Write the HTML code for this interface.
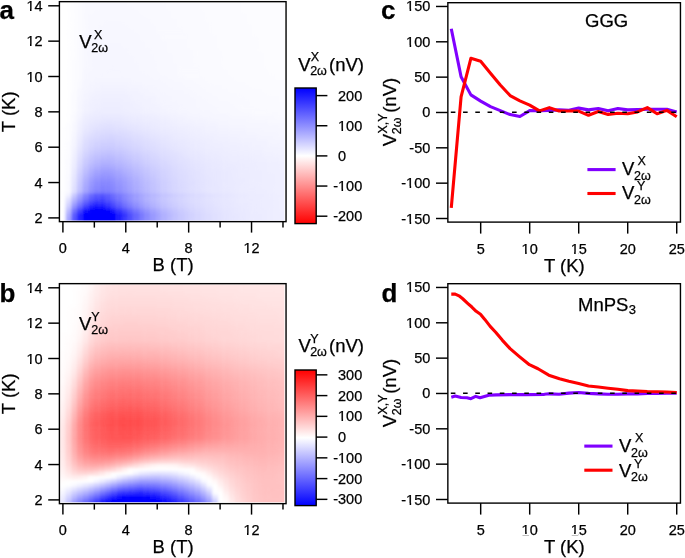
<!DOCTYPE html>
<html><head><meta charset="utf-8"><style>html,body{margin:0;padding:0;background:#fff;overflow:hidden}svg{display:block;will-change:transform}text{stroke:#000;stroke-width:0.25px}</style></head><body>
<svg width="685" height="558" viewBox="0 0 685 558" font-family='"Liberation Sans", sans-serif' fill="#000">
<defs>
<clipPath id="clipa"><rect x="60.0" y="2.3" width="224.39999999999998" height="218.29999999999998"/></clipPath>
<filter id="blura" x="-5%" y="-5%" width="110%" height="110%"><feGaussianBlur stdDeviation="1.6"/></filter>
<clipPath id="clipb"><rect x="60.0" y="284.4" width="224.39999999999998" height="217.90000000000003"/></clipPath>
<filter id="blurb" x="-5%" y="-5%" width="110%" height="110%"><feGaussianBlur stdDeviation="1.6"/></filter>
<linearGradient id="cba" x1="0" y1="0" x2="0" y2="1"><stop offset="0" stop-color="#0000ff"/><stop offset="0.5" stop-color="#ffffff"/><stop offset="1" stop-color="#ff0000"/></linearGradient>
<linearGradient id="cbb" x1="0" y1="0" x2="0" y2="1"><stop offset="0" stop-color="#ff0000"/><stop offset="0.5" stop-color="#ffffff"/><stop offset="1" stop-color="#0000ff"/></linearGradient>
</defs>
<g clip-path="url(#clipa)"><g filter="url(#blura)">
<rect x="71.3" y="-1.7" width="5.9" height="4.2" fill="#fdfdff"/>
<rect x="76.9" y="-1.7" width="5.9" height="4.2" fill="#fbfbff"/>
<rect x="82.5" y="-1.7" width="22.8" height="4.2" fill="#f9f9ff"/>
<rect x="105.1" y="-1.7" width="17.2" height="4.2" fill="#f8f8ff"/>
<rect x="122.0" y="-1.7" width="39.7" height="4.2" fill="#f9f9ff"/>
<rect x="161.4" y="-1.7" width="39.7" height="4.2" fill="#fafaff"/>
<rect x="200.8" y="-1.7" width="39.7" height="4.2" fill="#fbfbff"/>
<rect x="240.2" y="-1.7" width="51.0" height="4.2" fill="#fcfcff"/>
<rect x="65.6" y="2.2" width="5.9" height="4.2" fill="#fefeff"/>
<rect x="71.3" y="2.2" width="5.9" height="4.2" fill="#fdfdff"/>
<rect x="76.9" y="2.2" width="5.9" height="4.2" fill="#fbfbff"/>
<rect x="82.5" y="2.2" width="17.2" height="4.2" fill="#f9f9ff"/>
<rect x="99.4" y="2.2" width="28.5" height="4.2" fill="#f8f8ff"/>
<rect x="127.6" y="2.2" width="39.7" height="4.2" fill="#f9f9ff"/>
<rect x="167.0" y="2.2" width="34.1" height="4.2" fill="#fafaff"/>
<rect x="200.8" y="2.2" width="39.7" height="4.2" fill="#fbfbff"/>
<rect x="240.2" y="2.2" width="51.0" height="4.2" fill="#fcfcff"/>
<rect x="65.6" y="6.1" width="5.9" height="4.2" fill="#fefeff"/>
<rect x="71.3" y="6.1" width="5.9" height="4.2" fill="#fdfdff"/>
<rect x="76.9" y="6.1" width="5.9" height="4.2" fill="#fbfbff"/>
<rect x="82.5" y="6.1" width="17.2" height="4.2" fill="#f9f9ff"/>
<rect x="99.4" y="6.1" width="34.1" height="4.2" fill="#f8f8ff"/>
<rect x="133.2" y="6.1" width="34.1" height="4.2" fill="#f9f9ff"/>
<rect x="167.0" y="6.1" width="34.1" height="4.2" fill="#fafaff"/>
<rect x="200.8" y="6.1" width="39.7" height="4.2" fill="#fbfbff"/>
<rect x="240.2" y="6.1" width="51.0" height="4.2" fill="#fcfcff"/>
<rect x="65.6" y="10.0" width="5.9" height="4.2" fill="#fefeff"/>
<rect x="71.3" y="10.0" width="5.9" height="4.2" fill="#fdfdff"/>
<rect x="76.9" y="10.0" width="5.9" height="4.2" fill="#fbfbff"/>
<rect x="82.5" y="10.0" width="11.6" height="4.2" fill="#f9f9ff"/>
<rect x="93.8" y="10.0" width="45.4" height="4.2" fill="#f8f8ff"/>
<rect x="138.9" y="10.0" width="34.1" height="4.2" fill="#f9f9ff"/>
<rect x="172.7" y="10.0" width="34.1" height="4.2" fill="#fafaff"/>
<rect x="206.4" y="10.0" width="34.1" height="4.2" fill="#fbfbff"/>
<rect x="240.2" y="10.0" width="51.0" height="4.2" fill="#fcfcff"/>
<rect x="65.6" y="13.9" width="5.9" height="4.2" fill="#fefeff"/>
<rect x="71.3" y="13.9" width="5.9" height="4.2" fill="#fdfdff"/>
<rect x="76.9" y="13.9" width="5.9" height="4.2" fill="#fbfbff"/>
<rect x="82.5" y="13.9" width="5.9" height="4.2" fill="#f9f9ff"/>
<rect x="88.2" y="13.9" width="56.6" height="4.2" fill="#f8f8ff"/>
<rect x="144.5" y="13.9" width="28.5" height="4.2" fill="#f9f9ff"/>
<rect x="172.7" y="13.9" width="34.1" height="4.2" fill="#fafaff"/>
<rect x="206.4" y="13.9" width="39.7" height="4.2" fill="#fbfbff"/>
<rect x="245.9" y="13.9" width="45.4" height="4.2" fill="#fcfcff"/>
<rect x="65.6" y="17.8" width="5.9" height="4.2" fill="#fefeff"/>
<rect x="71.3" y="17.8" width="5.9" height="4.2" fill="#fdfdff"/>
<rect x="76.9" y="17.8" width="5.9" height="4.2" fill="#fbfbff"/>
<rect x="82.5" y="17.8" width="5.9" height="4.2" fill="#f9f9ff"/>
<rect x="88.2" y="17.8" width="62.3" height="4.2" fill="#f8f8ff"/>
<rect x="150.1" y="17.8" width="28.5" height="4.2" fill="#f9f9ff"/>
<rect x="178.3" y="17.8" width="28.5" height="4.2" fill="#fafaff"/>
<rect x="206.4" y="17.8" width="39.7" height="4.2" fill="#fbfbff"/>
<rect x="245.9" y="17.8" width="45.4" height="4.2" fill="#fcfcff"/>
<rect x="65.6" y="21.7" width="5.9" height="4.2" fill="#fefeff"/>
<rect x="71.3" y="21.7" width="5.9" height="4.2" fill="#fdfdff"/>
<rect x="76.9" y="21.7" width="5.9" height="4.2" fill="#fbfbff"/>
<rect x="82.5" y="21.7" width="5.9" height="4.2" fill="#f9f9ff"/>
<rect x="88.2" y="21.7" width="17.2" height="4.2" fill="#f8f8ff"/>
<rect x="105.1" y="21.7" width="17.2" height="4.2" fill="#f7f7ff"/>
<rect x="122.0" y="21.7" width="28.5" height="4.2" fill="#f8f8ff"/>
<rect x="150.1" y="21.7" width="28.5" height="4.2" fill="#f9f9ff"/>
<rect x="178.3" y="21.7" width="34.1" height="4.2" fill="#fafaff"/>
<rect x="212.1" y="21.7" width="34.1" height="4.2" fill="#fbfbff"/>
<rect x="245.9" y="21.7" width="45.4" height="4.2" fill="#fcfcff"/>
<rect x="65.6" y="25.6" width="5.9" height="4.2" fill="#fefeff"/>
<rect x="71.3" y="25.6" width="5.9" height="4.2" fill="#fdfdff"/>
<rect x="76.9" y="25.6" width="5.9" height="4.2" fill="#fbfbff"/>
<rect x="82.5" y="25.6" width="5.9" height="4.2" fill="#f9f9ff"/>
<rect x="88.2" y="25.6" width="11.6" height="4.2" fill="#f8f8ff"/>
<rect x="99.4" y="25.6" width="28.5" height="4.2" fill="#f7f7ff"/>
<rect x="127.6" y="25.6" width="28.5" height="4.2" fill="#f8f8ff"/>
<rect x="155.8" y="25.6" width="28.5" height="4.2" fill="#f9f9ff"/>
<rect x="183.9" y="25.6" width="28.5" height="4.2" fill="#fafaff"/>
<rect x="212.1" y="25.6" width="39.7" height="4.2" fill="#fbfbff"/>
<rect x="251.5" y="25.6" width="39.7" height="4.2" fill="#fcfcff"/>
<rect x="65.6" y="29.5" width="5.9" height="4.2" fill="#fefeff"/>
<rect x="71.3" y="29.5" width="5.9" height="4.2" fill="#fdfdff"/>
<rect x="76.9" y="29.5" width="5.9" height="4.2" fill="#fbfbff"/>
<rect x="82.5" y="29.5" width="5.9" height="4.2" fill="#f9f9ff"/>
<rect x="88.2" y="29.5" width="11.6" height="4.2" fill="#f8f8ff"/>
<rect x="99.4" y="29.5" width="34.1" height="4.2" fill="#f7f7ff"/>
<rect x="133.2" y="29.5" width="22.8" height="4.2" fill="#f8f8ff"/>
<rect x="155.8" y="29.5" width="28.5" height="4.2" fill="#f9f9ff"/>
<rect x="183.9" y="29.5" width="28.5" height="4.2" fill="#fafaff"/>
<rect x="212.1" y="29.5" width="39.7" height="4.2" fill="#fbfbff"/>
<rect x="251.5" y="29.5" width="39.7" height="4.2" fill="#fcfcff"/>
<rect x="65.6" y="33.4" width="5.9" height="4.2" fill="#fefeff"/>
<rect x="71.3" y="33.4" width="5.9" height="4.2" fill="#fdfdff"/>
<rect x="76.9" y="33.4" width="5.9" height="4.2" fill="#fbfbff"/>
<rect x="82.5" y="33.4" width="11.6" height="4.2" fill="#f8f8ff"/>
<rect x="93.8" y="33.4" width="45.4" height="4.2" fill="#f7f7ff"/>
<rect x="138.9" y="33.4" width="22.8" height="4.2" fill="#f8f8ff"/>
<rect x="161.4" y="33.4" width="28.5" height="4.2" fill="#f9f9ff"/>
<rect x="189.5" y="33.4" width="28.5" height="4.2" fill="#fafaff"/>
<rect x="217.7" y="33.4" width="34.1" height="4.2" fill="#fbfbff"/>
<rect x="251.5" y="33.4" width="39.7" height="4.2" fill="#fcfcff"/>
<rect x="65.6" y="37.3" width="5.9" height="4.2" fill="#fefeff"/>
<rect x="71.3" y="37.3" width="5.9" height="4.2" fill="#fdfdff"/>
<rect x="76.9" y="37.3" width="5.9" height="4.2" fill="#fafaff"/>
<rect x="82.5" y="37.3" width="11.6" height="4.2" fill="#f8f8ff"/>
<rect x="93.8" y="37.3" width="45.4" height="4.2" fill="#f7f7ff"/>
<rect x="138.9" y="37.3" width="22.8" height="4.2" fill="#f8f8ff"/>
<rect x="161.4" y="37.3" width="28.5" height="4.2" fill="#f9f9ff"/>
<rect x="189.5" y="37.3" width="28.5" height="4.2" fill="#fafaff"/>
<rect x="217.7" y="37.3" width="39.7" height="4.2" fill="#fbfbff"/>
<rect x="257.1" y="37.3" width="34.1" height="4.2" fill="#fcfcff"/>
<rect x="65.6" y="41.2" width="5.9" height="4.2" fill="#fefeff"/>
<rect x="71.3" y="41.2" width="5.9" height="4.2" fill="#fdfdff"/>
<rect x="76.9" y="41.2" width="5.9" height="4.2" fill="#fafaff"/>
<rect x="82.5" y="41.2" width="5.9" height="4.2" fill="#f8f8ff"/>
<rect x="88.2" y="41.2" width="56.6" height="4.2" fill="#f7f7ff"/>
<rect x="144.5" y="41.2" width="22.8" height="4.2" fill="#f8f8ff"/>
<rect x="167.0" y="41.2" width="22.8" height="4.2" fill="#f9f9ff"/>
<rect x="189.5" y="41.2" width="28.5" height="4.2" fill="#fafaff"/>
<rect x="217.7" y="41.2" width="39.7" height="4.2" fill="#fbfbff"/>
<rect x="257.1" y="41.2" width="34.1" height="4.2" fill="#fcfcff"/>
<rect x="65.6" y="45.1" width="5.9" height="4.2" fill="#fefeff"/>
<rect x="71.3" y="45.1" width="5.9" height="4.2" fill="#fdfdff"/>
<rect x="76.9" y="45.1" width="5.9" height="4.2" fill="#fafaff"/>
<rect x="82.5" y="45.1" width="5.9" height="4.2" fill="#f8f8ff"/>
<rect x="88.2" y="45.1" width="17.2" height="4.2" fill="#f7f7ff"/>
<rect x="105.1" y="45.1" width="17.2" height="4.2" fill="#f6f6ff"/>
<rect x="122.0" y="45.1" width="22.8" height="4.2" fill="#f7f7ff"/>
<rect x="144.5" y="45.1" width="22.8" height="4.2" fill="#f8f8ff"/>
<rect x="167.0" y="45.1" width="22.8" height="4.2" fill="#f9f9ff"/>
<rect x="189.5" y="45.1" width="28.5" height="4.2" fill="#fafaff"/>
<rect x="217.7" y="45.1" width="39.7" height="4.2" fill="#fbfbff"/>
<rect x="257.1" y="45.1" width="34.1" height="4.2" fill="#fcfcff"/>
<rect x="65.6" y="49.0" width="5.9" height="4.2" fill="#fefeff"/>
<rect x="71.3" y="49.0" width="5.9" height="4.2" fill="#fdfdff"/>
<rect x="76.9" y="49.0" width="5.9" height="4.2" fill="#fafaff"/>
<rect x="82.5" y="49.0" width="5.9" height="4.2" fill="#f8f8ff"/>
<rect x="88.2" y="49.0" width="11.6" height="4.2" fill="#f7f7ff"/>
<rect x="99.4" y="49.0" width="28.5" height="4.2" fill="#f6f6ff"/>
<rect x="127.6" y="49.0" width="22.8" height="4.2" fill="#f7f7ff"/>
<rect x="150.1" y="49.0" width="17.2" height="4.2" fill="#f8f8ff"/>
<rect x="167.0" y="49.0" width="28.5" height="4.2" fill="#f9f9ff"/>
<rect x="195.2" y="49.0" width="28.5" height="4.2" fill="#fafaff"/>
<rect x="223.3" y="49.0" width="34.1" height="4.2" fill="#fbfbff"/>
<rect x="257.1" y="49.0" width="34.1" height="4.2" fill="#fcfcff"/>
<rect x="65.6" y="52.9" width="5.9" height="4.2" fill="#fefeff"/>
<rect x="71.3" y="52.9" width="5.9" height="4.2" fill="#fdfdff"/>
<rect x="76.9" y="52.9" width="5.9" height="4.2" fill="#fafaff"/>
<rect x="82.5" y="52.9" width="5.9" height="4.2" fill="#f8f8ff"/>
<rect x="88.2" y="52.9" width="11.6" height="4.2" fill="#f7f7ff"/>
<rect x="99.4" y="52.9" width="28.5" height="4.2" fill="#f6f6ff"/>
<rect x="127.6" y="52.9" width="22.8" height="4.2" fill="#f7f7ff"/>
<rect x="150.1" y="52.9" width="22.8" height="4.2" fill="#f8f8ff"/>
<rect x="172.7" y="52.9" width="22.8" height="4.2" fill="#f9f9ff"/>
<rect x="195.2" y="52.9" width="28.5" height="4.2" fill="#fafaff"/>
<rect x="223.3" y="52.9" width="39.7" height="4.2" fill="#fbfbff"/>
<rect x="262.8" y="52.9" width="28.5" height="4.2" fill="#fcfcff"/>
<rect x="65.6" y="56.8" width="5.9" height="4.2" fill="#fefeff"/>
<rect x="71.3" y="56.8" width="5.9" height="4.2" fill="#fdfdff"/>
<rect x="76.9" y="56.8" width="5.9" height="4.2" fill="#fafaff"/>
<rect x="82.5" y="56.8" width="5.9" height="4.2" fill="#f8f8ff"/>
<rect x="88.2" y="56.8" width="5.9" height="4.2" fill="#f7f7ff"/>
<rect x="93.8" y="56.8" width="39.7" height="4.2" fill="#f6f6ff"/>
<rect x="133.2" y="56.8" width="17.2" height="4.2" fill="#f7f7ff"/>
<rect x="150.1" y="56.8" width="22.8" height="4.2" fill="#f8f8ff"/>
<rect x="172.7" y="56.8" width="22.8" height="4.2" fill="#f9f9ff"/>
<rect x="195.2" y="56.8" width="28.5" height="4.2" fill="#fafaff"/>
<rect x="223.3" y="56.8" width="39.7" height="4.2" fill="#fbfbff"/>
<rect x="262.8" y="56.8" width="28.5" height="4.2" fill="#fcfcff"/>
<rect x="65.6" y="60.7" width="5.9" height="4.2" fill="#fefeff"/>
<rect x="71.3" y="60.7" width="5.9" height="4.2" fill="#fcfcff"/>
<rect x="76.9" y="60.7" width="5.9" height="4.2" fill="#fafaff"/>
<rect x="82.5" y="60.7" width="5.9" height="4.2" fill="#f8f8ff"/>
<rect x="88.2" y="60.7" width="5.9" height="4.2" fill="#f7f7ff"/>
<rect x="93.8" y="60.7" width="39.7" height="4.2" fill="#f6f6ff"/>
<rect x="133.2" y="60.7" width="22.8" height="4.2" fill="#f7f7ff"/>
<rect x="155.8" y="60.7" width="17.2" height="4.2" fill="#f8f8ff"/>
<rect x="172.7" y="60.7" width="22.8" height="4.2" fill="#f9f9ff"/>
<rect x="195.2" y="60.7" width="28.5" height="4.2" fill="#fafaff"/>
<rect x="223.3" y="60.7" width="39.7" height="4.2" fill="#fbfbff"/>
<rect x="262.8" y="60.7" width="28.5" height="4.2" fill="#fcfcff"/>
<rect x="65.6" y="64.6" width="5.9" height="4.2" fill="#fefeff"/>
<rect x="71.3" y="64.6" width="5.9" height="4.2" fill="#fcfcff"/>
<rect x="76.9" y="64.6" width="5.9" height="4.2" fill="#fafaff"/>
<rect x="82.5" y="64.6" width="5.9" height="4.2" fill="#f8f8ff"/>
<rect x="88.2" y="64.6" width="5.9" height="4.2" fill="#f7f7ff"/>
<rect x="93.8" y="64.6" width="17.2" height="4.2" fill="#f6f6ff"/>
<rect x="110.7" y="64.6" width="5.9" height="4.2" fill="#f5f5ff"/>
<rect x="116.3" y="64.6" width="22.8" height="4.2" fill="#f6f6ff"/>
<rect x="138.9" y="64.6" width="17.2" height="4.2" fill="#f7f7ff"/>
<rect x="155.8" y="64.6" width="22.8" height="4.2" fill="#f8f8ff"/>
<rect x="178.3" y="64.6" width="22.8" height="4.2" fill="#f9f9ff"/>
<rect x="200.8" y="64.6" width="22.8" height="4.2" fill="#fafaff"/>
<rect x="223.3" y="64.6" width="39.7" height="4.2" fill="#fbfbff"/>
<rect x="262.8" y="64.6" width="28.5" height="4.2" fill="#fcfcff"/>
<rect x="65.6" y="68.5" width="5.9" height="4.2" fill="#fefeff"/>
<rect x="71.3" y="68.5" width="5.9" height="4.2" fill="#fcfcff"/>
<rect x="76.9" y="68.5" width="5.9" height="4.2" fill="#fafaff"/>
<rect x="82.5" y="68.5" width="11.6" height="4.2" fill="#f7f7ff"/>
<rect x="93.8" y="68.5" width="11.6" height="4.2" fill="#f6f6ff"/>
<rect x="105.1" y="68.5" width="17.2" height="4.2" fill="#f5f5ff"/>
<rect x="122.0" y="68.5" width="17.2" height="4.2" fill="#f6f6ff"/>
<rect x="138.9" y="68.5" width="17.2" height="4.2" fill="#f7f7ff"/>
<rect x="155.8" y="68.5" width="22.8" height="4.2" fill="#f8f8ff"/>
<rect x="178.3" y="68.5" width="22.8" height="4.2" fill="#f9f9ff"/>
<rect x="200.8" y="68.5" width="28.5" height="4.2" fill="#fafaff"/>
<rect x="229.0" y="68.5" width="39.7" height="4.2" fill="#fbfbff"/>
<rect x="268.4" y="68.5" width="22.8" height="4.2" fill="#fcfcff"/>
<rect x="65.6" y="72.4" width="5.9" height="4.2" fill="#fefeff"/>
<rect x="71.3" y="72.4" width="5.9" height="4.2" fill="#fcfcff"/>
<rect x="76.9" y="72.4" width="5.9" height="4.2" fill="#fafaff"/>
<rect x="82.5" y="72.4" width="5.9" height="4.2" fill="#f7f7ff"/>
<rect x="88.2" y="72.4" width="11.6" height="4.2" fill="#f6f6ff"/>
<rect x="99.4" y="72.4" width="22.8" height="4.2" fill="#f5f5ff"/>
<rect x="122.0" y="72.4" width="22.8" height="4.2" fill="#f6f6ff"/>
<rect x="144.5" y="72.4" width="17.2" height="4.2" fill="#f7f7ff"/>
<rect x="161.4" y="72.4" width="17.2" height="4.2" fill="#f8f8ff"/>
<rect x="178.3" y="72.4" width="22.8" height="4.2" fill="#f9f9ff"/>
<rect x="200.8" y="72.4" width="28.5" height="4.2" fill="#fafaff"/>
<rect x="229.0" y="72.4" width="39.7" height="4.2" fill="#fbfbff"/>
<rect x="268.4" y="72.4" width="22.8" height="4.2" fill="#fcfcff"/>
<rect x="65.6" y="76.3" width="5.9" height="4.2" fill="#fefeff"/>
<rect x="71.3" y="76.3" width="5.9" height="4.2" fill="#fcfcff"/>
<rect x="76.9" y="76.3" width="5.9" height="4.2" fill="#fafaff"/>
<rect x="82.5" y="76.3" width="5.9" height="4.2" fill="#f7f7ff"/>
<rect x="88.2" y="76.3" width="5.9" height="4.2" fill="#f6f6ff"/>
<rect x="93.8" y="76.3" width="39.7" height="4.2" fill="#f5f5ff"/>
<rect x="133.2" y="76.3" width="17.2" height="4.2" fill="#f6f6ff"/>
<rect x="150.1" y="76.3" width="17.2" height="4.2" fill="#f7f7ff"/>
<rect x="167.0" y="76.3" width="17.2" height="4.2" fill="#f8f8ff"/>
<rect x="183.9" y="76.3" width="22.8" height="4.2" fill="#f9f9ff"/>
<rect x="206.4" y="76.3" width="28.5" height="4.2" fill="#fafaff"/>
<rect x="234.6" y="76.3" width="39.7" height="4.2" fill="#fbfbff"/>
<rect x="274.0" y="76.3" width="17.2" height="4.2" fill="#fcfcff"/>
<rect x="65.6" y="80.2" width="5.9" height="4.2" fill="#fefeff"/>
<rect x="71.3" y="80.2" width="5.9" height="4.2" fill="#fcfcff"/>
<rect x="76.9" y="80.2" width="5.9" height="4.2" fill="#f9f9ff"/>
<rect x="82.5" y="80.2" width="5.9" height="4.2" fill="#f6f6ff"/>
<rect x="88.2" y="80.2" width="5.9" height="4.2" fill="#f5f5ff"/>
<rect x="93.8" y="80.2" width="39.7" height="4.2" fill="#f4f4ff"/>
<rect x="133.2" y="80.2" width="11.6" height="4.2" fill="#f5f5ff"/>
<rect x="144.5" y="80.2" width="17.2" height="4.2" fill="#f6f6ff"/>
<rect x="161.4" y="80.2" width="11.6" height="4.2" fill="#f7f7ff"/>
<rect x="172.7" y="80.2" width="22.8" height="4.2" fill="#f8f8ff"/>
<rect x="195.2" y="80.2" width="17.2" height="4.2" fill="#f9f9ff"/>
<rect x="212.1" y="80.2" width="34.1" height="4.2" fill="#fafaff"/>
<rect x="245.9" y="80.2" width="39.7" height="4.2" fill="#fbfbff"/>
<rect x="285.3" y="80.2" width="5.9" height="4.2" fill="#fcfcff"/>
<rect x="65.6" y="84.1" width="5.9" height="4.2" fill="#fefeff"/>
<rect x="71.3" y="84.1" width="5.9" height="4.2" fill="#fcfcff"/>
<rect x="76.9" y="84.1" width="5.9" height="4.2" fill="#f9f9ff"/>
<rect x="82.5" y="84.1" width="5.9" height="4.2" fill="#f6f6ff"/>
<rect x="88.2" y="84.1" width="11.6" height="4.2" fill="#f4f4ff"/>
<rect x="99.4" y="84.1" width="28.5" height="4.2" fill="#f3f3ff"/>
<rect x="127.6" y="84.1" width="17.2" height="4.2" fill="#f4f4ff"/>
<rect x="144.5" y="84.1" width="11.6" height="4.2" fill="#f5f5ff"/>
<rect x="155.8" y="84.1" width="11.6" height="4.2" fill="#f6f6ff"/>
<rect x="167.0" y="84.1" width="17.2" height="4.2" fill="#f7f7ff"/>
<rect x="183.9" y="84.1" width="17.2" height="4.2" fill="#f8f8ff"/>
<rect x="200.8" y="84.1" width="22.8" height="4.2" fill="#f9f9ff"/>
<rect x="223.3" y="84.1" width="28.5" height="4.2" fill="#fafaff"/>
<rect x="251.5" y="84.1" width="39.7" height="4.2" fill="#fbfbff"/>
<rect x="65.6" y="88.0" width="5.9" height="4.2" fill="#fefeff"/>
<rect x="71.3" y="88.0" width="5.9" height="4.2" fill="#fcfcff"/>
<rect x="76.9" y="88.0" width="5.9" height="4.2" fill="#f8f8ff"/>
<rect x="82.5" y="88.0" width="5.9" height="4.2" fill="#f5f5ff"/>
<rect x="88.2" y="88.0" width="5.9" height="4.2" fill="#f4f4ff"/>
<rect x="93.8" y="88.0" width="5.9" height="4.2" fill="#f3f3ff"/>
<rect x="99.4" y="88.0" width="28.5" height="4.2" fill="#f2f2ff"/>
<rect x="127.6" y="88.0" width="11.6" height="4.2" fill="#f3f3ff"/>
<rect x="138.9" y="88.0" width="11.6" height="4.2" fill="#f4f4ff"/>
<rect x="150.1" y="88.0" width="11.6" height="4.2" fill="#f5f5ff"/>
<rect x="161.4" y="88.0" width="11.6" height="4.2" fill="#f6f6ff"/>
<rect x="172.7" y="88.0" width="17.2" height="4.2" fill="#f7f7ff"/>
<rect x="189.5" y="88.0" width="17.2" height="4.2" fill="#f8f8ff"/>
<rect x="206.4" y="88.0" width="22.8" height="4.2" fill="#f9f9ff"/>
<rect x="229.0" y="88.0" width="34.1" height="4.2" fill="#fafaff"/>
<rect x="262.8" y="88.0" width="28.5" height="4.2" fill="#fbfbff"/>
<rect x="65.6" y="91.9" width="5.9" height="4.2" fill="#fefeff"/>
<rect x="71.3" y="91.9" width="5.9" height="4.2" fill="#fbfbff"/>
<rect x="76.9" y="91.9" width="5.9" height="4.2" fill="#f8f8ff"/>
<rect x="82.5" y="91.9" width="5.9" height="4.2" fill="#f4f4ff"/>
<rect x="88.2" y="91.9" width="5.9" height="4.2" fill="#f3f3ff"/>
<rect x="93.8" y="91.9" width="5.9" height="4.2" fill="#f2f2ff"/>
<rect x="99.4" y="91.9" width="28.5" height="4.2" fill="#f1f1ff"/>
<rect x="127.6" y="91.9" width="11.6" height="4.2" fill="#f2f2ff"/>
<rect x="138.9" y="91.9" width="5.9" height="4.2" fill="#f3f3ff"/>
<rect x="144.5" y="91.9" width="11.6" height="4.2" fill="#f4f4ff"/>
<rect x="155.8" y="91.9" width="11.6" height="4.2" fill="#f5f5ff"/>
<rect x="167.0" y="91.9" width="17.2" height="4.2" fill="#f6f6ff"/>
<rect x="183.9" y="91.9" width="11.6" height="4.2" fill="#f7f7ff"/>
<rect x="195.2" y="91.9" width="17.2" height="4.2" fill="#f8f8ff"/>
<rect x="212.1" y="91.9" width="28.5" height="4.2" fill="#f9f9ff"/>
<rect x="240.2" y="91.9" width="28.5" height="4.2" fill="#fafaff"/>
<rect x="268.4" y="91.9" width="22.8" height="4.2" fill="#fbfbff"/>
<rect x="65.6" y="95.8" width="5.9" height="4.2" fill="#fefeff"/>
<rect x="71.3" y="95.8" width="5.9" height="4.2" fill="#fbfbff"/>
<rect x="76.9" y="95.8" width="5.9" height="4.2" fill="#f7f7ff"/>
<rect x="82.5" y="95.8" width="5.9" height="4.2" fill="#f4f4ff"/>
<rect x="88.2" y="95.8" width="5.9" height="4.2" fill="#f2f2ff"/>
<rect x="93.8" y="95.8" width="5.9" height="4.2" fill="#f1f1ff"/>
<rect x="99.4" y="95.8" width="28.5" height="4.2" fill="#f0f0ff"/>
<rect x="127.6" y="95.8" width="5.9" height="4.2" fill="#f1f1ff"/>
<rect x="133.2" y="95.8" width="11.6" height="4.2" fill="#f2f2ff"/>
<rect x="144.5" y="95.8" width="11.6" height="4.2" fill="#f3f3ff"/>
<rect x="155.8" y="95.8" width="5.9" height="4.2" fill="#f4f4ff"/>
<rect x="161.4" y="95.8" width="11.6" height="4.2" fill="#f5f5ff"/>
<rect x="172.7" y="95.8" width="17.2" height="4.2" fill="#f6f6ff"/>
<rect x="189.5" y="95.8" width="11.6" height="4.2" fill="#f7f7ff"/>
<rect x="200.8" y="95.8" width="17.2" height="4.2" fill="#f8f8ff"/>
<rect x="217.7" y="95.8" width="28.5" height="4.2" fill="#f9f9ff"/>
<rect x="245.9" y="95.8" width="34.1" height="4.2" fill="#fafaff"/>
<rect x="279.7" y="95.8" width="11.6" height="4.2" fill="#fbfbff"/>
<rect x="65.6" y="99.7" width="5.9" height="4.2" fill="#fefeff"/>
<rect x="71.3" y="99.7" width="5.9" height="4.2" fill="#fbfbff"/>
<rect x="76.9" y="99.7" width="5.9" height="4.2" fill="#f7f7ff"/>
<rect x="82.5" y="99.7" width="5.9" height="4.2" fill="#f3f3ff"/>
<rect x="88.2" y="99.7" width="5.9" height="4.2" fill="#f1f1ff"/>
<rect x="93.8" y="99.7" width="5.9" height="4.2" fill="#f0f0ff"/>
<rect x="99.4" y="99.7" width="22.8" height="4.2" fill="#efefff"/>
<rect x="122.0" y="99.7" width="11.6" height="4.2" fill="#f0f0ff"/>
<rect x="133.2" y="99.7" width="5.9" height="4.2" fill="#f1f1ff"/>
<rect x="138.9" y="99.7" width="11.6" height="4.2" fill="#f2f2ff"/>
<rect x="150.1" y="99.7" width="5.9" height="4.2" fill="#f3f3ff"/>
<rect x="155.8" y="99.7" width="11.6" height="4.2" fill="#f4f4ff"/>
<rect x="167.0" y="99.7" width="11.6" height="4.2" fill="#f5f5ff"/>
<rect x="178.3" y="99.7" width="17.2" height="4.2" fill="#f6f6ff"/>
<rect x="195.2" y="99.7" width="11.6" height="4.2" fill="#f7f7ff"/>
<rect x="206.4" y="99.7" width="22.8" height="4.2" fill="#f8f8ff"/>
<rect x="229.0" y="99.7" width="22.8" height="4.2" fill="#f9f9ff"/>
<rect x="251.5" y="99.7" width="39.7" height="4.2" fill="#fafaff"/>
<rect x="65.6" y="103.6" width="5.9" height="4.2" fill="#fefeff"/>
<rect x="71.3" y="103.6" width="5.9" height="4.2" fill="#fbfbff"/>
<rect x="76.9" y="103.6" width="5.9" height="4.2" fill="#f6f6ff"/>
<rect x="82.5" y="103.6" width="5.9" height="4.2" fill="#f2f2ff"/>
<rect x="88.2" y="103.6" width="5.9" height="4.2" fill="#f0f0ff"/>
<rect x="93.8" y="103.6" width="5.9" height="4.2" fill="#efefff"/>
<rect x="99.4" y="103.6" width="22.8" height="4.2" fill="#eeeeff"/>
<rect x="122.0" y="103.6" width="11.6" height="4.2" fill="#efefff"/>
<rect x="133.2" y="103.6" width="5.9" height="4.2" fill="#f0f0ff"/>
<rect x="138.9" y="103.6" width="5.9" height="4.2" fill="#f1f1ff"/>
<rect x="144.5" y="103.6" width="11.6" height="4.2" fill="#f2f2ff"/>
<rect x="155.8" y="103.6" width="5.9" height="4.2" fill="#f3f3ff"/>
<rect x="161.4" y="103.6" width="11.6" height="4.2" fill="#f4f4ff"/>
<rect x="172.7" y="103.6" width="11.6" height="4.2" fill="#f5f5ff"/>
<rect x="183.9" y="103.6" width="11.6" height="4.2" fill="#f6f6ff"/>
<rect x="195.2" y="103.6" width="17.2" height="4.2" fill="#f7f7ff"/>
<rect x="212.1" y="103.6" width="22.8" height="4.2" fill="#f8f8ff"/>
<rect x="234.6" y="103.6" width="22.8" height="4.2" fill="#f9f9ff"/>
<rect x="257.1" y="103.6" width="34.1" height="4.2" fill="#fafaff"/>
<rect x="65.6" y="107.5" width="5.9" height="4.2" fill="#fefeff"/>
<rect x="71.3" y="107.5" width="5.9" height="4.2" fill="#fbfbff"/>
<rect x="76.9" y="107.5" width="5.9" height="4.2" fill="#f6f6ff"/>
<rect x="82.5" y="107.5" width="5.9" height="4.2" fill="#f2f2ff"/>
<rect x="88.2" y="107.5" width="5.9" height="4.2" fill="#f0f0ff"/>
<rect x="93.8" y="107.5" width="5.9" height="4.2" fill="#eeeeff"/>
<rect x="99.4" y="107.5" width="22.8" height="4.2" fill="#ededff"/>
<rect x="122.0" y="107.5" width="5.9" height="4.2" fill="#eeeeff"/>
<rect x="127.6" y="107.5" width="11.6" height="4.2" fill="#efefff"/>
<rect x="138.9" y="107.5" width="5.9" height="4.2" fill="#f0f0ff"/>
<rect x="144.5" y="107.5" width="5.9" height="4.2" fill="#f1f1ff"/>
<rect x="150.1" y="107.5" width="11.6" height="4.2" fill="#f2f2ff"/>
<rect x="161.4" y="107.5" width="5.9" height="4.2" fill="#f3f3ff"/>
<rect x="167.0" y="107.5" width="11.6" height="4.2" fill="#f4f4ff"/>
<rect x="178.3" y="107.5" width="11.6" height="4.2" fill="#f5f5ff"/>
<rect x="189.5" y="107.5" width="11.6" height="4.2" fill="#f6f6ff"/>
<rect x="200.8" y="107.5" width="17.2" height="4.2" fill="#f7f7ff"/>
<rect x="217.7" y="107.5" width="22.8" height="4.2" fill="#f8f8ff"/>
<rect x="240.2" y="107.5" width="28.5" height="4.2" fill="#f9f9ff"/>
<rect x="268.4" y="107.5" width="22.8" height="4.2" fill="#fafaff"/>
<rect x="65.6" y="111.5" width="5.9" height="4.2" fill="#fefeff"/>
<rect x="71.3" y="111.5" width="5.9" height="4.2" fill="#fafaff"/>
<rect x="76.9" y="111.5" width="5.9" height="4.2" fill="#f5f5ff"/>
<rect x="82.5" y="111.5" width="5.9" height="4.2" fill="#f0f0ff"/>
<rect x="88.2" y="111.5" width="5.9" height="4.2" fill="#eeeeff"/>
<rect x="93.8" y="111.5" width="5.9" height="4.2" fill="#ececff"/>
<rect x="99.4" y="111.5" width="22.8" height="4.2" fill="#ebebff"/>
<rect x="122.0" y="111.5" width="5.9" height="4.2" fill="#ececff"/>
<rect x="127.6" y="111.5" width="5.9" height="4.2" fill="#ededff"/>
<rect x="133.2" y="111.5" width="5.9" height="4.2" fill="#eeeeff"/>
<rect x="138.9" y="111.5" width="5.9" height="4.2" fill="#efefff"/>
<rect x="144.5" y="111.5" width="11.6" height="4.2" fill="#f0f0ff"/>
<rect x="155.8" y="111.5" width="5.9" height="4.2" fill="#f1f1ff"/>
<rect x="161.4" y="111.5" width="5.9" height="4.2" fill="#f2f2ff"/>
<rect x="167.0" y="111.5" width="11.6" height="4.2" fill="#f3f3ff"/>
<rect x="178.3" y="111.5" width="11.6" height="4.2" fill="#f4f4ff"/>
<rect x="189.5" y="111.5" width="11.6" height="4.2" fill="#f5f5ff"/>
<rect x="200.8" y="111.5" width="11.6" height="4.2" fill="#f6f6ff"/>
<rect x="212.1" y="111.5" width="17.2" height="4.2" fill="#f7f7ff"/>
<rect x="229.0" y="111.5" width="22.8" height="4.2" fill="#f8f8ff"/>
<rect x="251.5" y="111.5" width="28.5" height="4.2" fill="#f9f9ff"/>
<rect x="279.7" y="111.5" width="11.6" height="4.2" fill="#fafaff"/>
<rect x="65.6" y="115.4" width="5.9" height="4.2" fill="#fefeff"/>
<rect x="71.3" y="115.4" width="5.9" height="4.2" fill="#f9f9ff"/>
<rect x="76.9" y="115.4" width="5.9" height="4.2" fill="#f4f4ff"/>
<rect x="82.5" y="115.4" width="5.9" height="4.2" fill="#eeeeff"/>
<rect x="88.2" y="115.4" width="5.9" height="4.2" fill="#ebebff"/>
<rect x="93.8" y="115.4" width="5.9" height="4.2" fill="#eaeaff"/>
<rect x="99.4" y="115.4" width="22.8" height="4.2" fill="#e8e8ff"/>
<rect x="122.0" y="115.4" width="5.9" height="4.2" fill="#e9e9ff"/>
<rect x="127.6" y="115.4" width="5.9" height="4.2" fill="#eaeaff"/>
<rect x="133.2" y="115.4" width="5.9" height="4.2" fill="#ebebff"/>
<rect x="138.9" y="115.4" width="5.9" height="4.2" fill="#ececff"/>
<rect x="144.5" y="115.4" width="5.9" height="4.2" fill="#ededff"/>
<rect x="150.1" y="115.4" width="5.9" height="4.2" fill="#eeeeff"/>
<rect x="155.8" y="115.4" width="5.9" height="4.2" fill="#efefff"/>
<rect x="161.4" y="115.4" width="5.9" height="4.2" fill="#f0f0ff"/>
<rect x="167.0" y="115.4" width="5.9" height="4.2" fill="#f1f1ff"/>
<rect x="172.7" y="115.4" width="11.6" height="4.2" fill="#f2f2ff"/>
<rect x="183.9" y="115.4" width="5.9" height="4.2" fill="#f3f3ff"/>
<rect x="189.5" y="115.4" width="11.6" height="4.2" fill="#f4f4ff"/>
<rect x="200.8" y="115.4" width="11.6" height="4.2" fill="#f5f5ff"/>
<rect x="212.1" y="115.4" width="17.2" height="4.2" fill="#f6f6ff"/>
<rect x="229.0" y="115.4" width="22.8" height="4.2" fill="#f7f7ff"/>
<rect x="251.5" y="115.4" width="22.8" height="4.2" fill="#f8f8ff"/>
<rect x="274.0" y="115.4" width="17.2" height="4.2" fill="#f9f9ff"/>
<rect x="65.6" y="119.3" width="5.9" height="4.2" fill="#fefeff"/>
<rect x="71.3" y="119.3" width="5.9" height="4.2" fill="#f9f9ff"/>
<rect x="76.9" y="119.3" width="5.9" height="4.2" fill="#f2f2ff"/>
<rect x="82.5" y="119.3" width="5.9" height="4.2" fill="#ececff"/>
<rect x="88.2" y="119.3" width="5.9" height="4.2" fill="#e9e9ff"/>
<rect x="93.8" y="119.3" width="5.9" height="4.2" fill="#e7e7ff"/>
<rect x="99.4" y="119.3" width="5.9" height="4.2" fill="#e5e5ff"/>
<rect x="105.1" y="119.3" width="5.9" height="4.2" fill="#e4e4ff"/>
<rect x="110.7" y="119.3" width="11.6" height="4.2" fill="#e5e5ff"/>
<rect x="122.0" y="119.3" width="5.9" height="4.2" fill="#e7e7ff"/>
<rect x="127.6" y="119.3" width="5.9" height="4.2" fill="#e8e8ff"/>
<rect x="133.2" y="119.3" width="5.9" height="4.2" fill="#e9e9ff"/>
<rect x="138.9" y="119.3" width="5.9" height="4.2" fill="#eaeaff"/>
<rect x="144.5" y="119.3" width="5.9" height="4.2" fill="#ebebff"/>
<rect x="150.1" y="119.3" width="5.9" height="4.2" fill="#ececff"/>
<rect x="155.8" y="119.3" width="5.9" height="4.2" fill="#ededff"/>
<rect x="161.4" y="119.3" width="5.9" height="4.2" fill="#eeeeff"/>
<rect x="167.0" y="119.3" width="5.9" height="4.2" fill="#efefff"/>
<rect x="172.7" y="119.3" width="5.9" height="4.2" fill="#f0f0ff"/>
<rect x="178.3" y="119.3" width="5.9" height="4.2" fill="#f1f1ff"/>
<rect x="183.9" y="119.3" width="11.6" height="4.2" fill="#f2f2ff"/>
<rect x="195.2" y="119.3" width="11.6" height="4.2" fill="#f3f3ff"/>
<rect x="206.4" y="119.3" width="11.6" height="4.2" fill="#f4f4ff"/>
<rect x="217.7" y="119.3" width="11.6" height="4.2" fill="#f5f5ff"/>
<rect x="229.0" y="119.3" width="17.2" height="4.2" fill="#f6f6ff"/>
<rect x="245.9" y="119.3" width="22.8" height="4.2" fill="#f7f7ff"/>
<rect x="268.4" y="119.3" width="22.8" height="4.2" fill="#f8f8ff"/>
<rect x="65.6" y="123.2" width="5.9" height="4.2" fill="#fdfdff"/>
<rect x="71.3" y="123.2" width="5.9" height="4.2" fill="#f8f8ff"/>
<rect x="76.9" y="123.2" width="5.9" height="4.2" fill="#f1f1ff"/>
<rect x="82.5" y="123.2" width="5.9" height="4.2" fill="#eaeaff"/>
<rect x="88.2" y="123.2" width="5.9" height="4.2" fill="#e6e6ff"/>
<rect x="93.8" y="123.2" width="5.9" height="4.2" fill="#e4e4ff"/>
<rect x="99.4" y="123.2" width="5.9" height="4.2" fill="#e2e2ff"/>
<rect x="105.1" y="123.2" width="5.9" height="4.2" fill="#e1e1ff"/>
<rect x="110.7" y="123.2" width="5.9" height="4.2" fill="#e2e2ff"/>
<rect x="116.3" y="123.2" width="5.9" height="4.2" fill="#e3e3ff"/>
<rect x="122.0" y="123.2" width="5.9" height="4.2" fill="#e4e4ff"/>
<rect x="127.6" y="123.2" width="5.9" height="4.2" fill="#e5e5ff"/>
<rect x="133.2" y="123.2" width="5.9" height="4.2" fill="#e6e6ff"/>
<rect x="138.9" y="123.2" width="5.9" height="4.2" fill="#e8e8ff"/>
<rect x="144.5" y="123.2" width="5.9" height="4.2" fill="#e9e9ff"/>
<rect x="150.1" y="123.2" width="5.9" height="4.2" fill="#eaeaff"/>
<rect x="155.8" y="123.2" width="5.9" height="4.2" fill="#ececff"/>
<rect x="161.4" y="123.2" width="5.9" height="4.2" fill="#ededff"/>
<rect x="167.0" y="123.2" width="5.9" height="4.2" fill="#eeeeff"/>
<rect x="172.7" y="123.2" width="5.9" height="4.2" fill="#efefff"/>
<rect x="178.3" y="123.2" width="11.6" height="4.2" fill="#f0f0ff"/>
<rect x="189.5" y="123.2" width="5.9" height="4.2" fill="#f1f1ff"/>
<rect x="195.2" y="123.2" width="11.6" height="4.2" fill="#f2f2ff"/>
<rect x="206.4" y="123.2" width="11.6" height="4.2" fill="#f3f3ff"/>
<rect x="217.7" y="123.2" width="11.6" height="4.2" fill="#f4f4ff"/>
<rect x="229.0" y="123.2" width="17.2" height="4.2" fill="#f5f5ff"/>
<rect x="245.9" y="123.2" width="22.8" height="4.2" fill="#f6f6ff"/>
<rect x="268.4" y="123.2" width="22.8" height="4.2" fill="#f7f7ff"/>
<rect x="60.0" y="127.1" width="5.9" height="4.2" fill="#fefeff"/>
<rect x="65.6" y="127.1" width="5.9" height="4.2" fill="#fdfdff"/>
<rect x="71.3" y="127.1" width="5.9" height="4.2" fill="#f8f8ff"/>
<rect x="76.9" y="127.1" width="5.9" height="4.2" fill="#f0f0ff"/>
<rect x="82.5" y="127.1" width="5.9" height="4.2" fill="#e8e8ff"/>
<rect x="88.2" y="127.1" width="5.9" height="4.2" fill="#e4e4ff"/>
<rect x="93.8" y="127.1" width="5.9" height="4.2" fill="#e1e1ff"/>
<rect x="99.4" y="127.1" width="5.9" height="4.2" fill="#dfdfff"/>
<rect x="105.1" y="127.1" width="5.9" height="4.2" fill="#dedeff"/>
<rect x="110.7" y="127.1" width="5.9" height="4.2" fill="#dfdfff"/>
<rect x="116.3" y="127.1" width="5.9" height="4.2" fill="#e0e0ff"/>
<rect x="122.0" y="127.1" width="5.9" height="4.2" fill="#e1e1ff"/>
<rect x="127.6" y="127.1" width="5.9" height="4.2" fill="#e3e3ff"/>
<rect x="133.2" y="127.1" width="5.9" height="4.2" fill="#e4e4ff"/>
<rect x="138.9" y="127.1" width="5.9" height="4.2" fill="#e6e6ff"/>
<rect x="144.5" y="127.1" width="5.9" height="4.2" fill="#e7e7ff"/>
<rect x="150.1" y="127.1" width="5.9" height="4.2" fill="#e9e9ff"/>
<rect x="155.8" y="127.1" width="5.9" height="4.2" fill="#eaeaff"/>
<rect x="161.4" y="127.1" width="5.9" height="4.2" fill="#ebebff"/>
<rect x="167.0" y="127.1" width="5.9" height="4.2" fill="#ececff"/>
<rect x="172.7" y="127.1" width="5.9" height="4.2" fill="#ededff"/>
<rect x="178.3" y="127.1" width="5.9" height="4.2" fill="#eeeeff"/>
<rect x="183.9" y="127.1" width="5.9" height="4.2" fill="#efefff"/>
<rect x="189.5" y="127.1" width="11.6" height="4.2" fill="#f0f0ff"/>
<rect x="200.8" y="127.1" width="5.9" height="4.2" fill="#f1f1ff"/>
<rect x="206.4" y="127.1" width="11.6" height="4.2" fill="#f2f2ff"/>
<rect x="217.7" y="127.1" width="11.6" height="4.2" fill="#f3f3ff"/>
<rect x="229.0" y="127.1" width="17.2" height="4.2" fill="#f4f4ff"/>
<rect x="245.9" y="127.1" width="17.2" height="4.2" fill="#f5f5ff"/>
<rect x="262.8" y="127.1" width="17.2" height="4.2" fill="#f6f6ff"/>
<rect x="279.7" y="127.1" width="11.6" height="4.2" fill="#f7f7ff"/>
<rect x="60.0" y="131.0" width="5.9" height="4.2" fill="#fefeff"/>
<rect x="65.6" y="131.0" width="5.9" height="4.2" fill="#fdfdff"/>
<rect x="71.3" y="131.0" width="5.9" height="4.2" fill="#f7f7ff"/>
<rect x="76.9" y="131.0" width="5.9" height="4.2" fill="#eeeeff"/>
<rect x="82.5" y="131.0" width="5.9" height="4.2" fill="#e5e5ff"/>
<rect x="88.2" y="131.0" width="5.9" height="4.2" fill="#e1e1ff"/>
<rect x="93.8" y="131.0" width="5.9" height="4.2" fill="#ddddff"/>
<rect x="99.4" y="131.0" width="5.9" height="4.2" fill="#dbdbff"/>
<rect x="105.1" y="131.0" width="5.9" height="4.2" fill="#dadaff"/>
<rect x="110.7" y="131.0" width="5.9" height="4.2" fill="#dbdbff"/>
<rect x="116.3" y="131.0" width="5.9" height="4.2" fill="#dcdcff"/>
<rect x="122.0" y="131.0" width="5.9" height="4.2" fill="#ddddff"/>
<rect x="127.6" y="131.0" width="5.9" height="4.2" fill="#dfdfff"/>
<rect x="133.2" y="131.0" width="5.9" height="4.2" fill="#e1e1ff"/>
<rect x="138.9" y="131.0" width="5.9" height="4.2" fill="#e3e3ff"/>
<rect x="144.5" y="131.0" width="5.9" height="4.2" fill="#e4e4ff"/>
<rect x="150.1" y="131.0" width="5.9" height="4.2" fill="#e6e6ff"/>
<rect x="155.8" y="131.0" width="5.9" height="4.2" fill="#e8e8ff"/>
<rect x="161.4" y="131.0" width="5.9" height="4.2" fill="#e9e9ff"/>
<rect x="167.0" y="131.0" width="5.9" height="4.2" fill="#eaeaff"/>
<rect x="172.7" y="131.0" width="5.9" height="4.2" fill="#ebebff"/>
<rect x="178.3" y="131.0" width="5.9" height="4.2" fill="#ececff"/>
<rect x="183.9" y="131.0" width="5.9" height="4.2" fill="#ededff"/>
<rect x="189.5" y="131.0" width="5.9" height="4.2" fill="#eeeeff"/>
<rect x="195.2" y="131.0" width="5.9" height="4.2" fill="#efefff"/>
<rect x="200.8" y="131.0" width="5.9" height="4.2" fill="#f0f0ff"/>
<rect x="206.4" y="131.0" width="11.6" height="4.2" fill="#f1f1ff"/>
<rect x="217.7" y="131.0" width="11.6" height="4.2" fill="#f2f2ff"/>
<rect x="229.0" y="131.0" width="17.2" height="4.2" fill="#f3f3ff"/>
<rect x="245.9" y="131.0" width="11.6" height="4.2" fill="#f4f4ff"/>
<rect x="257.1" y="131.0" width="22.8" height="4.2" fill="#f5f5ff"/>
<rect x="279.7" y="131.0" width="11.6" height="4.2" fill="#f6f6ff"/>
<rect x="60.0" y="134.9" width="5.9" height="4.2" fill="#fefeff"/>
<rect x="65.6" y="134.9" width="5.9" height="4.2" fill="#fdfdff"/>
<rect x="71.3" y="134.9" width="5.9" height="4.2" fill="#f6f6ff"/>
<rect x="76.9" y="134.9" width="5.9" height="4.2" fill="#ececff"/>
<rect x="82.5" y="134.9" width="5.9" height="4.2" fill="#e2e2ff"/>
<rect x="88.2" y="134.9" width="5.9" height="4.2" fill="#ddddff"/>
<rect x="93.8" y="134.9" width="5.9" height="4.2" fill="#dadaff"/>
<rect x="99.4" y="134.9" width="5.9" height="4.2" fill="#d7d7ff"/>
<rect x="105.1" y="134.9" width="11.6" height="4.2" fill="#d6d6ff"/>
<rect x="116.3" y="134.9" width="5.9" height="4.2" fill="#d8d8ff"/>
<rect x="122.0" y="134.9" width="5.9" height="4.2" fill="#dadaff"/>
<rect x="127.6" y="134.9" width="5.9" height="4.2" fill="#dcdcff"/>
<rect x="133.2" y="134.9" width="5.9" height="4.2" fill="#dedeff"/>
<rect x="138.9" y="134.9" width="5.9" height="4.2" fill="#e0e0ff"/>
<rect x="144.5" y="134.9" width="5.9" height="4.2" fill="#e2e2ff"/>
<rect x="150.1" y="134.9" width="5.9" height="4.2" fill="#e4e4ff"/>
<rect x="155.8" y="134.9" width="5.9" height="4.2" fill="#e5e5ff"/>
<rect x="161.4" y="134.9" width="5.9" height="4.2" fill="#e7e7ff"/>
<rect x="167.0" y="134.9" width="5.9" height="4.2" fill="#e8e8ff"/>
<rect x="172.7" y="134.9" width="5.9" height="4.2" fill="#eaeaff"/>
<rect x="178.3" y="134.9" width="5.9" height="4.2" fill="#ebebff"/>
<rect x="183.9" y="134.9" width="5.9" height="4.2" fill="#ececff"/>
<rect x="189.5" y="134.9" width="5.9" height="4.2" fill="#ededff"/>
<rect x="195.2" y="134.9" width="5.9" height="4.2" fill="#eeeeff"/>
<rect x="200.8" y="134.9" width="11.6" height="4.2" fill="#efefff"/>
<rect x="212.1" y="134.9" width="5.9" height="4.2" fill="#f0f0ff"/>
<rect x="217.7" y="134.9" width="11.6" height="4.2" fill="#f1f1ff"/>
<rect x="229.0" y="134.9" width="11.6" height="4.2" fill="#f2f2ff"/>
<rect x="240.2" y="134.9" width="17.2" height="4.2" fill="#f3f3ff"/>
<rect x="257.1" y="134.9" width="17.2" height="4.2" fill="#f4f4ff"/>
<rect x="274.0" y="134.9" width="17.2" height="4.2" fill="#f5f5ff"/>
<rect x="60.0" y="138.8" width="5.9" height="4.2" fill="#fefeff"/>
<rect x="65.6" y="138.8" width="5.9" height="4.2" fill="#fdfdff"/>
<rect x="71.3" y="138.8" width="5.9" height="4.2" fill="#f5f5ff"/>
<rect x="76.9" y="138.8" width="5.9" height="4.2" fill="#eaeaff"/>
<rect x="82.5" y="138.8" width="5.9" height="4.2" fill="#dfdfff"/>
<rect x="88.2" y="138.8" width="5.9" height="4.2" fill="#d9d9ff"/>
<rect x="93.8" y="138.8" width="5.9" height="4.2" fill="#d5d5ff"/>
<rect x="99.4" y="138.8" width="5.9" height="4.2" fill="#d3d3ff"/>
<rect x="105.1" y="138.8" width="5.9" height="4.2" fill="#d1d1ff"/>
<rect x="110.7" y="138.8" width="5.9" height="4.2" fill="#d2d2ff"/>
<rect x="116.3" y="138.8" width="5.9" height="4.2" fill="#d4d4ff"/>
<rect x="122.0" y="138.8" width="5.9" height="4.2" fill="#d6d6ff"/>
<rect x="127.6" y="138.8" width="5.9" height="4.2" fill="#d8d8ff"/>
<rect x="133.2" y="138.8" width="5.9" height="4.2" fill="#dbdbff"/>
<rect x="138.9" y="138.8" width="5.9" height="4.2" fill="#ddddff"/>
<rect x="144.5" y="138.8" width="5.9" height="4.2" fill="#dfdfff"/>
<rect x="150.1" y="138.8" width="5.9" height="4.2" fill="#e1e1ff"/>
<rect x="155.8" y="138.8" width="5.9" height="4.2" fill="#e3e3ff"/>
<rect x="161.4" y="138.8" width="5.9" height="4.2" fill="#e5e5ff"/>
<rect x="167.0" y="138.8" width="5.9" height="4.2" fill="#e7e7ff"/>
<rect x="172.7" y="138.8" width="5.9" height="4.2" fill="#e8e8ff"/>
<rect x="178.3" y="138.8" width="5.9" height="4.2" fill="#e9e9ff"/>
<rect x="183.9" y="138.8" width="5.9" height="4.2" fill="#eaeaff"/>
<rect x="189.5" y="138.8" width="5.9" height="4.2" fill="#ebebff"/>
<rect x="195.2" y="138.8" width="5.9" height="4.2" fill="#ececff"/>
<rect x="200.8" y="138.8" width="5.9" height="4.2" fill="#ededff"/>
<rect x="206.4" y="138.8" width="5.9" height="4.2" fill="#eeeeff"/>
<rect x="212.1" y="138.8" width="5.9" height="4.2" fill="#efefff"/>
<rect x="217.7" y="138.8" width="11.6" height="4.2" fill="#f0f0ff"/>
<rect x="229.0" y="138.8" width="11.6" height="4.2" fill="#f1f1ff"/>
<rect x="240.2" y="138.8" width="17.2" height="4.2" fill="#f2f2ff"/>
<rect x="257.1" y="138.8" width="11.6" height="4.2" fill="#f3f3ff"/>
<rect x="268.4" y="138.8" width="22.8" height="4.2" fill="#f4f4ff"/>
<rect x="60.0" y="142.7" width="5.9" height="4.2" fill="#fefeff"/>
<rect x="65.6" y="142.7" width="5.9" height="4.2" fill="#fcfcff"/>
<rect x="71.3" y="142.7" width="5.9" height="4.2" fill="#f4f4ff"/>
<rect x="76.9" y="142.7" width="5.9" height="4.2" fill="#e8e8ff"/>
<rect x="82.5" y="142.7" width="5.9" height="4.2" fill="#dcdcff"/>
<rect x="88.2" y="142.7" width="5.9" height="4.2" fill="#d6d6ff"/>
<rect x="93.8" y="142.7" width="5.9" height="4.2" fill="#d1d1ff"/>
<rect x="99.4" y="142.7" width="5.9" height="4.2" fill="#ceceff"/>
<rect x="105.1" y="142.7" width="5.9" height="4.2" fill="#cdcdff"/>
<rect x="110.7" y="142.7" width="5.9" height="4.2" fill="#ceceff"/>
<rect x="116.3" y="142.7" width="5.9" height="4.2" fill="#d0d0ff"/>
<rect x="122.0" y="142.7" width="5.9" height="4.2" fill="#d3d3ff"/>
<rect x="127.6" y="142.7" width="5.9" height="4.2" fill="#d5d5ff"/>
<rect x="133.2" y="142.7" width="5.9" height="4.2" fill="#d8d8ff"/>
<rect x="138.9" y="142.7" width="5.9" height="4.2" fill="#dadaff"/>
<rect x="144.5" y="142.7" width="5.9" height="4.2" fill="#ddddff"/>
<rect x="150.1" y="142.7" width="5.9" height="4.2" fill="#dfdfff"/>
<rect x="155.8" y="142.7" width="5.9" height="4.2" fill="#e1e1ff"/>
<rect x="161.4" y="142.7" width="5.9" height="4.2" fill="#e3e3ff"/>
<rect x="167.0" y="142.7" width="5.9" height="4.2" fill="#e5e5ff"/>
<rect x="172.7" y="142.7" width="5.9" height="4.2" fill="#e6e6ff"/>
<rect x="178.3" y="142.7" width="5.9" height="4.2" fill="#e8e8ff"/>
<rect x="183.9" y="142.7" width="5.9" height="4.2" fill="#e9e9ff"/>
<rect x="189.5" y="142.7" width="5.9" height="4.2" fill="#eaeaff"/>
<rect x="195.2" y="142.7" width="5.9" height="4.2" fill="#ebebff"/>
<rect x="200.8" y="142.7" width="5.9" height="4.2" fill="#ececff"/>
<rect x="206.4" y="142.7" width="5.9" height="4.2" fill="#ededff"/>
<rect x="212.1" y="142.7" width="11.6" height="4.2" fill="#eeeeff"/>
<rect x="223.3" y="142.7" width="5.9" height="4.2" fill="#efefff"/>
<rect x="229.0" y="142.7" width="11.6" height="4.2" fill="#f0f0ff"/>
<rect x="240.2" y="142.7" width="11.6" height="4.2" fill="#f1f1ff"/>
<rect x="251.5" y="142.7" width="17.2" height="4.2" fill="#f2f2ff"/>
<rect x="268.4" y="142.7" width="11.6" height="4.2" fill="#f3f3ff"/>
<rect x="279.7" y="142.7" width="11.6" height="4.2" fill="#f4f4ff"/>
<rect x="60.0" y="146.6" width="5.9" height="4.2" fill="#fefeff"/>
<rect x="65.6" y="146.6" width="5.9" height="4.2" fill="#fcfcff"/>
<rect x="71.3" y="146.6" width="5.9" height="4.2" fill="#f3f3ff"/>
<rect x="76.9" y="146.6" width="5.9" height="4.2" fill="#e5e5ff"/>
<rect x="82.5" y="146.6" width="5.9" height="4.2" fill="#d9d9ff"/>
<rect x="88.2" y="146.6" width="5.9" height="4.2" fill="#d1d1ff"/>
<rect x="93.8" y="146.6" width="5.9" height="4.2" fill="#ccccff"/>
<rect x="99.4" y="146.6" width="5.9" height="4.2" fill="#c9c9ff"/>
<rect x="105.1" y="146.6" width="5.9" height="4.2" fill="#c8c8ff"/>
<rect x="110.7" y="146.6" width="5.9" height="4.2" fill="#c9c9ff"/>
<rect x="116.3" y="146.6" width="5.9" height="4.2" fill="#cbcbff"/>
<rect x="122.0" y="146.6" width="5.9" height="4.2" fill="#ceceff"/>
<rect x="127.6" y="146.6" width="5.9" height="4.2" fill="#d1d1ff"/>
<rect x="133.2" y="146.6" width="5.9" height="4.2" fill="#d4d4ff"/>
<rect x="138.9" y="146.6" width="5.9" height="4.2" fill="#d7d7ff"/>
<rect x="144.5" y="146.6" width="5.9" height="4.2" fill="#dadaff"/>
<rect x="150.1" y="146.6" width="5.9" height="4.2" fill="#dcdcff"/>
<rect x="155.8" y="146.6" width="5.9" height="4.2" fill="#dfdfff"/>
<rect x="161.4" y="146.6" width="5.9" height="4.2" fill="#e1e1ff"/>
<rect x="167.0" y="146.6" width="5.9" height="4.2" fill="#e3e3ff"/>
<rect x="172.7" y="146.6" width="5.9" height="4.2" fill="#e5e5ff"/>
<rect x="178.3" y="146.6" width="5.9" height="4.2" fill="#e6e6ff"/>
<rect x="183.9" y="146.6" width="5.9" height="4.2" fill="#e7e7ff"/>
<rect x="189.5" y="146.6" width="5.9" height="4.2" fill="#e9e9ff"/>
<rect x="195.2" y="146.6" width="5.9" height="4.2" fill="#eaeaff"/>
<rect x="200.8" y="146.6" width="5.9" height="4.2" fill="#ebebff"/>
<rect x="206.4" y="146.6" width="5.9" height="4.2" fill="#ececff"/>
<rect x="212.1" y="146.6" width="11.6" height="4.2" fill="#ededff"/>
<rect x="223.3" y="146.6" width="5.9" height="4.2" fill="#eeeeff"/>
<rect x="229.0" y="146.6" width="11.6" height="4.2" fill="#efefff"/>
<rect x="240.2" y="146.6" width="11.6" height="4.2" fill="#f0f0ff"/>
<rect x="251.5" y="146.6" width="11.6" height="4.2" fill="#f1f1ff"/>
<rect x="262.8" y="146.6" width="17.2" height="4.2" fill="#f2f2ff"/>
<rect x="279.7" y="146.6" width="11.6" height="4.2" fill="#f3f3ff"/>
<rect x="60.0" y="150.5" width="5.9" height="4.2" fill="#fefeff"/>
<rect x="65.6" y="150.5" width="5.9" height="4.2" fill="#fcfcff"/>
<rect x="71.3" y="150.5" width="5.9" height="4.2" fill="#f1f1ff"/>
<rect x="76.9" y="150.5" width="5.9" height="4.2" fill="#e2e2ff"/>
<rect x="82.5" y="150.5" width="5.9" height="4.2" fill="#d4d4ff"/>
<rect x="88.2" y="150.5" width="5.9" height="4.2" fill="#ccccff"/>
<rect x="93.8" y="150.5" width="5.9" height="4.2" fill="#c6c6ff"/>
<rect x="99.4" y="150.5" width="5.9" height="4.2" fill="#c2c2ff"/>
<rect x="105.1" y="150.5" width="5.9" height="4.2" fill="#c1c1ff"/>
<rect x="110.7" y="150.5" width="5.9" height="4.2" fill="#c3c3ff"/>
<rect x="116.3" y="150.5" width="5.9" height="4.2" fill="#c5c5ff"/>
<rect x="122.0" y="150.5" width="5.9" height="4.2" fill="#c8c8ff"/>
<rect x="127.6" y="150.5" width="5.9" height="4.2" fill="#ccccff"/>
<rect x="133.2" y="150.5" width="5.9" height="4.2" fill="#cfcfff"/>
<rect x="138.9" y="150.5" width="5.9" height="4.2" fill="#d3d3ff"/>
<rect x="144.5" y="150.5" width="5.9" height="4.2" fill="#d6d6ff"/>
<rect x="150.1" y="150.5" width="5.9" height="4.2" fill="#d9d9ff"/>
<rect x="155.8" y="150.5" width="5.9" height="4.2" fill="#dcdcff"/>
<rect x="161.4" y="150.5" width="5.9" height="4.2" fill="#dedeff"/>
<rect x="167.0" y="150.5" width="5.9" height="4.2" fill="#e0e0ff"/>
<rect x="172.7" y="150.5" width="5.9" height="4.2" fill="#e2e2ff"/>
<rect x="178.3" y="150.5" width="5.9" height="4.2" fill="#e4e4ff"/>
<rect x="183.9" y="150.5" width="5.9" height="4.2" fill="#e6e6ff"/>
<rect x="189.5" y="150.5" width="5.9" height="4.2" fill="#e7e7ff"/>
<rect x="195.2" y="150.5" width="5.9" height="4.2" fill="#e8e8ff"/>
<rect x="200.8" y="150.5" width="5.9" height="4.2" fill="#eaeaff"/>
<rect x="206.4" y="150.5" width="11.6" height="4.2" fill="#ebebff"/>
<rect x="217.7" y="150.5" width="5.9" height="4.2" fill="#ececff"/>
<rect x="223.3" y="150.5" width="5.9" height="4.2" fill="#ededff"/>
<rect x="229.0" y="150.5" width="11.6" height="4.2" fill="#eeeeff"/>
<rect x="240.2" y="150.5" width="11.6" height="4.2" fill="#efefff"/>
<rect x="251.5" y="150.5" width="11.6" height="4.2" fill="#f0f0ff"/>
<rect x="262.8" y="150.5" width="11.6" height="4.2" fill="#f1f1ff"/>
<rect x="274.0" y="150.5" width="17.2" height="4.2" fill="#f2f2ff"/>
<rect x="60.0" y="154.4" width="5.9" height="4.2" fill="#fefeff"/>
<rect x="65.6" y="154.4" width="5.9" height="4.2" fill="#fcfcff"/>
<rect x="71.3" y="154.4" width="5.9" height="4.2" fill="#f0f0ff"/>
<rect x="76.9" y="154.4" width="5.9" height="4.2" fill="#dfdfff"/>
<rect x="82.5" y="154.4" width="5.9" height="4.2" fill="#d0d0ff"/>
<rect x="88.2" y="154.4" width="5.9" height="4.2" fill="#c6c6ff"/>
<rect x="93.8" y="154.4" width="5.9" height="4.2" fill="#c0c0ff"/>
<rect x="99.4" y="154.4" width="5.9" height="4.2" fill="#bbbbff"/>
<rect x="105.1" y="154.4" width="5.9" height="4.2" fill="#babaff"/>
<rect x="110.7" y="154.4" width="5.9" height="4.2" fill="#bcbcff"/>
<rect x="116.3" y="154.4" width="5.9" height="4.2" fill="#bfbfff"/>
<rect x="122.0" y="154.4" width="5.9" height="4.2" fill="#c3c3ff"/>
<rect x="127.6" y="154.4" width="5.9" height="4.2" fill="#c7c7ff"/>
<rect x="133.2" y="154.4" width="5.9" height="4.2" fill="#cbcbff"/>
<rect x="138.9" y="154.4" width="5.9" height="4.2" fill="#cfcfff"/>
<rect x="144.5" y="154.4" width="5.9" height="4.2" fill="#d2d2ff"/>
<rect x="150.1" y="154.4" width="5.9" height="4.2" fill="#d6d6ff"/>
<rect x="155.8" y="154.4" width="5.9" height="4.2" fill="#d9d9ff"/>
<rect x="161.4" y="154.4" width="5.9" height="4.2" fill="#dcdcff"/>
<rect x="167.0" y="154.4" width="5.9" height="4.2" fill="#dedeff"/>
<rect x="172.7" y="154.4" width="5.9" height="4.2" fill="#e0e0ff"/>
<rect x="178.3" y="154.4" width="5.9" height="4.2" fill="#e2e2ff"/>
<rect x="183.9" y="154.4" width="5.9" height="4.2" fill="#e4e4ff"/>
<rect x="189.5" y="154.4" width="5.9" height="4.2" fill="#e6e6ff"/>
<rect x="195.2" y="154.4" width="5.9" height="4.2" fill="#e7e7ff"/>
<rect x="200.8" y="154.4" width="5.9" height="4.2" fill="#e8e8ff"/>
<rect x="206.4" y="154.4" width="5.9" height="4.2" fill="#e9e9ff"/>
<rect x="212.1" y="154.4" width="5.9" height="4.2" fill="#eaeaff"/>
<rect x="217.7" y="154.4" width="5.9" height="4.2" fill="#ebebff"/>
<rect x="223.3" y="154.4" width="5.9" height="4.2" fill="#ececff"/>
<rect x="229.0" y="154.4" width="11.6" height="4.2" fill="#ededff"/>
<rect x="240.2" y="154.4" width="11.6" height="4.2" fill="#eeeeff"/>
<rect x="251.5" y="154.4" width="11.6" height="4.2" fill="#efefff"/>
<rect x="262.8" y="154.4" width="11.6" height="4.2" fill="#f0f0ff"/>
<rect x="274.0" y="154.4" width="17.2" height="4.2" fill="#f1f1ff"/>
<rect x="60.0" y="158.3" width="5.9" height="4.2" fill="#fefeff"/>
<rect x="65.6" y="158.3" width="5.9" height="4.2" fill="#fbfbff"/>
<rect x="71.3" y="158.3" width="5.9" height="4.2" fill="#eeeeff"/>
<rect x="76.9" y="158.3" width="5.9" height="4.2" fill="#dcdcff"/>
<rect x="82.5" y="158.3" width="5.9" height="4.2" fill="#cbcbff"/>
<rect x="88.2" y="158.3" width="5.9" height="4.2" fill="#c1c1ff"/>
<rect x="93.8" y="158.3" width="5.9" height="4.2" fill="#b9b9ff"/>
<rect x="99.4" y="158.3" width="5.9" height="4.2" fill="#b4b4ff"/>
<rect x="105.1" y="158.3" width="5.9" height="4.2" fill="#b3b3ff"/>
<rect x="110.7" y="158.3" width="5.9" height="4.2" fill="#b6b6ff"/>
<rect x="116.3" y="158.3" width="5.9" height="4.2" fill="#b9b9ff"/>
<rect x="122.0" y="158.3" width="5.9" height="4.2" fill="#bebeff"/>
<rect x="127.6" y="158.3" width="5.9" height="4.2" fill="#c2c2ff"/>
<rect x="133.2" y="158.3" width="5.9" height="4.2" fill="#c7c7ff"/>
<rect x="138.9" y="158.3" width="5.9" height="4.2" fill="#cbcbff"/>
<rect x="144.5" y="158.3" width="5.9" height="4.2" fill="#cfcfff"/>
<rect x="150.1" y="158.3" width="5.9" height="4.2" fill="#d3d3ff"/>
<rect x="155.8" y="158.3" width="5.9" height="4.2" fill="#d6d6ff"/>
<rect x="161.4" y="158.3" width="5.9" height="4.2" fill="#d9d9ff"/>
<rect x="167.0" y="158.3" width="5.9" height="4.2" fill="#dcdcff"/>
<rect x="172.7" y="158.3" width="5.9" height="4.2" fill="#dedeff"/>
<rect x="178.3" y="158.3" width="5.9" height="4.2" fill="#e1e1ff"/>
<rect x="183.9" y="158.3" width="5.9" height="4.2" fill="#e2e2ff"/>
<rect x="189.5" y="158.3" width="5.9" height="4.2" fill="#e4e4ff"/>
<rect x="195.2" y="158.3" width="5.9" height="4.2" fill="#e6e6ff"/>
<rect x="200.8" y="158.3" width="5.9" height="4.2" fill="#e7e7ff"/>
<rect x="206.4" y="158.3" width="5.9" height="4.2" fill="#e8e8ff"/>
<rect x="212.1" y="158.3" width="5.9" height="4.2" fill="#e9e9ff"/>
<rect x="217.7" y="158.3" width="5.9" height="4.2" fill="#eaeaff"/>
<rect x="223.3" y="158.3" width="5.9" height="4.2" fill="#ebebff"/>
<rect x="229.0" y="158.3" width="11.6" height="4.2" fill="#ececff"/>
<rect x="240.2" y="158.3" width="11.6" height="4.2" fill="#ededff"/>
<rect x="251.5" y="158.3" width="5.9" height="4.2" fill="#eeeeff"/>
<rect x="257.1" y="158.3" width="11.6" height="4.2" fill="#efefff"/>
<rect x="268.4" y="158.3" width="11.6" height="4.2" fill="#f0f0ff"/>
<rect x="279.7" y="158.3" width="11.6" height="4.2" fill="#f1f1ff"/>
<rect x="60.0" y="162.2" width="5.9" height="4.2" fill="#fefeff"/>
<rect x="65.6" y="162.2" width="5.9" height="4.2" fill="#fbfbff"/>
<rect x="71.3" y="162.2" width="5.9" height="4.2" fill="#ededff"/>
<rect x="76.9" y="162.2" width="5.9" height="4.2" fill="#d9d9ff"/>
<rect x="82.5" y="162.2" width="5.9" height="4.2" fill="#c7c7ff"/>
<rect x="88.2" y="162.2" width="5.9" height="4.2" fill="#bbbbff"/>
<rect x="93.8" y="162.2" width="5.9" height="4.2" fill="#b3b3ff"/>
<rect x="99.4" y="162.2" width="11.6" height="4.2" fill="#adadff"/>
<rect x="110.7" y="162.2" width="5.9" height="4.2" fill="#b0b0ff"/>
<rect x="116.3" y="162.2" width="5.9" height="4.2" fill="#b4b4ff"/>
<rect x="122.0" y="162.2" width="5.9" height="4.2" fill="#b8b8ff"/>
<rect x="127.6" y="162.2" width="5.9" height="4.2" fill="#bdbdff"/>
<rect x="133.2" y="162.2" width="5.9" height="4.2" fill="#c2c2ff"/>
<rect x="138.9" y="162.2" width="5.9" height="4.2" fill="#c7c7ff"/>
<rect x="144.5" y="162.2" width="5.9" height="4.2" fill="#ccccff"/>
<rect x="150.1" y="162.2" width="5.9" height="4.2" fill="#d0d0ff"/>
<rect x="155.8" y="162.2" width="5.9" height="4.2" fill="#d4d4ff"/>
<rect x="161.4" y="162.2" width="5.9" height="4.2" fill="#d7d7ff"/>
<rect x="167.0" y="162.2" width="5.9" height="4.2" fill="#dadaff"/>
<rect x="172.7" y="162.2" width="5.9" height="4.2" fill="#ddddff"/>
<rect x="178.3" y="162.2" width="5.9" height="4.2" fill="#dfdfff"/>
<rect x="183.9" y="162.2" width="5.9" height="4.2" fill="#e1e1ff"/>
<rect x="189.5" y="162.2" width="5.9" height="4.2" fill="#e3e3ff"/>
<rect x="195.2" y="162.2" width="5.9" height="4.2" fill="#e4e4ff"/>
<rect x="200.8" y="162.2" width="5.9" height="4.2" fill="#e6e6ff"/>
<rect x="206.4" y="162.2" width="5.9" height="4.2" fill="#e7e7ff"/>
<rect x="212.1" y="162.2" width="5.9" height="4.2" fill="#e8e8ff"/>
<rect x="217.7" y="162.2" width="5.9" height="4.2" fill="#e9e9ff"/>
<rect x="223.3" y="162.2" width="5.9" height="4.2" fill="#eaeaff"/>
<rect x="229.0" y="162.2" width="11.6" height="4.2" fill="#ebebff"/>
<rect x="240.2" y="162.2" width="5.9" height="4.2" fill="#ececff"/>
<rect x="245.9" y="162.2" width="11.6" height="4.2" fill="#ededff"/>
<rect x="257.1" y="162.2" width="11.6" height="4.2" fill="#eeeeff"/>
<rect x="268.4" y="162.2" width="11.6" height="4.2" fill="#efefff"/>
<rect x="279.7" y="162.2" width="11.6" height="4.2" fill="#f0f0ff"/>
<rect x="60.0" y="166.1" width="5.9" height="4.2" fill="#fefeff"/>
<rect x="65.6" y="166.1" width="5.9" height="4.2" fill="#fbfbff"/>
<rect x="71.3" y="166.1" width="5.9" height="4.2" fill="#ebebff"/>
<rect x="76.9" y="166.1" width="5.9" height="4.2" fill="#d6d6ff"/>
<rect x="82.5" y="166.1" width="5.9" height="4.2" fill="#c2c2ff"/>
<rect x="88.2" y="166.1" width="5.9" height="4.2" fill="#b5b5ff"/>
<rect x="93.8" y="166.1" width="5.9" height="4.2" fill="#ababff"/>
<rect x="99.4" y="166.1" width="11.6" height="4.2" fill="#a5a5ff"/>
<rect x="110.7" y="166.1" width="5.9" height="4.2" fill="#a8a8ff"/>
<rect x="116.3" y="166.1" width="5.9" height="4.2" fill="#adadff"/>
<rect x="122.0" y="166.1" width="5.9" height="4.2" fill="#b3b3ff"/>
<rect x="127.6" y="166.1" width="5.9" height="4.2" fill="#b8b8ff"/>
<rect x="133.2" y="166.1" width="5.9" height="4.2" fill="#bebeff"/>
<rect x="138.9" y="166.1" width="5.9" height="4.2" fill="#c3c3ff"/>
<rect x="144.5" y="166.1" width="5.9" height="4.2" fill="#c8c8ff"/>
<rect x="150.1" y="166.1" width="5.9" height="4.2" fill="#cdcdff"/>
<rect x="155.8" y="166.1" width="5.9" height="4.2" fill="#d1d1ff"/>
<rect x="161.4" y="166.1" width="5.9" height="4.2" fill="#d5d5ff"/>
<rect x="167.0" y="166.1" width="5.9" height="4.2" fill="#d8d8ff"/>
<rect x="172.7" y="166.1" width="5.9" height="4.2" fill="#dbdbff"/>
<rect x="178.3" y="166.1" width="5.9" height="4.2" fill="#dedeff"/>
<rect x="183.9" y="166.1" width="5.9" height="4.2" fill="#e0e0ff"/>
<rect x="189.5" y="166.1" width="5.9" height="4.2" fill="#e2e2ff"/>
<rect x="195.2" y="166.1" width="5.9" height="4.2" fill="#e4e4ff"/>
<rect x="200.8" y="166.1" width="5.9" height="4.2" fill="#e5e5ff"/>
<rect x="206.4" y="166.1" width="5.9" height="4.2" fill="#e7e7ff"/>
<rect x="212.1" y="166.1" width="5.9" height="4.2" fill="#e8e8ff"/>
<rect x="217.7" y="166.1" width="5.9" height="4.2" fill="#e9e9ff"/>
<rect x="223.3" y="166.1" width="11.6" height="4.2" fill="#eaeaff"/>
<rect x="234.6" y="166.1" width="5.9" height="4.2" fill="#ebebff"/>
<rect x="240.2" y="166.1" width="11.6" height="4.2" fill="#ececff"/>
<rect x="251.5" y="166.1" width="5.9" height="4.2" fill="#ededff"/>
<rect x="257.1" y="166.1" width="11.6" height="4.2" fill="#eeeeff"/>
<rect x="268.4" y="166.1" width="11.6" height="4.2" fill="#efefff"/>
<rect x="279.7" y="166.1" width="11.6" height="4.2" fill="#f0f0ff"/>
<rect x="60.0" y="170.0" width="5.9" height="4.2" fill="#fefeff"/>
<rect x="65.6" y="170.0" width="5.9" height="4.2" fill="#fbfbff"/>
<rect x="71.3" y="170.0" width="5.9" height="4.2" fill="#e9e9ff"/>
<rect x="76.9" y="170.0" width="5.9" height="4.2" fill="#d2d2ff"/>
<rect x="82.5" y="170.0" width="5.9" height="4.2" fill="#bdbdff"/>
<rect x="88.2" y="170.0" width="5.9" height="4.2" fill="#aeaeff"/>
<rect x="93.8" y="170.0" width="5.9" height="4.2" fill="#a3a3ff"/>
<rect x="99.4" y="170.0" width="11.6" height="4.2" fill="#9d9dff"/>
<rect x="110.7" y="170.0" width="5.9" height="4.2" fill="#a1a1ff"/>
<rect x="116.3" y="170.0" width="5.9" height="4.2" fill="#a6a6ff"/>
<rect x="122.0" y="170.0" width="5.9" height="4.2" fill="#adadff"/>
<rect x="127.6" y="170.0" width="5.9" height="4.2" fill="#b3b3ff"/>
<rect x="133.2" y="170.0" width="5.9" height="4.2" fill="#babaff"/>
<rect x="138.9" y="170.0" width="5.9" height="4.2" fill="#c0c0ff"/>
<rect x="144.5" y="170.0" width="5.9" height="4.2" fill="#c5c5ff"/>
<rect x="150.1" y="170.0" width="5.9" height="4.2" fill="#cbcbff"/>
<rect x="155.8" y="170.0" width="5.9" height="4.2" fill="#cfcfff"/>
<rect x="161.4" y="170.0" width="5.9" height="4.2" fill="#d3d3ff"/>
<rect x="167.0" y="170.0" width="5.9" height="4.2" fill="#d7d7ff"/>
<rect x="172.7" y="170.0" width="5.9" height="4.2" fill="#dadaff"/>
<rect x="178.3" y="170.0" width="5.9" height="4.2" fill="#ddddff"/>
<rect x="183.9" y="170.0" width="5.9" height="4.2" fill="#dfdfff"/>
<rect x="189.5" y="170.0" width="5.9" height="4.2" fill="#e1e1ff"/>
<rect x="195.2" y="170.0" width="5.9" height="4.2" fill="#e3e3ff"/>
<rect x="200.8" y="170.0" width="5.9" height="4.2" fill="#e5e5ff"/>
<rect x="206.4" y="170.0" width="5.9" height="4.2" fill="#e6e6ff"/>
<rect x="212.1" y="170.0" width="5.9" height="4.2" fill="#e7e7ff"/>
<rect x="217.7" y="170.0" width="5.9" height="4.2" fill="#e8e8ff"/>
<rect x="223.3" y="170.0" width="5.9" height="4.2" fill="#e9e9ff"/>
<rect x="229.0" y="170.0" width="5.9" height="4.2" fill="#eaeaff"/>
<rect x="234.6" y="170.0" width="5.9" height="4.2" fill="#ebebff"/>
<rect x="240.2" y="170.0" width="11.6" height="4.2" fill="#ececff"/>
<rect x="251.5" y="170.0" width="11.6" height="4.2" fill="#ededff"/>
<rect x="262.8" y="170.0" width="5.9" height="4.2" fill="#eeeeff"/>
<rect x="268.4" y="170.0" width="11.6" height="4.2" fill="#efefff"/>
<rect x="279.7" y="170.0" width="11.6" height="4.2" fill="#f0f0ff"/>
<rect x="60.0" y="173.9" width="5.9" height="4.2" fill="#fefeff"/>
<rect x="65.6" y="173.9" width="5.9" height="4.2" fill="#fafaff"/>
<rect x="71.3" y="173.9" width="5.9" height="4.2" fill="#e7e7ff"/>
<rect x="76.9" y="173.9" width="5.9" height="4.2" fill="#ceceff"/>
<rect x="82.5" y="173.9" width="5.9" height="4.2" fill="#b7b7ff"/>
<rect x="88.2" y="173.9" width="5.9" height="4.2" fill="#a7a7ff"/>
<rect x="93.8" y="173.9" width="5.9" height="4.2" fill="#9b9bff"/>
<rect x="99.4" y="173.9" width="5.9" height="4.2" fill="#9494ff"/>
<rect x="105.1" y="173.9" width="5.9" height="4.2" fill="#9595ff"/>
<rect x="110.7" y="173.9" width="5.9" height="4.2" fill="#9a9aff"/>
<rect x="116.3" y="173.9" width="5.9" height="4.2" fill="#a0a0ff"/>
<rect x="122.0" y="173.9" width="5.9" height="4.2" fill="#a7a7ff"/>
<rect x="127.6" y="173.9" width="5.9" height="4.2" fill="#aeaeff"/>
<rect x="133.2" y="173.9" width="5.9" height="4.2" fill="#b5b5ff"/>
<rect x="138.9" y="173.9" width="5.9" height="4.2" fill="#bcbcff"/>
<rect x="144.5" y="173.9" width="5.9" height="4.2" fill="#c2c2ff"/>
<rect x="150.1" y="173.9" width="5.9" height="4.2" fill="#c8c8ff"/>
<rect x="155.8" y="173.9" width="5.9" height="4.2" fill="#cdcdff"/>
<rect x="161.4" y="173.9" width="5.9" height="4.2" fill="#d2d2ff"/>
<rect x="167.0" y="173.9" width="5.9" height="4.2" fill="#d6d6ff"/>
<rect x="172.7" y="173.9" width="5.9" height="4.2" fill="#d9d9ff"/>
<rect x="178.3" y="173.9" width="5.9" height="4.2" fill="#dcdcff"/>
<rect x="183.9" y="173.9" width="5.9" height="4.2" fill="#dedeff"/>
<rect x="189.5" y="173.9" width="5.9" height="4.2" fill="#e1e1ff"/>
<rect x="195.2" y="173.9" width="5.9" height="4.2" fill="#e3e3ff"/>
<rect x="200.8" y="173.9" width="5.9" height="4.2" fill="#e4e4ff"/>
<rect x="206.4" y="173.9" width="5.9" height="4.2" fill="#e6e6ff"/>
<rect x="212.1" y="173.9" width="5.9" height="4.2" fill="#e7e7ff"/>
<rect x="217.7" y="173.9" width="5.9" height="4.2" fill="#e8e8ff"/>
<rect x="223.3" y="173.9" width="5.9" height="4.2" fill="#e9e9ff"/>
<rect x="229.0" y="173.9" width="5.9" height="4.2" fill="#eaeaff"/>
<rect x="234.6" y="173.9" width="5.9" height="4.2" fill="#ebebff"/>
<rect x="240.2" y="173.9" width="11.6" height="4.2" fill="#ececff"/>
<rect x="251.5" y="173.9" width="11.6" height="4.2" fill="#ededff"/>
<rect x="262.8" y="173.9" width="11.6" height="4.2" fill="#eeeeff"/>
<rect x="274.0" y="173.9" width="11.6" height="4.2" fill="#efefff"/>
<rect x="285.3" y="173.9" width="5.9" height="4.2" fill="#f0f0ff"/>
<rect x="60.0" y="177.8" width="5.9" height="4.2" fill="#fefeff"/>
<rect x="65.6" y="177.8" width="5.9" height="4.2" fill="#fafaff"/>
<rect x="71.3" y="177.8" width="5.9" height="4.2" fill="#e5e5ff"/>
<rect x="76.9" y="177.8" width="5.9" height="4.2" fill="#cacaff"/>
<rect x="82.5" y="177.8" width="5.9" height="4.2" fill="#b1b1ff"/>
<rect x="88.2" y="177.8" width="5.9" height="4.2" fill="#9f9fff"/>
<rect x="93.8" y="177.8" width="5.9" height="4.2" fill="#9393ff"/>
<rect x="99.4" y="177.8" width="5.9" height="4.2" fill="#8c8cff"/>
<rect x="105.1" y="177.8" width="5.9" height="4.2" fill="#8d8dff"/>
<rect x="110.7" y="177.8" width="5.9" height="4.2" fill="#9393ff"/>
<rect x="116.3" y="177.8" width="5.9" height="4.2" fill="#9a9aff"/>
<rect x="122.0" y="177.8" width="5.9" height="4.2" fill="#a1a1ff"/>
<rect x="127.6" y="177.8" width="5.9" height="4.2" fill="#a9a9ff"/>
<rect x="133.2" y="177.8" width="5.9" height="4.2" fill="#b1b1ff"/>
<rect x="138.9" y="177.8" width="5.9" height="4.2" fill="#b8b8ff"/>
<rect x="144.5" y="177.8" width="5.9" height="4.2" fill="#bfbfff"/>
<rect x="150.1" y="177.8" width="5.9" height="4.2" fill="#c5c5ff"/>
<rect x="155.8" y="177.8" width="5.9" height="4.2" fill="#cbcbff"/>
<rect x="161.4" y="177.8" width="5.9" height="4.2" fill="#d0d0ff"/>
<rect x="167.0" y="177.8" width="5.9" height="4.2" fill="#d4d4ff"/>
<rect x="172.7" y="177.8" width="5.9" height="4.2" fill="#d8d8ff"/>
<rect x="178.3" y="177.8" width="5.9" height="4.2" fill="#dbdbff"/>
<rect x="183.9" y="177.8" width="5.9" height="4.2" fill="#dedeff"/>
<rect x="189.5" y="177.8" width="5.9" height="4.2" fill="#e0e0ff"/>
<rect x="195.2" y="177.8" width="5.9" height="4.2" fill="#e2e2ff"/>
<rect x="200.8" y="177.8" width="5.9" height="4.2" fill="#e4e4ff"/>
<rect x="206.4" y="177.8" width="5.9" height="4.2" fill="#e5e5ff"/>
<rect x="212.1" y="177.8" width="5.9" height="4.2" fill="#e7e7ff"/>
<rect x="217.7" y="177.8" width="5.9" height="4.2" fill="#e8e8ff"/>
<rect x="223.3" y="177.8" width="5.9" height="4.2" fill="#e9e9ff"/>
<rect x="229.0" y="177.8" width="5.9" height="4.2" fill="#eaeaff"/>
<rect x="234.6" y="177.8" width="11.6" height="4.2" fill="#ebebff"/>
<rect x="245.9" y="177.8" width="5.9" height="4.2" fill="#ececff"/>
<rect x="251.5" y="177.8" width="11.6" height="4.2" fill="#ededff"/>
<rect x="262.8" y="177.8" width="11.6" height="4.2" fill="#eeeeff"/>
<rect x="274.0" y="177.8" width="11.6" height="4.2" fill="#efefff"/>
<rect x="285.3" y="177.8" width="5.9" height="4.2" fill="#f0f0ff"/>
<rect x="60.0" y="181.7" width="5.9" height="4.2" fill="#fefeff"/>
<rect x="65.6" y="181.7" width="5.9" height="4.2" fill="#f9f9ff"/>
<rect x="71.3" y="181.7" width="5.9" height="4.2" fill="#e3e3ff"/>
<rect x="76.9" y="181.7" width="5.9" height="4.2" fill="#c6c6ff"/>
<rect x="82.5" y="181.7" width="5.9" height="4.2" fill="#ababff"/>
<rect x="88.2" y="181.7" width="5.9" height="4.2" fill="#9898ff"/>
<rect x="93.8" y="181.7" width="5.9" height="4.2" fill="#8b8bff"/>
<rect x="99.4" y="181.7" width="5.9" height="4.2" fill="#8585ff"/>
<rect x="105.1" y="181.7" width="5.9" height="4.2" fill="#8686ff"/>
<rect x="110.7" y="181.7" width="5.9" height="4.2" fill="#8c8cff"/>
<rect x="116.3" y="181.7" width="5.9" height="4.2" fill="#9494ff"/>
<rect x="122.0" y="181.7" width="5.9" height="4.2" fill="#9c9cff"/>
<rect x="127.6" y="181.7" width="5.9" height="4.2" fill="#a5a5ff"/>
<rect x="133.2" y="181.7" width="5.9" height="4.2" fill="#adadff"/>
<rect x="138.9" y="181.7" width="5.9" height="4.2" fill="#b5b5ff"/>
<rect x="144.5" y="181.7" width="5.9" height="4.2" fill="#bcbcff"/>
<rect x="150.1" y="181.7" width="5.9" height="4.2" fill="#c3c3ff"/>
<rect x="155.8" y="181.7" width="5.9" height="4.2" fill="#c9c9ff"/>
<rect x="161.4" y="181.7" width="5.9" height="4.2" fill="#ceceff"/>
<rect x="167.0" y="181.7" width="5.9" height="4.2" fill="#d3d3ff"/>
<rect x="172.7" y="181.7" width="5.9" height="4.2" fill="#d7d7ff"/>
<rect x="178.3" y="181.7" width="5.9" height="4.2" fill="#dadaff"/>
<rect x="183.9" y="181.7" width="5.9" height="4.2" fill="#ddddff"/>
<rect x="189.5" y="181.7" width="5.9" height="4.2" fill="#dfdfff"/>
<rect x="195.2" y="181.7" width="5.9" height="4.2" fill="#e2e2ff"/>
<rect x="200.8" y="181.7" width="5.9" height="4.2" fill="#e3e3ff"/>
<rect x="206.4" y="181.7" width="5.9" height="4.2" fill="#e5e5ff"/>
<rect x="212.1" y="181.7" width="5.9" height="4.2" fill="#e6e6ff"/>
<rect x="217.7" y="181.7" width="5.9" height="4.2" fill="#e8e8ff"/>
<rect x="223.3" y="181.7" width="5.9" height="4.2" fill="#e9e9ff"/>
<rect x="229.0" y="181.7" width="11.6" height="4.2" fill="#eaeaff"/>
<rect x="240.2" y="181.7" width="5.9" height="4.2" fill="#ebebff"/>
<rect x="245.9" y="181.7" width="5.9" height="4.2" fill="#ececff"/>
<rect x="251.5" y="181.7" width="11.6" height="4.2" fill="#ededff"/>
<rect x="262.8" y="181.7" width="11.6" height="4.2" fill="#eeeeff"/>
<rect x="274.0" y="181.7" width="11.6" height="4.2" fill="#efefff"/>
<rect x="285.3" y="181.7" width="5.9" height="4.2" fill="#f0f0ff"/>
<rect x="60.0" y="185.6" width="5.9" height="4.2" fill="#fefeff"/>
<rect x="65.6" y="185.6" width="5.9" height="4.2" fill="#f9f9ff"/>
<rect x="71.3" y="185.6" width="5.9" height="4.2" fill="#e0e0ff"/>
<rect x="76.9" y="185.6" width="5.9" height="4.2" fill="#c2c2ff"/>
<rect x="82.5" y="185.6" width="5.9" height="4.2" fill="#a6a6ff"/>
<rect x="88.2" y="185.6" width="5.9" height="4.2" fill="#9292ff"/>
<rect x="93.8" y="185.6" width="5.9" height="4.2" fill="#8585ff"/>
<rect x="99.4" y="185.6" width="5.9" height="4.2" fill="#7e7eff"/>
<rect x="105.1" y="185.6" width="5.9" height="4.2" fill="#8181ff"/>
<rect x="110.7" y="185.6" width="5.9" height="4.2" fill="#8787ff"/>
<rect x="116.3" y="185.6" width="5.9" height="4.2" fill="#8f8fff"/>
<rect x="122.0" y="185.6" width="5.9" height="4.2" fill="#9898ff"/>
<rect x="127.6" y="185.6" width="5.9" height="4.2" fill="#a1a1ff"/>
<rect x="133.2" y="185.6" width="5.9" height="4.2" fill="#aaaaff"/>
<rect x="138.9" y="185.6" width="5.9" height="4.2" fill="#b2b2ff"/>
<rect x="144.5" y="185.6" width="5.9" height="4.2" fill="#babaff"/>
<rect x="150.1" y="185.6" width="5.9" height="4.2" fill="#c1c1ff"/>
<rect x="155.8" y="185.6" width="5.9" height="4.2" fill="#c7c7ff"/>
<rect x="161.4" y="185.6" width="5.9" height="4.2" fill="#cdcdff"/>
<rect x="167.0" y="185.6" width="5.9" height="4.2" fill="#d2d2ff"/>
<rect x="172.7" y="185.6" width="5.9" height="4.2" fill="#d6d6ff"/>
<rect x="178.3" y="185.6" width="5.9" height="4.2" fill="#d9d9ff"/>
<rect x="183.9" y="185.6" width="5.9" height="4.2" fill="#dcdcff"/>
<rect x="189.5" y="185.6" width="5.9" height="4.2" fill="#dfdfff"/>
<rect x="195.2" y="185.6" width="5.9" height="4.2" fill="#e1e1ff"/>
<rect x="200.8" y="185.6" width="5.9" height="4.2" fill="#e3e3ff"/>
<rect x="206.4" y="185.6" width="5.9" height="4.2" fill="#e5e5ff"/>
<rect x="212.1" y="185.6" width="5.9" height="4.2" fill="#e6e6ff"/>
<rect x="217.7" y="185.6" width="5.9" height="4.2" fill="#e7e7ff"/>
<rect x="223.3" y="185.6" width="11.6" height="4.2" fill="#e9e9ff"/>
<rect x="234.6" y="185.6" width="5.9" height="4.2" fill="#eaeaff"/>
<rect x="240.2" y="185.6" width="5.9" height="4.2" fill="#ebebff"/>
<rect x="245.9" y="185.6" width="11.6" height="4.2" fill="#ececff"/>
<rect x="257.1" y="185.6" width="5.9" height="4.2" fill="#ededff"/>
<rect x="262.8" y="185.6" width="11.6" height="4.2" fill="#eeeeff"/>
<rect x="274.0" y="185.6" width="17.2" height="4.2" fill="#efefff"/>
<rect x="60.0" y="189.5" width="5.9" height="4.2" fill="#fefeff"/>
<rect x="65.6" y="189.5" width="5.9" height="4.2" fill="#f9f9ff"/>
<rect x="71.3" y="189.5" width="5.9" height="4.2" fill="#dedeff"/>
<rect x="76.9" y="189.5" width="5.9" height="4.2" fill="#bdbdff"/>
<rect x="82.5" y="189.5" width="5.9" height="4.2" fill="#a0a0ff"/>
<rect x="88.2" y="189.5" width="5.9" height="4.2" fill="#8c8cff"/>
<rect x="93.8" y="189.5" width="5.9" height="4.2" fill="#7e7eff"/>
<rect x="99.4" y="189.5" width="5.9" height="4.2" fill="#7878ff"/>
<rect x="105.1" y="189.5" width="5.9" height="4.2" fill="#7b7bff"/>
<rect x="110.7" y="189.5" width="5.9" height="4.2" fill="#8282ff"/>
<rect x="116.3" y="189.5" width="5.9" height="4.2" fill="#8b8bff"/>
<rect x="122.0" y="189.5" width="5.9" height="4.2" fill="#9494ff"/>
<rect x="127.6" y="189.5" width="5.9" height="4.2" fill="#9e9eff"/>
<rect x="133.2" y="189.5" width="5.9" height="4.2" fill="#a7a7ff"/>
<rect x="138.9" y="189.5" width="5.9" height="4.2" fill="#b0b0ff"/>
<rect x="144.5" y="189.5" width="5.9" height="4.2" fill="#b8b8ff"/>
<rect x="150.1" y="189.5" width="5.9" height="4.2" fill="#bfbfff"/>
<rect x="155.8" y="189.5" width="5.9" height="4.2" fill="#c6c6ff"/>
<rect x="161.4" y="189.5" width="5.9" height="4.2" fill="#ccccff"/>
<rect x="167.0" y="189.5" width="5.9" height="4.2" fill="#d1d1ff"/>
<rect x="172.7" y="189.5" width="5.9" height="4.2" fill="#d5d5ff"/>
<rect x="178.3" y="189.5" width="5.9" height="4.2" fill="#d9d9ff"/>
<rect x="183.9" y="189.5" width="5.9" height="4.2" fill="#dcdcff"/>
<rect x="189.5" y="189.5" width="5.9" height="4.2" fill="#dedeff"/>
<rect x="195.2" y="189.5" width="5.9" height="4.2" fill="#e1e1ff"/>
<rect x="200.8" y="189.5" width="5.9" height="4.2" fill="#e3e3ff"/>
<rect x="206.4" y="189.5" width="5.9" height="4.2" fill="#e5e5ff"/>
<rect x="212.1" y="189.5" width="5.9" height="4.2" fill="#e6e6ff"/>
<rect x="217.7" y="189.5" width="5.9" height="4.2" fill="#e7e7ff"/>
<rect x="223.3" y="189.5" width="5.9" height="4.2" fill="#e8e8ff"/>
<rect x="229.0" y="189.5" width="5.9" height="4.2" fill="#e9e9ff"/>
<rect x="234.6" y="189.5" width="5.9" height="4.2" fill="#eaeaff"/>
<rect x="240.2" y="189.5" width="5.9" height="4.2" fill="#ebebff"/>
<rect x="245.9" y="189.5" width="11.6" height="4.2" fill="#ececff"/>
<rect x="257.1" y="189.5" width="11.6" height="4.2" fill="#ededff"/>
<rect x="268.4" y="189.5" width="5.9" height="4.2" fill="#eeeeff"/>
<rect x="274.0" y="189.5" width="17.2" height="4.2" fill="#efefff"/>
<rect x="60.0" y="193.4" width="5.9" height="4.2" fill="#fefeff"/>
<rect x="65.6" y="193.4" width="5.9" height="4.2" fill="#f2f2ff"/>
<rect x="71.3" y="193.4" width="5.9" height="4.2" fill="#c8c8ff"/>
<rect x="76.9" y="193.4" width="5.9" height="4.2" fill="#a3a3ff"/>
<rect x="82.5" y="193.4" width="5.9" height="4.2" fill="#8080ff"/>
<rect x="88.2" y="193.4" width="5.9" height="4.2" fill="#6666ff"/>
<rect x="93.8" y="193.4" width="5.9" height="4.2" fill="#5555ff"/>
<rect x="99.4" y="193.4" width="5.9" height="4.2" fill="#4e4eff"/>
<rect x="105.1" y="193.4" width="5.9" height="4.2" fill="#5959ff"/>
<rect x="110.7" y="193.4" width="5.9" height="4.2" fill="#6767ff"/>
<rect x="116.3" y="193.4" width="5.9" height="4.2" fill="#7575ff"/>
<rect x="122.0" y="193.4" width="5.9" height="4.2" fill="#8282ff"/>
<rect x="127.6" y="193.4" width="5.9" height="4.2" fill="#8f8fff"/>
<rect x="133.2" y="193.4" width="5.9" height="4.2" fill="#9a9aff"/>
<rect x="138.9" y="193.4" width="5.9" height="4.2" fill="#a4a4ff"/>
<rect x="144.5" y="193.4" width="5.9" height="4.2" fill="#adadff"/>
<rect x="150.1" y="193.4" width="5.9" height="4.2" fill="#b5b5ff"/>
<rect x="155.8" y="193.4" width="5.9" height="4.2" fill="#bcbcff"/>
<rect x="161.4" y="193.4" width="5.9" height="4.2" fill="#c3c3ff"/>
<rect x="167.0" y="193.4" width="5.9" height="4.2" fill="#c8c8ff"/>
<rect x="172.7" y="193.4" width="5.9" height="4.2" fill="#cdcdff"/>
<rect x="178.3" y="193.4" width="5.9" height="4.2" fill="#d1d1ff"/>
<rect x="183.9" y="193.4" width="5.9" height="4.2" fill="#d5d5ff"/>
<rect x="189.5" y="193.4" width="5.9" height="4.2" fill="#d8d8ff"/>
<rect x="195.2" y="193.4" width="5.9" height="4.2" fill="#dbdbff"/>
<rect x="200.8" y="193.4" width="5.9" height="4.2" fill="#ddddff"/>
<rect x="206.4" y="193.4" width="5.9" height="4.2" fill="#e0e0ff"/>
<rect x="212.1" y="193.4" width="5.9" height="4.2" fill="#e2e2ff"/>
<rect x="217.7" y="193.4" width="5.9" height="4.2" fill="#e3e3ff"/>
<rect x="223.3" y="193.4" width="5.9" height="4.2" fill="#e5e5ff"/>
<rect x="229.0" y="193.4" width="5.9" height="4.2" fill="#e6e6ff"/>
<rect x="234.6" y="193.4" width="5.9" height="4.2" fill="#e8e8ff"/>
<rect x="240.2" y="193.4" width="5.9" height="4.2" fill="#e9e9ff"/>
<rect x="245.9" y="193.4" width="5.9" height="4.2" fill="#eaeaff"/>
<rect x="251.5" y="193.4" width="11.6" height="4.2" fill="#ebebff"/>
<rect x="262.8" y="193.4" width="5.9" height="4.2" fill="#ececff"/>
<rect x="268.4" y="193.4" width="5.9" height="4.2" fill="#ededff"/>
<rect x="274.0" y="193.4" width="11.6" height="4.2" fill="#eeeeff"/>
<rect x="285.3" y="193.4" width="5.9" height="4.2" fill="#efefff"/>
<rect x="60.0" y="197.3" width="5.9" height="4.2" fill="#fefeff"/>
<rect x="65.6" y="197.3" width="5.9" height="4.2" fill="#e3e3ff"/>
<rect x="71.3" y="197.3" width="5.9" height="4.2" fill="#b6b6ff"/>
<rect x="76.9" y="197.3" width="5.9" height="4.2" fill="#9393ff"/>
<rect x="82.5" y="197.3" width="5.9" height="4.2" fill="#6f6fff"/>
<rect x="88.2" y="197.3" width="5.9" height="4.2" fill="#5656ff"/>
<rect x="93.8" y="197.3" width="5.9" height="4.2" fill="#4646ff"/>
<rect x="99.4" y="197.3" width="5.9" height="4.2" fill="#4040ff"/>
<rect x="105.1" y="197.3" width="5.9" height="4.2" fill="#4f4fff"/>
<rect x="110.7" y="197.3" width="5.9" height="4.2" fill="#6060ff"/>
<rect x="116.3" y="197.3" width="5.9" height="4.2" fill="#7070ff"/>
<rect x="122.0" y="197.3" width="5.9" height="4.2" fill="#8080ff"/>
<rect x="127.6" y="197.3" width="5.9" height="4.2" fill="#8e8eff"/>
<rect x="133.2" y="197.3" width="5.9" height="4.2" fill="#9b9bff"/>
<rect x="138.9" y="197.3" width="5.9" height="4.2" fill="#a6a6ff"/>
<rect x="144.5" y="197.3" width="5.9" height="4.2" fill="#b0b0ff"/>
<rect x="150.1" y="197.3" width="5.9" height="4.2" fill="#b8b8ff"/>
<rect x="155.8" y="197.3" width="5.9" height="4.2" fill="#c0c0ff"/>
<rect x="161.4" y="197.3" width="5.9" height="4.2" fill="#c6c6ff"/>
<rect x="167.0" y="197.3" width="5.9" height="4.2" fill="#ccccff"/>
<rect x="172.7" y="197.3" width="5.9" height="4.2" fill="#d0d0ff"/>
<rect x="178.3" y="197.3" width="5.9" height="4.2" fill="#d4d4ff"/>
<rect x="183.9" y="197.3" width="5.9" height="4.2" fill="#d8d8ff"/>
<rect x="189.5" y="197.3" width="5.9" height="4.2" fill="#dbdbff"/>
<rect x="195.2" y="197.3" width="5.9" height="4.2" fill="#ddddff"/>
<rect x="200.8" y="197.3" width="5.9" height="4.2" fill="#e0e0ff"/>
<rect x="206.4" y="197.3" width="5.9" height="4.2" fill="#e2e2ff"/>
<rect x="212.1" y="197.3" width="5.9" height="4.2" fill="#e4e4ff"/>
<rect x="217.7" y="197.3" width="5.9" height="4.2" fill="#e5e5ff"/>
<rect x="223.3" y="197.3" width="5.9" height="4.2" fill="#e6e6ff"/>
<rect x="229.0" y="197.3" width="5.9" height="4.2" fill="#e8e8ff"/>
<rect x="234.6" y="197.3" width="5.9" height="4.2" fill="#e9e9ff"/>
<rect x="240.2" y="197.3" width="5.9" height="4.2" fill="#eaeaff"/>
<rect x="245.9" y="197.3" width="11.6" height="4.2" fill="#ebebff"/>
<rect x="257.1" y="197.3" width="5.9" height="4.2" fill="#ececff"/>
<rect x="262.8" y="197.3" width="11.6" height="4.2" fill="#ededff"/>
<rect x="274.0" y="197.3" width="5.9" height="4.2" fill="#eeeeff"/>
<rect x="279.7" y="197.3" width="11.6" height="4.2" fill="#efefff"/>
<rect x="60.0" y="201.2" width="5.9" height="4.2" fill="#fefeff"/>
<rect x="65.6" y="201.2" width="5.9" height="4.2" fill="#d8d8ff"/>
<rect x="71.3" y="201.2" width="5.9" height="4.2" fill="#a3a3ff"/>
<rect x="76.9" y="201.2" width="5.9" height="4.2" fill="#7d7dff"/>
<rect x="82.5" y="201.2" width="5.9" height="4.2" fill="#5757ff"/>
<rect x="88.2" y="201.2" width="5.9" height="4.2" fill="#3c3cff"/>
<rect x="93.8" y="201.2" width="5.9" height="4.2" fill="#2c2cff"/>
<rect x="99.4" y="201.2" width="5.9" height="4.2" fill="#2a2aff"/>
<rect x="105.1" y="201.2" width="5.9" height="4.2" fill="#3c3cff"/>
<rect x="110.7" y="201.2" width="5.9" height="4.2" fill="#4f4fff"/>
<rect x="116.3" y="201.2" width="5.9" height="4.2" fill="#6262ff"/>
<rect x="122.0" y="201.2" width="5.9" height="4.2" fill="#7474ff"/>
<rect x="127.6" y="201.2" width="5.9" height="4.2" fill="#8484ff"/>
<rect x="133.2" y="201.2" width="5.9" height="4.2" fill="#9292ff"/>
<rect x="138.9" y="201.2" width="5.9" height="4.2" fill="#9f9fff"/>
<rect x="144.5" y="201.2" width="5.9" height="4.2" fill="#aaaaff"/>
<rect x="150.1" y="201.2" width="5.9" height="4.2" fill="#b4b4ff"/>
<rect x="155.8" y="201.2" width="5.9" height="4.2" fill="#bcbcff"/>
<rect x="161.4" y="201.2" width="5.9" height="4.2" fill="#c3c3ff"/>
<rect x="167.0" y="201.2" width="5.9" height="4.2" fill="#c9c9ff"/>
<rect x="172.7" y="201.2" width="5.9" height="4.2" fill="#ceceff"/>
<rect x="178.3" y="201.2" width="5.9" height="4.2" fill="#d3d3ff"/>
<rect x="183.9" y="201.2" width="5.9" height="4.2" fill="#d6d6ff"/>
<rect x="189.5" y="201.2" width="5.9" height="4.2" fill="#dadaff"/>
<rect x="195.2" y="201.2" width="5.9" height="4.2" fill="#ddddff"/>
<rect x="200.8" y="201.2" width="5.9" height="4.2" fill="#dfdfff"/>
<rect x="206.4" y="201.2" width="5.9" height="4.2" fill="#e1e1ff"/>
<rect x="212.1" y="201.2" width="5.9" height="4.2" fill="#e3e3ff"/>
<rect x="217.7" y="201.2" width="5.9" height="4.2" fill="#e5e5ff"/>
<rect x="223.3" y="201.2" width="5.9" height="4.2" fill="#e6e6ff"/>
<rect x="229.0" y="201.2" width="5.9" height="4.2" fill="#e7e7ff"/>
<rect x="234.6" y="201.2" width="5.9" height="4.2" fill="#e9e9ff"/>
<rect x="240.2" y="201.2" width="11.6" height="4.2" fill="#eaeaff"/>
<rect x="251.5" y="201.2" width="5.9" height="4.2" fill="#ebebff"/>
<rect x="257.1" y="201.2" width="5.9" height="4.2" fill="#ececff"/>
<rect x="262.8" y="201.2" width="11.6" height="4.2" fill="#ededff"/>
<rect x="274.0" y="201.2" width="5.9" height="4.2" fill="#eeeeff"/>
<rect x="279.7" y="201.2" width="11.6" height="4.2" fill="#efefff"/>
<rect x="60.0" y="205.1" width="5.9" height="4.2" fill="#fefeff"/>
<rect x="65.6" y="205.1" width="5.9" height="4.2" fill="#ccccff"/>
<rect x="71.3" y="205.1" width="5.9" height="4.2" fill="#8e8eff"/>
<rect x="76.9" y="205.1" width="5.9" height="4.2" fill="#6464ff"/>
<rect x="82.5" y="205.1" width="5.9" height="4.2" fill="#3b3bff"/>
<rect x="88.2" y="205.1" width="5.9" height="4.2" fill="#1f1fff"/>
<rect x="93.8" y="205.1" width="5.9" height="4.2" fill="#0f0fff"/>
<rect x="99.4" y="205.1" width="5.9" height="4.2" fill="#1010ff"/>
<rect x="105.1" y="205.1" width="5.9" height="4.2" fill="#2626ff"/>
<rect x="110.7" y="205.1" width="5.9" height="4.2" fill="#3c3cff"/>
<rect x="116.3" y="205.1" width="5.9" height="4.2" fill="#5252ff"/>
<rect x="122.0" y="205.1" width="5.9" height="4.2" fill="#6666ff"/>
<rect x="127.6" y="205.1" width="5.9" height="4.2" fill="#7878ff"/>
<rect x="133.2" y="205.1" width="5.9" height="4.2" fill="#8888ff"/>
<rect x="138.9" y="205.1" width="5.9" height="4.2" fill="#9797ff"/>
<rect x="144.5" y="205.1" width="5.9" height="4.2" fill="#a3a3ff"/>
<rect x="150.1" y="205.1" width="5.9" height="4.2" fill="#aeaeff"/>
<rect x="155.8" y="205.1" width="5.9" height="4.2" fill="#b7b7ff"/>
<rect x="161.4" y="205.1" width="5.9" height="4.2" fill="#bfbfff"/>
<rect x="167.0" y="205.1" width="5.9" height="4.2" fill="#c6c6ff"/>
<rect x="172.7" y="205.1" width="5.9" height="4.2" fill="#cbcbff"/>
<rect x="178.3" y="205.1" width="5.9" height="4.2" fill="#d0d0ff"/>
<rect x="183.9" y="205.1" width="5.9" height="4.2" fill="#d4d4ff"/>
<rect x="189.5" y="205.1" width="5.9" height="4.2" fill="#d8d8ff"/>
<rect x="195.2" y="205.1" width="5.9" height="4.2" fill="#dbdbff"/>
<rect x="200.8" y="205.1" width="5.9" height="4.2" fill="#dedeff"/>
<rect x="206.4" y="205.1" width="5.9" height="4.2" fill="#e0e0ff"/>
<rect x="212.1" y="205.1" width="5.9" height="4.2" fill="#e2e2ff"/>
<rect x="217.7" y="205.1" width="5.9" height="4.2" fill="#e4e4ff"/>
<rect x="223.3" y="205.1" width="5.9" height="4.2" fill="#e6e6ff"/>
<rect x="229.0" y="205.1" width="5.9" height="4.2" fill="#e7e7ff"/>
<rect x="234.6" y="205.1" width="5.9" height="4.2" fill="#e8e8ff"/>
<rect x="240.2" y="205.1" width="5.9" height="4.2" fill="#e9e9ff"/>
<rect x="245.9" y="205.1" width="5.9" height="4.2" fill="#eaeaff"/>
<rect x="251.5" y="205.1" width="5.9" height="4.2" fill="#ebebff"/>
<rect x="257.1" y="205.1" width="5.9" height="4.2" fill="#ececff"/>
<rect x="262.8" y="205.1" width="11.6" height="4.2" fill="#ededff"/>
<rect x="274.0" y="205.1" width="5.9" height="4.2" fill="#eeeeff"/>
<rect x="279.7" y="205.1" width="11.6" height="4.2" fill="#efefff"/>
<rect x="60.0" y="209.0" width="5.9" height="4.2" fill="#fefeff"/>
<rect x="65.6" y="209.0" width="5.9" height="4.2" fill="#bbbbff"/>
<rect x="71.3" y="209.0" width="5.9" height="4.2" fill="#7272ff"/>
<rect x="76.9" y="209.0" width="5.9" height="4.2" fill="#4040ff"/>
<rect x="82.5" y="209.0" width="5.9" height="4.2" fill="#1111ff"/>
<rect x="88.2" y="209.0" width="22.8" height="4.2" fill="#0000ff"/>
<rect x="110.7" y="209.0" width="5.9" height="4.2" fill="#1616ff"/>
<rect x="116.3" y="209.0" width="5.9" height="4.2" fill="#3131ff"/>
<rect x="122.0" y="209.0" width="5.9" height="4.2" fill="#4949ff"/>
<rect x="127.6" y="209.0" width="5.9" height="4.2" fill="#6060ff"/>
<rect x="133.2" y="209.0" width="5.9" height="4.2" fill="#7373ff"/>
<rect x="138.9" y="209.0" width="5.9" height="4.2" fill="#8585ff"/>
<rect x="144.5" y="209.0" width="5.9" height="4.2" fill="#9494ff"/>
<rect x="150.1" y="209.0" width="5.9" height="4.2" fill="#a1a1ff"/>
<rect x="155.8" y="209.0" width="5.9" height="4.2" fill="#acacff"/>
<rect x="161.4" y="209.0" width="5.9" height="4.2" fill="#b6b6ff"/>
<rect x="167.0" y="209.0" width="5.9" height="4.2" fill="#bebeff"/>
<rect x="172.7" y="209.0" width="5.9" height="4.2" fill="#c5c5ff"/>
<rect x="178.3" y="209.0" width="5.9" height="4.2" fill="#cbcbff"/>
<rect x="183.9" y="209.0" width="5.9" height="4.2" fill="#d0d0ff"/>
<rect x="189.5" y="209.0" width="5.9" height="4.2" fill="#d5d5ff"/>
<rect x="195.2" y="209.0" width="5.9" height="4.2" fill="#d9d9ff"/>
<rect x="200.8" y="209.0" width="5.9" height="4.2" fill="#dcdcff"/>
<rect x="206.4" y="209.0" width="5.9" height="4.2" fill="#dfdfff"/>
<rect x="212.1" y="209.0" width="5.9" height="4.2" fill="#e1e1ff"/>
<rect x="217.7" y="209.0" width="5.9" height="4.2" fill="#e3e3ff"/>
<rect x="223.3" y="209.0" width="5.9" height="4.2" fill="#e5e5ff"/>
<rect x="229.0" y="209.0" width="5.9" height="4.2" fill="#e6e6ff"/>
<rect x="234.6" y="209.0" width="5.9" height="4.2" fill="#e8e8ff"/>
<rect x="240.2" y="209.0" width="5.9" height="4.2" fill="#e9e9ff"/>
<rect x="245.9" y="209.0" width="5.9" height="4.2" fill="#eaeaff"/>
<rect x="251.5" y="209.0" width="5.9" height="4.2" fill="#ebebff"/>
<rect x="257.1" y="209.0" width="11.6" height="4.2" fill="#ececff"/>
<rect x="268.4" y="209.0" width="5.9" height="4.2" fill="#ededff"/>
<rect x="274.0" y="209.0" width="5.9" height="4.2" fill="#eeeeff"/>
<rect x="279.7" y="209.0" width="11.6" height="4.2" fill="#efefff"/>
<rect x="60.0" y="212.9" width="5.9" height="4.2" fill="#fefeff"/>
<rect x="65.6" y="212.9" width="5.9" height="4.2" fill="#adadff"/>
<rect x="71.3" y="212.9" width="5.9" height="4.2" fill="#5c5cff"/>
<rect x="76.9" y="212.9" width="5.9" height="4.2" fill="#2626ff"/>
<rect x="82.5" y="212.9" width="34.1" height="4.2" fill="#0000ff"/>
<rect x="116.3" y="212.9" width="5.9" height="4.2" fill="#1b1bff"/>
<rect x="122.0" y="212.9" width="5.9" height="4.2" fill="#3636ff"/>
<rect x="127.6" y="212.9" width="5.9" height="4.2" fill="#4f4fff"/>
<rect x="133.2" y="212.9" width="5.9" height="4.2" fill="#6565ff"/>
<rect x="138.9" y="212.9" width="5.9" height="4.2" fill="#7979ff"/>
<rect x="144.5" y="212.9" width="5.9" height="4.2" fill="#8a8aff"/>
<rect x="150.1" y="212.9" width="5.9" height="4.2" fill="#9999ff"/>
<rect x="155.8" y="212.9" width="5.9" height="4.2" fill="#a5a5ff"/>
<rect x="161.4" y="212.9" width="5.9" height="4.2" fill="#b0b0ff"/>
<rect x="167.0" y="212.9" width="5.9" height="4.2" fill="#b9b9ff"/>
<rect x="172.7" y="212.9" width="5.9" height="4.2" fill="#c1c1ff"/>
<rect x="178.3" y="212.9" width="5.9" height="4.2" fill="#c8c8ff"/>
<rect x="183.9" y="212.9" width="5.9" height="4.2" fill="#ceceff"/>
<rect x="189.5" y="212.9" width="5.9" height="4.2" fill="#d2d2ff"/>
<rect x="195.2" y="212.9" width="5.9" height="4.2" fill="#d7d7ff"/>
<rect x="200.8" y="212.9" width="5.9" height="4.2" fill="#dadaff"/>
<rect x="206.4" y="212.9" width="5.9" height="4.2" fill="#ddddff"/>
<rect x="212.1" y="212.9" width="5.9" height="4.2" fill="#e0e0ff"/>
<rect x="217.7" y="212.9" width="5.9" height="4.2" fill="#e2e2ff"/>
<rect x="223.3" y="212.9" width="5.9" height="4.2" fill="#e4e4ff"/>
<rect x="229.0" y="212.9" width="5.9" height="4.2" fill="#e6e6ff"/>
<rect x="234.6" y="212.9" width="5.9" height="4.2" fill="#e7e7ff"/>
<rect x="240.2" y="212.9" width="5.9" height="4.2" fill="#e8e8ff"/>
<rect x="245.9" y="212.9" width="5.9" height="4.2" fill="#eaeaff"/>
<rect x="251.5" y="212.9" width="11.6" height="4.2" fill="#ebebff"/>
<rect x="262.8" y="212.9" width="5.9" height="4.2" fill="#ececff"/>
<rect x="268.4" y="212.9" width="5.9" height="4.2" fill="#ededff"/>
<rect x="274.0" y="212.9" width="11.6" height="4.2" fill="#eeeeff"/>
<rect x="285.3" y="212.9" width="5.9" height="4.2" fill="#efefff"/>
<rect x="60.0" y="216.8" width="5.9" height="4.2" fill="#fefeff"/>
<rect x="65.6" y="216.8" width="5.9" height="4.2" fill="#a6a6ff"/>
<rect x="71.3" y="216.8" width="5.9" height="4.2" fill="#5757ff"/>
<rect x="76.9" y="216.8" width="5.9" height="4.2" fill="#2222ff"/>
<rect x="82.5" y="216.8" width="34.1" height="4.2" fill="#0000ff"/>
<rect x="116.3" y="216.8" width="5.9" height="4.2" fill="#1c1cff"/>
<rect x="122.0" y="216.8" width="5.9" height="4.2" fill="#3737ff"/>
<rect x="127.6" y="216.8" width="5.9" height="4.2" fill="#5050ff"/>
<rect x="133.2" y="216.8" width="5.9" height="4.2" fill="#6666ff"/>
<rect x="138.9" y="216.8" width="5.9" height="4.2" fill="#7a7aff"/>
<rect x="144.5" y="216.8" width="5.9" height="4.2" fill="#8b8bff"/>
<rect x="150.1" y="216.8" width="5.9" height="4.2" fill="#9999ff"/>
<rect x="155.8" y="216.8" width="5.9" height="4.2" fill="#a6a6ff"/>
<rect x="161.4" y="216.8" width="5.9" height="4.2" fill="#b1b1ff"/>
<rect x="167.0" y="216.8" width="5.9" height="4.2" fill="#babaff"/>
<rect x="172.7" y="216.8" width="5.9" height="4.2" fill="#c2c2ff"/>
<rect x="178.3" y="216.8" width="5.9" height="4.2" fill="#c8c8ff"/>
<rect x="183.9" y="216.8" width="5.9" height="4.2" fill="#ceceff"/>
<rect x="189.5" y="216.8" width="5.9" height="4.2" fill="#d3d3ff"/>
<rect x="195.2" y="216.8" width="5.9" height="4.2" fill="#d7d7ff"/>
<rect x="200.8" y="216.8" width="5.9" height="4.2" fill="#dadaff"/>
<rect x="206.4" y="216.8" width="5.9" height="4.2" fill="#ddddff"/>
<rect x="212.1" y="216.8" width="5.9" height="4.2" fill="#e0e0ff"/>
<rect x="217.7" y="216.8" width="5.9" height="4.2" fill="#e2e2ff"/>
<rect x="223.3" y="216.8" width="5.9" height="4.2" fill="#e4e4ff"/>
<rect x="229.0" y="216.8" width="5.9" height="4.2" fill="#e6e6ff"/>
<rect x="234.6" y="216.8" width="5.9" height="4.2" fill="#e7e7ff"/>
<rect x="240.2" y="216.8" width="5.9" height="4.2" fill="#e8e8ff"/>
<rect x="245.9" y="216.8" width="5.9" height="4.2" fill="#eaeaff"/>
<rect x="251.5" y="216.8" width="11.6" height="4.2" fill="#ebebff"/>
<rect x="262.8" y="216.8" width="5.9" height="4.2" fill="#ececff"/>
<rect x="268.4" y="216.8" width="5.9" height="4.2" fill="#ededff"/>
<rect x="274.0" y="216.8" width="11.6" height="4.2" fill="#eeeeff"/>
<rect x="285.3" y="216.8" width="5.9" height="4.2" fill="#efefff"/>
<rect x="60.0" y="220.7" width="5.9" height="4.2" fill="#fefeff"/>
<rect x="65.6" y="220.7" width="5.9" height="4.2" fill="#a3a3ff"/>
<rect x="71.3" y="220.7" width="5.9" height="4.2" fill="#5555ff"/>
<rect x="76.9" y="220.7" width="5.9" height="4.2" fill="#2020ff"/>
<rect x="82.5" y="220.7" width="34.1" height="4.2" fill="#0000ff"/>
<rect x="116.3" y="220.7" width="5.9" height="4.2" fill="#1c1cff"/>
<rect x="122.0" y="220.7" width="5.9" height="4.2" fill="#3838ff"/>
<rect x="127.6" y="220.7" width="5.9" height="4.2" fill="#5151ff"/>
<rect x="133.2" y="220.7" width="5.9" height="4.2" fill="#6767ff"/>
<rect x="138.9" y="220.7" width="5.9" height="4.2" fill="#7a7aff"/>
<rect x="144.5" y="220.7" width="5.9" height="4.2" fill="#8b8bff"/>
<rect x="150.1" y="220.7" width="5.9" height="4.2" fill="#9999ff"/>
<rect x="155.8" y="220.7" width="5.9" height="4.2" fill="#a6a6ff"/>
<rect x="161.4" y="220.7" width="5.9" height="4.2" fill="#b1b1ff"/>
<rect x="167.0" y="220.7" width="5.9" height="4.2" fill="#babaff"/>
<rect x="172.7" y="220.7" width="5.9" height="4.2" fill="#c2c2ff"/>
<rect x="178.3" y="220.7" width="5.9" height="4.2" fill="#c8c8ff"/>
<rect x="183.9" y="220.7" width="5.9" height="4.2" fill="#ceceff"/>
<rect x="189.5" y="220.7" width="5.9" height="4.2" fill="#d3d3ff"/>
<rect x="195.2" y="220.7" width="5.9" height="4.2" fill="#d7d7ff"/>
<rect x="200.8" y="220.7" width="5.9" height="4.2" fill="#dadaff"/>
<rect x="206.4" y="220.7" width="5.9" height="4.2" fill="#ddddff"/>
<rect x="212.1" y="220.7" width="5.9" height="4.2" fill="#e0e0ff"/>
<rect x="217.7" y="220.7" width="5.9" height="4.2" fill="#e2e2ff"/>
<rect x="223.3" y="220.7" width="5.9" height="4.2" fill="#e4e4ff"/>
<rect x="229.0" y="220.7" width="5.9" height="4.2" fill="#e6e6ff"/>
<rect x="234.6" y="220.7" width="5.9" height="4.2" fill="#e7e7ff"/>
<rect x="240.2" y="220.7" width="5.9" height="4.2" fill="#e8e8ff"/>
<rect x="245.9" y="220.7" width="5.9" height="4.2" fill="#eaeaff"/>
<rect x="251.5" y="220.7" width="11.6" height="4.2" fill="#ebebff"/>
<rect x="262.8" y="220.7" width="5.9" height="4.2" fill="#ececff"/>
<rect x="268.4" y="220.7" width="5.9" height="4.2" fill="#ededff"/>
<rect x="274.0" y="220.7" width="11.6" height="4.2" fill="#eeeeff"/>
<rect x="285.3" y="220.7" width="5.9" height="4.2" fill="#efefff"/>
</g></g>
<rect x="59.4" y="1.65" width="226.65" height="220.00" fill="none" stroke="#000" stroke-width="1.4"/>
<line x1="48.20" y1="217.90" x2="59.40" y2="217.90" stroke="#000" stroke-width="1.45"/>
<text x="42.60" y="222.90" font-size="14.5" text-anchor="end">2</text>
<line x1="48.20" y1="182.55" x2="59.40" y2="182.55" stroke="#000" stroke-width="1.45"/>
<text x="42.60" y="187.55" font-size="14.5" text-anchor="end">4</text>
<line x1="48.20" y1="147.20" x2="59.40" y2="147.20" stroke="#000" stroke-width="1.45"/>
<text x="42.60" y="152.20" font-size="14.5" text-anchor="end">6</text>
<line x1="48.20" y1="111.85" x2="59.40" y2="111.85" stroke="#000" stroke-width="1.45"/>
<text x="42.60" y="116.85" font-size="14.5" text-anchor="end">8</text>
<line x1="48.20" y1="76.50" x2="59.40" y2="76.50" stroke="#000" stroke-width="1.45"/>
<text x="42.60" y="81.50" font-size="14.5" text-anchor="end">10</text>
<line x1="48.20" y1="41.15" x2="59.40" y2="41.15" stroke="#000" stroke-width="1.45"/>
<text x="42.60" y="46.15" font-size="14.5" text-anchor="end">12</text>
<line x1="48.20" y1="5.80" x2="59.40" y2="5.80" stroke="#000" stroke-width="1.45"/>
<text x="42.60" y="10.80" font-size="14.5" text-anchor="end">14</text>
<line x1="62.90" y1="221.65" x2="62.90" y2="232.60" stroke="#000" stroke-width="1.45"/>
<text x="62.90" y="253.20" font-size="14.5" text-anchor="middle">0</text>
<line x1="94.34" y1="221.65" x2="94.34" y2="227.60" stroke="#000" stroke-width="1.45"/>
<line x1="125.78" y1="221.65" x2="125.78" y2="232.60" stroke="#000" stroke-width="1.45"/>
<text x="125.78" y="253.20" font-size="14.5" text-anchor="middle">4</text>
<line x1="157.22" y1="221.65" x2="157.22" y2="227.60" stroke="#000" stroke-width="1.45"/>
<line x1="188.66" y1="221.65" x2="188.66" y2="232.60" stroke="#000" stroke-width="1.45"/>
<text x="188.66" y="253.20" font-size="14.5" text-anchor="middle">8</text>
<line x1="220.10" y1="221.65" x2="220.10" y2="227.60" stroke="#000" stroke-width="1.45"/>
<line x1="251.54" y1="221.65" x2="251.54" y2="232.60" stroke="#000" stroke-width="1.45"/>
<text x="251.54" y="253.20" font-size="14.5" text-anchor="middle">12</text>
<line x1="282.98" y1="221.65" x2="282.98" y2="227.60" stroke="#000" stroke-width="1.45"/>
<text x="173.10" y="270.60" font-size="18.5" text-anchor="middle">B (T)</text>
<text transform="translate(15.1,111.80) rotate(-90)" x="0" y="0" font-size="18.5" text-anchor="middle">T (K)</text>
<text x="-0.50" y="19.00" font-size="26" text-anchor="start" font-weight="bold">a</text>
<text x="79.22" y="47.70" font-size="18.5">V</text>
<text x="93.92" y="39.10" font-size="12.5">X</text>
<text x="91.27" y="52.10" font-size="12.5">2ω</text>
<rect x="295.0" y="88.00" width="21.2" height="135.60" fill="url(#cba)" stroke="#000" stroke-width="1.4"/>
<line x1="316.20" y1="95.60" x2="327.40" y2="95.60" stroke="#000" stroke-width="1.45"/>
<text x="338.00" y="100.60" font-size="14.5" text-anchor="start">200</text>
<line x1="316.20" y1="125.75" x2="327.40" y2="125.75" stroke="#000" stroke-width="1.45"/>
<text x="338.00" y="130.75" font-size="14.5" text-anchor="start">100</text>
<line x1="316.20" y1="155.90" x2="327.40" y2="155.90" stroke="#000" stroke-width="1.45"/>
<text x="338.00" y="160.90" font-size="14.5" text-anchor="start">0</text>
<line x1="316.20" y1="186.05" x2="327.40" y2="186.05" stroke="#000" stroke-width="1.45"/>
<text x="333.20" y="191.05" font-size="14.5" text-anchor="start">-100</text>
<line x1="316.20" y1="216.20" x2="327.40" y2="216.20" stroke="#000" stroke-width="1.45"/>
<text x="333.20" y="221.20" font-size="14.5" text-anchor="start">-200</text>
<text x="298.22" y="70.80" font-size="18.5">V</text>
<text x="310.82" y="60.90" font-size="12.5">X</text>
<text x="310.17" y="74.90" font-size="12.5">2ω</text>
<text x="329.00" y="70.80" font-size="18.5" text-anchor="start">(nV)</text>
<g clip-path="url(#clipb)"><g filter="url(#blurb)">
<rect x="71.3" y="280.3" width="5.9" height="4.2" fill="#fffefe"/>
<rect x="76.9" y="280.3" width="5.9" height="4.2" fill="#fffdfd"/>
<rect x="82.5" y="280.3" width="5.9" height="4.2" fill="#fffafa"/>
<rect x="88.2" y="280.3" width="5.9" height="4.2" fill="#fff5f5"/>
<rect x="93.8" y="280.3" width="5.9" height="4.2" fill="#ffeeee"/>
<rect x="99.4" y="280.3" width="5.9" height="4.2" fill="#ffe8e8"/>
<rect x="105.1" y="280.3" width="5.9" height="4.2" fill="#ffe4e4"/>
<rect x="110.7" y="280.3" width="5.9" height="4.2" fill="#ffe3e3"/>
<rect x="116.3" y="280.3" width="56.6" height="4.2" fill="#ffe2e2"/>
<rect x="172.7" y="280.3" width="22.8" height="4.2" fill="#ffe3e3"/>
<rect x="195.2" y="280.3" width="17.2" height="4.2" fill="#ffe4e4"/>
<rect x="212.1" y="280.3" width="22.8" height="4.2" fill="#ffe5e5"/>
<rect x="234.6" y="280.3" width="39.7" height="4.2" fill="#ffe6e6"/>
<rect x="274.0" y="280.3" width="17.2" height="4.2" fill="#ffe7e7"/>
<rect x="71.3" y="284.2" width="5.9" height="4.2" fill="#fffefe"/>
<rect x="76.9" y="284.2" width="5.9" height="4.2" fill="#fffdfd"/>
<rect x="82.5" y="284.2" width="5.9" height="4.2" fill="#fffafa"/>
<rect x="88.2" y="284.2" width="5.9" height="4.2" fill="#fff5f5"/>
<rect x="93.8" y="284.2" width="5.9" height="4.2" fill="#ffeded"/>
<rect x="99.4" y="284.2" width="5.9" height="4.2" fill="#ffe7e7"/>
<rect x="105.1" y="284.2" width="5.9" height="4.2" fill="#ffe4e4"/>
<rect x="110.7" y="284.2" width="5.9" height="4.2" fill="#ffe2e2"/>
<rect x="116.3" y="284.2" width="45.4" height="4.2" fill="#ffe1e1"/>
<rect x="161.4" y="284.2" width="22.8" height="4.2" fill="#ffe2e2"/>
<rect x="183.9" y="284.2" width="17.2" height="4.2" fill="#ffe3e3"/>
<rect x="200.8" y="284.2" width="22.8" height="4.2" fill="#ffe4e4"/>
<rect x="223.3" y="284.2" width="22.8" height="4.2" fill="#ffe5e5"/>
<rect x="245.9" y="284.2" width="45.4" height="4.2" fill="#ffe6e6"/>
<rect x="71.3" y="288.1" width="5.9" height="4.2" fill="#fffefe"/>
<rect x="76.9" y="288.1" width="5.9" height="4.2" fill="#fffdfd"/>
<rect x="82.5" y="288.1" width="5.9" height="4.2" fill="#fffafa"/>
<rect x="88.2" y="288.1" width="5.9" height="4.2" fill="#fff4f4"/>
<rect x="93.8" y="288.1" width="5.9" height="4.2" fill="#ffecec"/>
<rect x="99.4" y="288.1" width="5.9" height="4.2" fill="#ffe6e6"/>
<rect x="105.1" y="288.1" width="5.9" height="4.2" fill="#ffe2e2"/>
<rect x="110.7" y="288.1" width="5.9" height="4.2" fill="#ffe1e1"/>
<rect x="116.3" y="288.1" width="45.4" height="4.2" fill="#ffe0e0"/>
<rect x="161.4" y="288.1" width="22.8" height="4.2" fill="#ffe1e1"/>
<rect x="183.9" y="288.1" width="17.2" height="4.2" fill="#ffe2e2"/>
<rect x="200.8" y="288.1" width="17.2" height="4.2" fill="#ffe3e3"/>
<rect x="217.7" y="288.1" width="22.8" height="4.2" fill="#ffe4e4"/>
<rect x="240.2" y="288.1" width="34.1" height="4.2" fill="#ffe5e5"/>
<rect x="274.0" y="288.1" width="17.2" height="4.2" fill="#ffe6e6"/>
<rect x="71.3" y="292.0" width="5.9" height="4.2" fill="#fffefe"/>
<rect x="76.9" y="292.0" width="5.9" height="4.2" fill="#fffcfc"/>
<rect x="82.5" y="292.0" width="5.9" height="4.2" fill="#fff9f9"/>
<rect x="88.2" y="292.0" width="5.9" height="4.2" fill="#fff2f2"/>
<rect x="93.8" y="292.0" width="5.9" height="4.2" fill="#ffebeb"/>
<rect x="99.4" y="292.0" width="5.9" height="4.2" fill="#ffe4e4"/>
<rect x="105.1" y="292.0" width="5.9" height="4.2" fill="#ffe1e1"/>
<rect x="110.7" y="292.0" width="5.9" height="4.2" fill="#ffe0e0"/>
<rect x="116.3" y="292.0" width="11.6" height="4.2" fill="#ffdfdf"/>
<rect x="127.6" y="292.0" width="5.9" height="4.2" fill="#ffdede"/>
<rect x="133.2" y="292.0" width="34.1" height="4.2" fill="#ffdfdf"/>
<rect x="167.0" y="292.0" width="17.2" height="4.2" fill="#ffe0e0"/>
<rect x="183.9" y="292.0" width="17.2" height="4.2" fill="#ffe1e1"/>
<rect x="200.8" y="292.0" width="17.2" height="4.2" fill="#ffe2e2"/>
<rect x="217.7" y="292.0" width="17.2" height="4.2" fill="#ffe3e3"/>
<rect x="234.6" y="292.0" width="22.8" height="4.2" fill="#ffe4e4"/>
<rect x="257.1" y="292.0" width="34.1" height="4.2" fill="#ffe5e5"/>
<rect x="71.3" y="295.9" width="5.9" height="4.2" fill="#fffefe"/>
<rect x="76.9" y="295.9" width="5.9" height="4.2" fill="#fffcfc"/>
<rect x="82.5" y="295.9" width="5.9" height="4.2" fill="#fff8f8"/>
<rect x="88.2" y="295.9" width="5.9" height="4.2" fill="#fff1f1"/>
<rect x="93.8" y="295.9" width="5.9" height="4.2" fill="#ffe9e9"/>
<rect x="99.4" y="295.9" width="5.9" height="4.2" fill="#ffe3e3"/>
<rect x="105.1" y="295.9" width="5.9" height="4.2" fill="#ffe0e0"/>
<rect x="110.7" y="295.9" width="5.9" height="4.2" fill="#ffdede"/>
<rect x="116.3" y="295.9" width="39.7" height="4.2" fill="#ffdddd"/>
<rect x="155.8" y="295.9" width="17.2" height="4.2" fill="#ffdede"/>
<rect x="172.7" y="295.9" width="17.2" height="4.2" fill="#ffdfdf"/>
<rect x="189.5" y="295.9" width="17.2" height="4.2" fill="#ffe0e0"/>
<rect x="206.4" y="295.9" width="11.6" height="4.2" fill="#ffe1e1"/>
<rect x="217.7" y="295.9" width="17.2" height="4.2" fill="#ffe2e2"/>
<rect x="234.6" y="295.9" width="22.8" height="4.2" fill="#ffe3e3"/>
<rect x="257.1" y="295.9" width="34.1" height="4.2" fill="#ffe4e4"/>
<rect x="71.3" y="299.8" width="5.9" height="4.2" fill="#fffefe"/>
<rect x="76.9" y="299.8" width="5.9" height="4.2" fill="#fffcfc"/>
<rect x="82.5" y="299.8" width="5.9" height="4.2" fill="#fff7f7"/>
<rect x="88.2" y="299.8" width="5.9" height="4.2" fill="#fff0f0"/>
<rect x="93.8" y="299.8" width="5.9" height="4.2" fill="#ffe7e7"/>
<rect x="99.4" y="299.8" width="5.9" height="4.2" fill="#ffe1e1"/>
<rect x="105.1" y="299.8" width="5.9" height="4.2" fill="#ffdddd"/>
<rect x="110.7" y="299.8" width="5.9" height="4.2" fill="#ffdcdc"/>
<rect x="116.3" y="299.8" width="39.7" height="4.2" fill="#ffdbdb"/>
<rect x="155.8" y="299.8" width="17.2" height="4.2" fill="#ffdcdc"/>
<rect x="172.7" y="299.8" width="17.2" height="4.2" fill="#ffdddd"/>
<rect x="189.5" y="299.8" width="11.6" height="4.2" fill="#ffdede"/>
<rect x="200.8" y="299.8" width="11.6" height="4.2" fill="#ffdfdf"/>
<rect x="212.1" y="299.8" width="11.6" height="4.2" fill="#ffe0e0"/>
<rect x="223.3" y="299.8" width="17.2" height="4.2" fill="#ffe1e1"/>
<rect x="240.2" y="299.8" width="22.8" height="4.2" fill="#ffe2e2"/>
<rect x="262.8" y="299.8" width="28.5" height="4.2" fill="#ffe3e3"/>
<rect x="65.6" y="303.7" width="11.6" height="4.2" fill="#fffefe"/>
<rect x="76.9" y="303.7" width="5.9" height="4.2" fill="#fffbfb"/>
<rect x="82.5" y="303.7" width="5.9" height="4.2" fill="#fff6f6"/>
<rect x="88.2" y="303.7" width="5.9" height="4.2" fill="#ffeeee"/>
<rect x="93.8" y="303.7" width="5.9" height="4.2" fill="#ffe5e5"/>
<rect x="99.4" y="303.7" width="5.9" height="4.2" fill="#ffdfdf"/>
<rect x="105.1" y="303.7" width="5.9" height="4.2" fill="#ffdbdb"/>
<rect x="110.7" y="303.7" width="5.9" height="4.2" fill="#ffdada"/>
<rect x="116.3" y="303.7" width="39.7" height="4.2" fill="#ffd9d9"/>
<rect x="155.8" y="303.7" width="17.2" height="4.2" fill="#ffdada"/>
<rect x="172.7" y="303.7" width="11.6" height="4.2" fill="#ffdbdb"/>
<rect x="183.9" y="303.7" width="11.6" height="4.2" fill="#ffdcdc"/>
<rect x="195.2" y="303.7" width="11.6" height="4.2" fill="#ffdddd"/>
<rect x="206.4" y="303.7" width="11.6" height="4.2" fill="#ffdede"/>
<rect x="217.7" y="303.7" width="17.2" height="4.2" fill="#ffdfdf"/>
<rect x="234.6" y="303.7" width="17.2" height="4.2" fill="#ffe0e0"/>
<rect x="251.5" y="303.7" width="17.2" height="4.2" fill="#ffe1e1"/>
<rect x="268.4" y="303.7" width="22.8" height="4.2" fill="#ffe2e2"/>
<rect x="65.6" y="307.6" width="5.9" height="4.2" fill="#fffefe"/>
<rect x="71.3" y="307.6" width="5.9" height="4.2" fill="#fffdfd"/>
<rect x="76.9" y="307.6" width="5.9" height="4.2" fill="#fffbfb"/>
<rect x="82.5" y="307.6" width="5.9" height="4.2" fill="#fff5f5"/>
<rect x="88.2" y="307.6" width="5.9" height="4.2" fill="#ffecec"/>
<rect x="93.8" y="307.6" width="5.9" height="4.2" fill="#ffe3e3"/>
<rect x="99.4" y="307.6" width="5.9" height="4.2" fill="#ffdddd"/>
<rect x="105.1" y="307.6" width="5.9" height="4.2" fill="#ffd9d9"/>
<rect x="110.7" y="307.6" width="5.9" height="4.2" fill="#ffd8d8"/>
<rect x="116.3" y="307.6" width="11.6" height="4.2" fill="#ffd7d7"/>
<rect x="127.6" y="307.6" width="5.9" height="4.2" fill="#ffd6d6"/>
<rect x="133.2" y="307.6" width="22.8" height="4.2" fill="#ffd7d7"/>
<rect x="155.8" y="307.6" width="17.2" height="4.2" fill="#ffd8d8"/>
<rect x="172.7" y="307.6" width="11.6" height="4.2" fill="#ffd9d9"/>
<rect x="183.9" y="307.6" width="11.6" height="4.2" fill="#ffdada"/>
<rect x="195.2" y="307.6" width="11.6" height="4.2" fill="#ffdbdb"/>
<rect x="206.4" y="307.6" width="5.9" height="4.2" fill="#ffdcdc"/>
<rect x="212.1" y="307.6" width="11.6" height="4.2" fill="#ffdddd"/>
<rect x="223.3" y="307.6" width="17.2" height="4.2" fill="#ffdede"/>
<rect x="240.2" y="307.6" width="11.6" height="4.2" fill="#ffdfdf"/>
<rect x="251.5" y="307.6" width="22.8" height="4.2" fill="#ffe0e0"/>
<rect x="274.0" y="307.6" width="17.2" height="4.2" fill="#ffe1e1"/>
<rect x="65.6" y="311.5" width="5.9" height="4.2" fill="#fffefe"/>
<rect x="71.3" y="311.5" width="5.9" height="4.2" fill="#fffdfd"/>
<rect x="76.9" y="311.5" width="5.9" height="4.2" fill="#fffafa"/>
<rect x="82.5" y="311.5" width="5.9" height="4.2" fill="#fff4f4"/>
<rect x="88.2" y="311.5" width="5.9" height="4.2" fill="#ffebeb"/>
<rect x="93.8" y="311.5" width="5.9" height="4.2" fill="#ffe1e1"/>
<rect x="99.4" y="311.5" width="5.9" height="4.2" fill="#ffdada"/>
<rect x="105.1" y="311.5" width="5.9" height="4.2" fill="#ffd7d7"/>
<rect x="110.7" y="311.5" width="5.9" height="4.2" fill="#ffd6d6"/>
<rect x="116.3" y="311.5" width="11.6" height="4.2" fill="#ffd5d5"/>
<rect x="127.6" y="311.5" width="5.9" height="4.2" fill="#ffd4d4"/>
<rect x="133.2" y="311.5" width="22.8" height="4.2" fill="#ffd5d5"/>
<rect x="155.8" y="311.5" width="11.6" height="4.2" fill="#ffd6d6"/>
<rect x="167.0" y="311.5" width="11.6" height="4.2" fill="#ffd7d7"/>
<rect x="178.3" y="311.5" width="11.6" height="4.2" fill="#ffd8d8"/>
<rect x="189.5" y="311.5" width="11.6" height="4.2" fill="#ffd9d9"/>
<rect x="200.8" y="311.5" width="11.6" height="4.2" fill="#ffdada"/>
<rect x="212.1" y="311.5" width="5.9" height="4.2" fill="#ffdbdb"/>
<rect x="217.7" y="311.5" width="11.6" height="4.2" fill="#ffdcdc"/>
<rect x="229.0" y="311.5" width="11.6" height="4.2" fill="#ffdddd"/>
<rect x="240.2" y="311.5" width="17.2" height="4.2" fill="#ffdede"/>
<rect x="257.1" y="311.5" width="22.8" height="4.2" fill="#ffdfdf"/>
<rect x="279.7" y="311.5" width="11.6" height="4.2" fill="#ffe0e0"/>
<rect x="65.6" y="315.4" width="5.9" height="4.2" fill="#fffefe"/>
<rect x="71.3" y="315.4" width="5.9" height="4.2" fill="#fffdfd"/>
<rect x="76.9" y="315.4" width="5.9" height="4.2" fill="#fffafa"/>
<rect x="82.5" y="315.4" width="5.9" height="4.2" fill="#fff3f3"/>
<rect x="88.2" y="315.4" width="5.9" height="4.2" fill="#ffe9e9"/>
<rect x="93.8" y="315.4" width="5.9" height="4.2" fill="#ffdfdf"/>
<rect x="99.4" y="315.4" width="5.9" height="4.2" fill="#ffd8d8"/>
<rect x="105.1" y="315.4" width="5.9" height="4.2" fill="#ffd5d5"/>
<rect x="110.7" y="315.4" width="11.6" height="4.2" fill="#ffd3d3"/>
<rect x="122.0" y="315.4" width="17.2" height="4.2" fill="#ffd2d2"/>
<rect x="138.9" y="315.4" width="17.2" height="4.2" fill="#ffd3d3"/>
<rect x="155.8" y="315.4" width="11.6" height="4.2" fill="#ffd4d4"/>
<rect x="167.0" y="315.4" width="11.6" height="4.2" fill="#ffd5d5"/>
<rect x="178.3" y="315.4" width="11.6" height="4.2" fill="#ffd6d6"/>
<rect x="189.5" y="315.4" width="5.9" height="4.2" fill="#ffd7d7"/>
<rect x="195.2" y="315.4" width="11.6" height="4.2" fill="#ffd8d8"/>
<rect x="206.4" y="315.4" width="5.9" height="4.2" fill="#ffd9d9"/>
<rect x="212.1" y="315.4" width="11.6" height="4.2" fill="#ffdada"/>
<rect x="223.3" y="315.4" width="11.6" height="4.2" fill="#ffdbdb"/>
<rect x="234.6" y="315.4" width="11.6" height="4.2" fill="#ffdcdc"/>
<rect x="245.9" y="315.4" width="11.6" height="4.2" fill="#ffdddd"/>
<rect x="257.1" y="315.4" width="22.8" height="4.2" fill="#ffdede"/>
<rect x="279.7" y="315.4" width="11.6" height="4.2" fill="#ffdfdf"/>
<rect x="65.6" y="319.3" width="5.9" height="4.2" fill="#fffefe"/>
<rect x="71.3" y="319.3" width="5.9" height="4.2" fill="#fffdfd"/>
<rect x="76.9" y="319.3" width="5.9" height="4.2" fill="#fff9f9"/>
<rect x="82.5" y="319.3" width="5.9" height="4.2" fill="#fff2f2"/>
<rect x="88.2" y="319.3" width="5.9" height="4.2" fill="#ffe7e7"/>
<rect x="93.8" y="319.3" width="5.9" height="4.2" fill="#ffdddd"/>
<rect x="99.4" y="319.3" width="5.9" height="4.2" fill="#ffd6d6"/>
<rect x="105.1" y="319.3" width="5.9" height="4.2" fill="#ffd3d3"/>
<rect x="110.7" y="319.3" width="11.6" height="4.2" fill="#ffd1d1"/>
<rect x="122.0" y="319.3" width="17.2" height="4.2" fill="#ffd0d0"/>
<rect x="138.9" y="319.3" width="17.2" height="4.2" fill="#ffd1d1"/>
<rect x="155.8" y="319.3" width="11.6" height="4.2" fill="#ffd2d2"/>
<rect x="167.0" y="319.3" width="11.6" height="4.2" fill="#ffd3d3"/>
<rect x="178.3" y="319.3" width="11.6" height="4.2" fill="#ffd4d4"/>
<rect x="189.5" y="319.3" width="5.9" height="4.2" fill="#ffd5d5"/>
<rect x="195.2" y="319.3" width="5.9" height="4.2" fill="#ffd6d6"/>
<rect x="200.8" y="319.3" width="11.6" height="4.2" fill="#ffd7d7"/>
<rect x="212.1" y="319.3" width="5.9" height="4.2" fill="#ffd8d8"/>
<rect x="217.7" y="319.3" width="11.6" height="4.2" fill="#ffd9d9"/>
<rect x="229.0" y="319.3" width="5.9" height="4.2" fill="#ffdada"/>
<rect x="234.6" y="319.3" width="11.6" height="4.2" fill="#ffdbdb"/>
<rect x="245.9" y="319.3" width="11.6" height="4.2" fill="#ffdcdc"/>
<rect x="257.1" y="319.3" width="22.8" height="4.2" fill="#ffdddd"/>
<rect x="279.7" y="319.3" width="11.6" height="4.2" fill="#ffdede"/>
<rect x="65.6" y="323.2" width="5.9" height="4.2" fill="#fffefe"/>
<rect x="71.3" y="323.2" width="5.9" height="4.2" fill="#fffcfc"/>
<rect x="76.9" y="323.2" width="5.9" height="4.2" fill="#fff8f8"/>
<rect x="82.5" y="323.2" width="5.9" height="4.2" fill="#fff0f0"/>
<rect x="88.2" y="323.2" width="5.9" height="4.2" fill="#ffe5e5"/>
<rect x="93.8" y="323.2" width="5.9" height="4.2" fill="#ffdada"/>
<rect x="99.4" y="323.2" width="5.9" height="4.2" fill="#ffd4d4"/>
<rect x="105.1" y="323.2" width="5.9" height="4.2" fill="#ffd1d1"/>
<rect x="110.7" y="323.2" width="11.6" height="4.2" fill="#ffcfcf"/>
<rect x="122.0" y="323.2" width="17.2" height="4.2" fill="#ffcece"/>
<rect x="138.9" y="323.2" width="17.2" height="4.2" fill="#ffcfcf"/>
<rect x="155.8" y="323.2" width="11.6" height="4.2" fill="#ffd0d0"/>
<rect x="167.0" y="323.2" width="5.9" height="4.2" fill="#ffd1d1"/>
<rect x="172.7" y="323.2" width="11.6" height="4.2" fill="#ffd2d2"/>
<rect x="183.9" y="323.2" width="5.9" height="4.2" fill="#ffd3d3"/>
<rect x="189.5" y="323.2" width="11.6" height="4.2" fill="#ffd4d4"/>
<rect x="200.8" y="323.2" width="5.9" height="4.2" fill="#ffd5d5"/>
<rect x="206.4" y="323.2" width="5.9" height="4.2" fill="#ffd6d6"/>
<rect x="212.1" y="323.2" width="5.9" height="4.2" fill="#ffd7d7"/>
<rect x="217.7" y="323.2" width="11.6" height="4.2" fill="#ffd8d8"/>
<rect x="229.0" y="323.2" width="5.9" height="4.2" fill="#ffd9d9"/>
<rect x="234.6" y="323.2" width="11.6" height="4.2" fill="#ffdada"/>
<rect x="245.9" y="323.2" width="11.6" height="4.2" fill="#ffdbdb"/>
<rect x="257.1" y="323.2" width="17.2" height="4.2" fill="#ffdcdc"/>
<rect x="274.0" y="323.2" width="17.2" height="4.2" fill="#ffdddd"/>
<rect x="65.6" y="327.1" width="5.9" height="4.2" fill="#fffefe"/>
<rect x="71.3" y="327.1" width="5.9" height="4.2" fill="#fffcfc"/>
<rect x="76.9" y="327.1" width="5.9" height="4.2" fill="#fff7f7"/>
<rect x="82.5" y="327.1" width="5.9" height="4.2" fill="#ffeeee"/>
<rect x="88.2" y="327.1" width="5.9" height="4.2" fill="#ffe2e2"/>
<rect x="93.8" y="327.1" width="5.9" height="4.2" fill="#ffd8d8"/>
<rect x="99.4" y="327.1" width="5.9" height="4.2" fill="#ffd2d2"/>
<rect x="105.1" y="327.1" width="5.9" height="4.2" fill="#ffcece"/>
<rect x="110.7" y="327.1" width="5.9" height="4.2" fill="#ffcdcd"/>
<rect x="116.3" y="327.1" width="28.5" height="4.2" fill="#ffcccc"/>
<rect x="144.5" y="327.1" width="11.6" height="4.2" fill="#ffcdcd"/>
<rect x="155.8" y="327.1" width="11.6" height="4.2" fill="#ffcece"/>
<rect x="167.0" y="327.1" width="5.9" height="4.2" fill="#ffcfcf"/>
<rect x="172.7" y="327.1" width="5.9" height="4.2" fill="#ffd0d0"/>
<rect x="178.3" y="327.1" width="11.6" height="4.2" fill="#ffd1d1"/>
<rect x="189.5" y="327.1" width="5.9" height="4.2" fill="#ffd2d2"/>
<rect x="195.2" y="327.1" width="5.9" height="4.2" fill="#ffd3d3"/>
<rect x="200.8" y="327.1" width="5.9" height="4.2" fill="#ffd4d4"/>
<rect x="206.4" y="327.1" width="5.9" height="4.2" fill="#ffd5d5"/>
<rect x="212.1" y="327.1" width="5.9" height="4.2" fill="#ffd6d6"/>
<rect x="217.7" y="327.1" width="11.6" height="4.2" fill="#ffd7d7"/>
<rect x="229.0" y="327.1" width="5.9" height="4.2" fill="#ffd8d8"/>
<rect x="234.6" y="327.1" width="11.6" height="4.2" fill="#ffd9d9"/>
<rect x="245.9" y="327.1" width="5.9" height="4.2" fill="#ffdada"/>
<rect x="251.5" y="327.1" width="11.6" height="4.2" fill="#ffdbdb"/>
<rect x="262.8" y="327.1" width="28.5" height="4.2" fill="#ffdcdc"/>
<rect x="60.0" y="331.0" width="11.6" height="4.2" fill="#fffefe"/>
<rect x="71.3" y="331.0" width="5.9" height="4.2" fill="#fffbfb"/>
<rect x="76.9" y="331.0" width="5.9" height="4.2" fill="#fff6f6"/>
<rect x="82.5" y="331.0" width="5.9" height="4.2" fill="#ffecec"/>
<rect x="88.2" y="331.0" width="5.9" height="4.2" fill="#ffdfdf"/>
<rect x="93.8" y="331.0" width="5.9" height="4.2" fill="#ffd5d5"/>
<rect x="99.4" y="331.0" width="5.9" height="4.2" fill="#ffcfcf"/>
<rect x="105.1" y="331.0" width="5.9" height="4.2" fill="#ffcccc"/>
<rect x="110.7" y="331.0" width="5.9" height="4.2" fill="#ffcbcb"/>
<rect x="116.3" y="331.0" width="28.5" height="4.2" fill="#ffcaca"/>
<rect x="144.5" y="331.0" width="11.6" height="4.2" fill="#ffcbcb"/>
<rect x="155.8" y="331.0" width="5.9" height="4.2" fill="#ffcccc"/>
<rect x="161.4" y="331.0" width="11.6" height="4.2" fill="#ffcdcd"/>
<rect x="172.7" y="331.0" width="5.9" height="4.2" fill="#ffcece"/>
<rect x="178.3" y="331.0" width="5.9" height="4.2" fill="#ffcfcf"/>
<rect x="183.9" y="331.0" width="5.9" height="4.2" fill="#ffd0d0"/>
<rect x="189.5" y="331.0" width="5.9" height="4.2" fill="#ffd1d1"/>
<rect x="195.2" y="331.0" width="5.9" height="4.2" fill="#ffd2d2"/>
<rect x="200.8" y="331.0" width="5.9" height="4.2" fill="#ffd3d3"/>
<rect x="206.4" y="331.0" width="5.9" height="4.2" fill="#ffd4d4"/>
<rect x="212.1" y="331.0" width="5.9" height="4.2" fill="#ffd5d5"/>
<rect x="217.7" y="331.0" width="11.6" height="4.2" fill="#ffd6d6"/>
<rect x="229.0" y="331.0" width="5.9" height="4.2" fill="#ffd7d7"/>
<rect x="234.6" y="331.0" width="5.9" height="4.2" fill="#ffd8d8"/>
<rect x="240.2" y="331.0" width="11.6" height="4.2" fill="#ffd9d9"/>
<rect x="251.5" y="331.0" width="5.9" height="4.2" fill="#ffdada"/>
<rect x="257.1" y="331.0" width="17.2" height="4.2" fill="#ffdbdb"/>
<rect x="274.0" y="331.0" width="17.2" height="4.2" fill="#ffdcdc"/>
<rect x="60.0" y="334.9" width="5.9" height="4.2" fill="#fffefe"/>
<rect x="65.6" y="334.9" width="5.9" height="4.2" fill="#fffdfd"/>
<rect x="71.3" y="334.9" width="5.9" height="4.2" fill="#fffafa"/>
<rect x="76.9" y="334.9" width="5.9" height="4.2" fill="#fff4f4"/>
<rect x="82.5" y="334.9" width="5.9" height="4.2" fill="#ffe9e9"/>
<rect x="88.2" y="334.9" width="5.9" height="4.2" fill="#ffdcdc"/>
<rect x="93.8" y="334.9" width="5.9" height="4.2" fill="#ffd2d2"/>
<rect x="99.4" y="334.9" width="5.9" height="4.2" fill="#ffcdcd"/>
<rect x="105.1" y="334.9" width="5.9" height="4.2" fill="#ffcaca"/>
<rect x="110.7" y="334.9" width="5.9" height="4.2" fill="#ffc9c9"/>
<rect x="116.3" y="334.9" width="28.5" height="4.2" fill="#ffc8c8"/>
<rect x="144.5" y="334.9" width="11.6" height="4.2" fill="#ffc9c9"/>
<rect x="155.8" y="334.9" width="5.9" height="4.2" fill="#ffcaca"/>
<rect x="161.4" y="334.9" width="5.9" height="4.2" fill="#ffcbcb"/>
<rect x="167.0" y="334.9" width="11.6" height="4.2" fill="#ffcccc"/>
<rect x="178.3" y="334.9" width="5.9" height="4.2" fill="#ffcdcd"/>
<rect x="183.9" y="334.9" width="5.9" height="4.2" fill="#ffcece"/>
<rect x="189.5" y="334.9" width="5.9" height="4.2" fill="#ffcfcf"/>
<rect x="195.2" y="334.9" width="5.9" height="4.2" fill="#ffd0d0"/>
<rect x="200.8" y="334.9" width="5.9" height="4.2" fill="#ffd1d1"/>
<rect x="206.4" y="334.9" width="5.9" height="4.2" fill="#ffd3d3"/>
<rect x="212.1" y="334.9" width="5.9" height="4.2" fill="#ffd4d4"/>
<rect x="217.7" y="334.9" width="5.9" height="4.2" fill="#ffd5d5"/>
<rect x="223.3" y="334.9" width="11.6" height="4.2" fill="#ffd6d6"/>
<rect x="234.6" y="334.9" width="5.9" height="4.2" fill="#ffd7d7"/>
<rect x="240.2" y="334.9" width="5.9" height="4.2" fill="#ffd8d8"/>
<rect x="245.9" y="334.9" width="11.6" height="4.2" fill="#ffd9d9"/>
<rect x="257.1" y="334.9" width="5.9" height="4.2" fill="#ffdada"/>
<rect x="262.8" y="334.9" width="17.2" height="4.2" fill="#ffdbdb"/>
<rect x="279.7" y="334.9" width="11.6" height="4.2" fill="#ffdcdc"/>
<rect x="60.0" y="338.8" width="5.9" height="4.2" fill="#fffefe"/>
<rect x="65.6" y="338.8" width="5.9" height="4.2" fill="#fffdfd"/>
<rect x="71.3" y="338.8" width="5.9" height="4.2" fill="#fffafa"/>
<rect x="76.9" y="338.8" width="5.9" height="4.2" fill="#fff3f3"/>
<rect x="82.5" y="338.8" width="5.9" height="4.2" fill="#ffe7e7"/>
<rect x="88.2" y="338.8" width="5.9" height="4.2" fill="#ffd9d9"/>
<rect x="93.8" y="338.8" width="5.9" height="4.2" fill="#ffd0d0"/>
<rect x="99.4" y="338.8" width="5.9" height="4.2" fill="#ffcbcb"/>
<rect x="105.1" y="338.8" width="5.9" height="4.2" fill="#ffc8c8"/>
<rect x="110.7" y="338.8" width="5.9" height="4.2" fill="#ffc7c7"/>
<rect x="116.3" y="338.8" width="11.6" height="4.2" fill="#ffc6c6"/>
<rect x="127.6" y="338.8" width="5.9" height="4.2" fill="#ffc5c5"/>
<rect x="133.2" y="338.8" width="11.6" height="4.2" fill="#ffc6c6"/>
<rect x="144.5" y="338.8" width="11.6" height="4.2" fill="#ffc7c7"/>
<rect x="155.8" y="338.8" width="5.9" height="4.2" fill="#ffc8c8"/>
<rect x="161.4" y="338.8" width="5.9" height="4.2" fill="#ffc9c9"/>
<rect x="167.0" y="338.8" width="5.9" height="4.2" fill="#ffcaca"/>
<rect x="172.7" y="338.8" width="11.6" height="4.2" fill="#ffcbcb"/>
<rect x="183.9" y="338.8" width="5.9" height="4.2" fill="#ffcccc"/>
<rect x="189.5" y="338.8" width="5.9" height="4.2" fill="#ffcece"/>
<rect x="195.2" y="338.8" width="5.9" height="4.2" fill="#ffcfcf"/>
<rect x="200.8" y="338.8" width="5.9" height="4.2" fill="#ffd0d0"/>
<rect x="206.4" y="338.8" width="5.9" height="4.2" fill="#ffd1d1"/>
<rect x="212.1" y="338.8" width="5.9" height="4.2" fill="#ffd2d2"/>
<rect x="217.7" y="338.8" width="5.9" height="4.2" fill="#ffd4d4"/>
<rect x="223.3" y="338.8" width="5.9" height="4.2" fill="#ffd5d5"/>
<rect x="229.0" y="338.8" width="11.6" height="4.2" fill="#ffd6d6"/>
<rect x="240.2" y="338.8" width="5.9" height="4.2" fill="#ffd7d7"/>
<rect x="245.9" y="338.8" width="5.9" height="4.2" fill="#ffd8d8"/>
<rect x="251.5" y="338.8" width="5.9" height="4.2" fill="#ffd9d9"/>
<rect x="257.1" y="338.8" width="17.2" height="4.2" fill="#ffdada"/>
<rect x="274.0" y="338.8" width="17.2" height="4.2" fill="#ffdbdb"/>
<rect x="60.0" y="342.7" width="5.9" height="4.2" fill="#fffefe"/>
<rect x="65.6" y="342.7" width="5.9" height="4.2" fill="#fffcfc"/>
<rect x="71.3" y="342.7" width="5.9" height="4.2" fill="#fff8f8"/>
<rect x="76.9" y="342.7" width="5.9" height="4.2" fill="#fff0f0"/>
<rect x="82.5" y="342.7" width="5.9" height="4.2" fill="#ffe2e2"/>
<rect x="88.2" y="342.7" width="5.9" height="4.2" fill="#ffd4d4"/>
<rect x="93.8" y="342.7" width="5.9" height="4.2" fill="#ffcaca"/>
<rect x="99.4" y="342.7" width="5.9" height="4.2" fill="#ffc4c4"/>
<rect x="105.1" y="342.7" width="5.9" height="4.2" fill="#ffc1c1"/>
<rect x="110.7" y="342.7" width="11.6" height="4.2" fill="#ffc0c0"/>
<rect x="122.0" y="342.7" width="17.2" height="4.2" fill="#ffbfbf"/>
<rect x="138.9" y="342.7" width="11.6" height="4.2" fill="#ffc0c0"/>
<rect x="150.1" y="342.7" width="5.9" height="4.2" fill="#ffc1c1"/>
<rect x="155.8" y="342.7" width="5.9" height="4.2" fill="#ffc2c2"/>
<rect x="161.4" y="342.7" width="5.9" height="4.2" fill="#ffc3c3"/>
<rect x="167.0" y="342.7" width="5.9" height="4.2" fill="#ffc4c4"/>
<rect x="172.7" y="342.7" width="5.9" height="4.2" fill="#ffc5c5"/>
<rect x="178.3" y="342.7" width="5.9" height="4.2" fill="#ffc6c6"/>
<rect x="183.9" y="342.7" width="5.9" height="4.2" fill="#ffc7c7"/>
<rect x="189.5" y="342.7" width="5.9" height="4.2" fill="#ffc8c8"/>
<rect x="195.2" y="342.7" width="5.9" height="4.2" fill="#ffcaca"/>
<rect x="200.8" y="342.7" width="5.9" height="4.2" fill="#ffcbcb"/>
<rect x="206.4" y="342.7" width="5.9" height="4.2" fill="#ffcdcd"/>
<rect x="212.1" y="342.7" width="5.9" height="4.2" fill="#ffcece"/>
<rect x="217.7" y="342.7" width="5.9" height="4.2" fill="#ffd0d0"/>
<rect x="223.3" y="342.7" width="5.9" height="4.2" fill="#ffd1d1"/>
<rect x="229.0" y="342.7" width="5.9" height="4.2" fill="#ffd2d2"/>
<rect x="234.6" y="342.7" width="5.9" height="4.2" fill="#ffd3d3"/>
<rect x="240.2" y="342.7" width="5.9" height="4.2" fill="#ffd4d4"/>
<rect x="245.9" y="342.7" width="5.9" height="4.2" fill="#ffd5d5"/>
<rect x="251.5" y="342.7" width="5.9" height="4.2" fill="#ffd6d6"/>
<rect x="257.1" y="342.7" width="11.6" height="4.2" fill="#ffd7d7"/>
<rect x="268.4" y="342.7" width="17.2" height="4.2" fill="#ffd8d8"/>
<rect x="285.3" y="342.7" width="5.9" height="4.2" fill="#ffd9d9"/>
<rect x="60.0" y="346.6" width="5.9" height="4.2" fill="#fffefe"/>
<rect x="65.6" y="346.6" width="5.9" height="4.2" fill="#fffcfc"/>
<rect x="71.3" y="346.6" width="5.9" height="4.2" fill="#fff7f7"/>
<rect x="76.9" y="346.6" width="5.9" height="4.2" fill="#ffeded"/>
<rect x="82.5" y="346.6" width="5.9" height="4.2" fill="#ffdddd"/>
<rect x="88.2" y="346.6" width="5.9" height="4.2" fill="#ffcece"/>
<rect x="93.8" y="346.6" width="5.9" height="4.2" fill="#ffc3c3"/>
<rect x="99.4" y="346.6" width="5.9" height="4.2" fill="#ffbebe"/>
<rect x="105.1" y="346.6" width="5.9" height="4.2" fill="#ffbbbb"/>
<rect x="110.7" y="346.6" width="5.9" height="4.2" fill="#ffbaba"/>
<rect x="116.3" y="346.6" width="11.6" height="4.2" fill="#ffb9b9"/>
<rect x="127.6" y="346.6" width="5.9" height="4.2" fill="#ffb8b8"/>
<rect x="133.2" y="346.6" width="11.6" height="4.2" fill="#ffb9b9"/>
<rect x="144.5" y="346.6" width="5.9" height="4.2" fill="#ffbaba"/>
<rect x="150.1" y="346.6" width="11.6" height="4.2" fill="#ffbbbb"/>
<rect x="161.4" y="346.6" width="5.9" height="4.2" fill="#ffbdbd"/>
<rect x="167.0" y="346.6" width="5.9" height="4.2" fill="#ffbebe"/>
<rect x="172.7" y="346.6" width="5.9" height="4.2" fill="#ffbfbf"/>
<rect x="178.3" y="346.6" width="5.9" height="4.2" fill="#ffc1c1"/>
<rect x="183.9" y="346.6" width="5.9" height="4.2" fill="#ffc2c2"/>
<rect x="189.5" y="346.6" width="5.9" height="4.2" fill="#ffc3c3"/>
<rect x="195.2" y="346.6" width="5.9" height="4.2" fill="#ffc5c5"/>
<rect x="200.8" y="346.6" width="5.9" height="4.2" fill="#ffc7c7"/>
<rect x="206.4" y="346.6" width="5.9" height="4.2" fill="#ffc8c8"/>
<rect x="212.1" y="346.6" width="5.9" height="4.2" fill="#ffcaca"/>
<rect x="217.7" y="346.6" width="5.9" height="4.2" fill="#ffcccc"/>
<rect x="223.3" y="346.6" width="5.9" height="4.2" fill="#ffcdcd"/>
<rect x="229.0" y="346.6" width="5.9" height="4.2" fill="#ffcece"/>
<rect x="234.6" y="346.6" width="5.9" height="4.2" fill="#ffcfcf"/>
<rect x="240.2" y="346.6" width="5.9" height="4.2" fill="#ffd0d0"/>
<rect x="245.9" y="346.6" width="5.9" height="4.2" fill="#ffd2d2"/>
<rect x="251.5" y="346.6" width="5.9" height="4.2" fill="#ffd3d3"/>
<rect x="257.1" y="346.6" width="11.6" height="4.2" fill="#ffd4d4"/>
<rect x="268.4" y="346.6" width="11.6" height="4.2" fill="#ffd5d5"/>
<rect x="279.7" y="346.6" width="11.6" height="4.2" fill="#ffd6d6"/>
<rect x="54.4" y="350.5" width="5.9" height="4.2" fill="#fffefe"/>
<rect x="60.0" y="350.5" width="5.9" height="4.2" fill="#fffdfd"/>
<rect x="65.6" y="350.5" width="5.9" height="4.2" fill="#fffbfb"/>
<rect x="71.3" y="350.5" width="5.9" height="4.2" fill="#fff5f5"/>
<rect x="76.9" y="350.5" width="5.9" height="4.2" fill="#ffe9e9"/>
<rect x="82.5" y="350.5" width="5.9" height="4.2" fill="#ffd8d8"/>
<rect x="88.2" y="350.5" width="5.9" height="4.2" fill="#ffc8c8"/>
<rect x="93.8" y="350.5" width="5.9" height="4.2" fill="#ffbdbd"/>
<rect x="99.4" y="350.5" width="5.9" height="4.2" fill="#ffb8b8"/>
<rect x="105.1" y="350.5" width="5.9" height="4.2" fill="#ffb5b5"/>
<rect x="110.7" y="350.5" width="11.6" height="4.2" fill="#ffb3b3"/>
<rect x="122.0" y="350.5" width="17.2" height="4.2" fill="#ffb2b2"/>
<rect x="138.9" y="350.5" width="5.9" height="4.2" fill="#ffb3b3"/>
<rect x="144.5" y="350.5" width="11.6" height="4.2" fill="#ffb4b4"/>
<rect x="155.8" y="350.5" width="5.9" height="4.2" fill="#ffb5b5"/>
<rect x="161.4" y="350.5" width="5.9" height="4.2" fill="#ffb7b7"/>
<rect x="167.0" y="350.5" width="5.9" height="4.2" fill="#ffb8b8"/>
<rect x="172.7" y="350.5" width="5.9" height="4.2" fill="#ffbaba"/>
<rect x="178.3" y="350.5" width="5.9" height="4.2" fill="#ffbbbb"/>
<rect x="183.9" y="350.5" width="5.9" height="4.2" fill="#ffbdbd"/>
<rect x="189.5" y="350.5" width="5.9" height="4.2" fill="#ffbfbf"/>
<rect x="195.2" y="350.5" width="5.9" height="4.2" fill="#ffc0c0"/>
<rect x="200.8" y="350.5" width="5.9" height="4.2" fill="#ffc2c2"/>
<rect x="206.4" y="350.5" width="5.9" height="4.2" fill="#ffc4c4"/>
<rect x="212.1" y="350.5" width="5.9" height="4.2" fill="#ffc6c6"/>
<rect x="217.7" y="350.5" width="5.9" height="4.2" fill="#ffc8c8"/>
<rect x="223.3" y="350.5" width="5.9" height="4.2" fill="#ffc9c9"/>
<rect x="229.0" y="350.5" width="5.9" height="4.2" fill="#ffcbcb"/>
<rect x="234.6" y="350.5" width="5.9" height="4.2" fill="#ffcccc"/>
<rect x="240.2" y="350.5" width="5.9" height="4.2" fill="#ffcdcd"/>
<rect x="245.9" y="350.5" width="5.9" height="4.2" fill="#ffcfcf"/>
<rect x="251.5" y="350.5" width="5.9" height="4.2" fill="#ffd0d0"/>
<rect x="257.1" y="350.5" width="5.9" height="4.2" fill="#ffd1d1"/>
<rect x="262.8" y="350.5" width="11.6" height="4.2" fill="#ffd2d2"/>
<rect x="274.0" y="350.5" width="5.9" height="4.2" fill="#ffd3d3"/>
<rect x="279.7" y="350.5" width="11.6" height="4.2" fill="#ffd4d4"/>
<rect x="54.4" y="354.4" width="5.9" height="4.2" fill="#fffefe"/>
<rect x="60.0" y="354.4" width="5.9" height="4.2" fill="#fffdfd"/>
<rect x="65.6" y="354.4" width="5.9" height="4.2" fill="#fffafa"/>
<rect x="71.3" y="354.4" width="5.9" height="4.2" fill="#fff3f3"/>
<rect x="76.9" y="354.4" width="5.9" height="4.2" fill="#ffe6e6"/>
<rect x="82.5" y="354.4" width="5.9" height="4.2" fill="#ffd3d3"/>
<rect x="88.2" y="354.4" width="5.9" height="4.2" fill="#ffc2c2"/>
<rect x="93.8" y="354.4" width="5.9" height="4.2" fill="#ffb7b7"/>
<rect x="99.4" y="354.4" width="5.9" height="4.2" fill="#ffb2b2"/>
<rect x="105.1" y="354.4" width="5.9" height="4.2" fill="#ffafaf"/>
<rect x="110.7" y="354.4" width="5.9" height="4.2" fill="#ffadad"/>
<rect x="116.3" y="354.4" width="11.6" height="4.2" fill="#ffacac"/>
<rect x="127.6" y="354.4" width="5.9" height="4.2" fill="#ffabab"/>
<rect x="133.2" y="354.4" width="5.9" height="4.2" fill="#ffacac"/>
<rect x="138.9" y="354.4" width="5.9" height="4.2" fill="#ffadad"/>
<rect x="144.5" y="354.4" width="11.6" height="4.2" fill="#ffaeae"/>
<rect x="155.8" y="354.4" width="5.9" height="4.2" fill="#ffafaf"/>
<rect x="161.4" y="354.4" width="5.9" height="4.2" fill="#ffb1b1"/>
<rect x="167.0" y="354.4" width="5.9" height="4.2" fill="#ffb3b3"/>
<rect x="172.7" y="354.4" width="5.9" height="4.2" fill="#ffb4b4"/>
<rect x="178.3" y="354.4" width="5.9" height="4.2" fill="#ffb6b6"/>
<rect x="183.9" y="354.4" width="5.9" height="4.2" fill="#ffb8b8"/>
<rect x="189.5" y="354.4" width="5.9" height="4.2" fill="#ffbaba"/>
<rect x="195.2" y="354.4" width="5.9" height="4.2" fill="#ffbcbc"/>
<rect x="200.8" y="354.4" width="5.9" height="4.2" fill="#ffbebe"/>
<rect x="206.4" y="354.4" width="5.9" height="4.2" fill="#ffc0c0"/>
<rect x="212.1" y="354.4" width="5.9" height="4.2" fill="#ffc2c2"/>
<rect x="217.7" y="354.4" width="5.9" height="4.2" fill="#ffc4c4"/>
<rect x="223.3" y="354.4" width="5.9" height="4.2" fill="#ffc6c6"/>
<rect x="229.0" y="354.4" width="5.9" height="4.2" fill="#ffc8c8"/>
<rect x="234.6" y="354.4" width="5.9" height="4.2" fill="#ffc9c9"/>
<rect x="240.2" y="354.4" width="5.9" height="4.2" fill="#ffcbcb"/>
<rect x="245.9" y="354.4" width="5.9" height="4.2" fill="#ffcccc"/>
<rect x="251.5" y="354.4" width="5.9" height="4.2" fill="#ffcdcd"/>
<rect x="257.1" y="354.4" width="5.9" height="4.2" fill="#ffcfcf"/>
<rect x="262.8" y="354.4" width="11.6" height="4.2" fill="#ffd0d0"/>
<rect x="274.0" y="354.4" width="5.9" height="4.2" fill="#ffd1d1"/>
<rect x="279.7" y="354.4" width="11.6" height="4.2" fill="#ffd2d2"/>
<rect x="54.4" y="358.3" width="5.9" height="4.2" fill="#fffefe"/>
<rect x="60.0" y="358.3" width="5.9" height="4.2" fill="#fffdfd"/>
<rect x="65.6" y="358.3" width="5.9" height="4.2" fill="#fff9f9"/>
<rect x="71.3" y="358.3" width="5.9" height="4.2" fill="#fff1f1"/>
<rect x="76.9" y="358.3" width="5.9" height="4.2" fill="#ffe1e1"/>
<rect x="82.5" y="358.3" width="5.9" height="4.2" fill="#ffcdcd"/>
<rect x="88.2" y="358.3" width="5.9" height="4.2" fill="#ffbcbc"/>
<rect x="93.8" y="358.3" width="5.9" height="4.2" fill="#ffb1b1"/>
<rect x="99.4" y="358.3" width="5.9" height="4.2" fill="#ffabab"/>
<rect x="105.1" y="358.3" width="5.9" height="4.2" fill="#ffa8a8"/>
<rect x="110.7" y="358.3" width="11.6" height="4.2" fill="#ffa6a6"/>
<rect x="122.0" y="358.3" width="5.9" height="4.2" fill="#ffa5a5"/>
<rect x="127.6" y="358.3" width="5.9" height="4.2" fill="#ffa4a4"/>
<rect x="133.2" y="358.3" width="5.9" height="4.2" fill="#ffa5a5"/>
<rect x="138.9" y="358.3" width="5.9" height="4.2" fill="#ffa6a6"/>
<rect x="144.5" y="358.3" width="5.9" height="4.2" fill="#ffa7a7"/>
<rect x="150.1" y="358.3" width="5.9" height="4.2" fill="#ffa8a8"/>
<rect x="155.8" y="358.3" width="5.9" height="4.2" fill="#ffa9a9"/>
<rect x="161.4" y="358.3" width="5.9" height="4.2" fill="#ffabab"/>
<rect x="167.0" y="358.3" width="5.9" height="4.2" fill="#ffadad"/>
<rect x="172.7" y="358.3" width="5.9" height="4.2" fill="#ffafaf"/>
<rect x="178.3" y="358.3" width="5.9" height="4.2" fill="#ffb1b1"/>
<rect x="183.9" y="358.3" width="5.9" height="4.2" fill="#ffb2b2"/>
<rect x="189.5" y="358.3" width="5.9" height="4.2" fill="#ffb5b5"/>
<rect x="195.2" y="358.3" width="5.9" height="4.2" fill="#ffb7b7"/>
<rect x="200.8" y="358.3" width="5.9" height="4.2" fill="#ffb9b9"/>
<rect x="206.4" y="358.3" width="5.9" height="4.2" fill="#ffbcbc"/>
<rect x="212.1" y="358.3" width="5.9" height="4.2" fill="#ffbebe"/>
<rect x="217.7" y="358.3" width="5.9" height="4.2" fill="#ffc0c0"/>
<rect x="223.3" y="358.3" width="5.9" height="4.2" fill="#ffc2c2"/>
<rect x="229.0" y="358.3" width="5.9" height="4.2" fill="#ffc4c4"/>
<rect x="234.6" y="358.3" width="5.9" height="4.2" fill="#ffc6c6"/>
<rect x="240.2" y="358.3" width="5.9" height="4.2" fill="#ffc7c7"/>
<rect x="245.9" y="358.3" width="5.9" height="4.2" fill="#ffc9c9"/>
<rect x="251.5" y="358.3" width="5.9" height="4.2" fill="#ffcbcb"/>
<rect x="257.1" y="358.3" width="5.9" height="4.2" fill="#ffcccc"/>
<rect x="262.8" y="358.3" width="5.9" height="4.2" fill="#ffcdcd"/>
<rect x="268.4" y="358.3" width="11.6" height="4.2" fill="#ffcece"/>
<rect x="279.7" y="358.3" width="5.9" height="4.2" fill="#ffcfcf"/>
<rect x="285.3" y="358.3" width="5.9" height="4.2" fill="#ffd0d0"/>
<rect x="54.4" y="362.2" width="5.9" height="4.2" fill="#fffefe"/>
<rect x="60.0" y="362.2" width="5.9" height="4.2" fill="#fffcfc"/>
<rect x="65.6" y="362.2" width="5.9" height="4.2" fill="#fff8f8"/>
<rect x="71.3" y="362.2" width="5.9" height="4.2" fill="#ffeeee"/>
<rect x="76.9" y="362.2" width="5.9" height="4.2" fill="#ffdddd"/>
<rect x="82.5" y="362.2" width="5.9" height="4.2" fill="#ffc7c7"/>
<rect x="88.2" y="362.2" width="5.9" height="4.2" fill="#ffb5b5"/>
<rect x="93.8" y="362.2" width="5.9" height="4.2" fill="#ffabab"/>
<rect x="99.4" y="362.2" width="5.9" height="4.2" fill="#ffa5a5"/>
<rect x="105.1" y="362.2" width="5.9" height="4.2" fill="#ffa1a1"/>
<rect x="110.7" y="362.2" width="5.9" height="4.2" fill="#ffa0a0"/>
<rect x="116.3" y="362.2" width="5.9" height="4.2" fill="#ff9f9f"/>
<rect x="122.0" y="362.2" width="5.9" height="4.2" fill="#ff9e9e"/>
<rect x="127.6" y="362.2" width="5.9" height="4.2" fill="#ff9d9d"/>
<rect x="133.2" y="362.2" width="5.9" height="4.2" fill="#ff9e9e"/>
<rect x="138.9" y="362.2" width="5.9" height="4.2" fill="#ff9f9f"/>
<rect x="144.5" y="362.2" width="5.9" height="4.2" fill="#ffa0a0"/>
<rect x="150.1" y="362.2" width="5.9" height="4.2" fill="#ffa1a1"/>
<rect x="155.8" y="362.2" width="5.9" height="4.2" fill="#ffa3a3"/>
<rect x="161.4" y="362.2" width="5.9" height="4.2" fill="#ffa5a5"/>
<rect x="167.0" y="362.2" width="5.9" height="4.2" fill="#ffa7a7"/>
<rect x="172.7" y="362.2" width="5.9" height="4.2" fill="#ffa9a9"/>
<rect x="178.3" y="362.2" width="5.9" height="4.2" fill="#ffabab"/>
<rect x="183.9" y="362.2" width="5.9" height="4.2" fill="#ffadad"/>
<rect x="189.5" y="362.2" width="5.9" height="4.2" fill="#ffafaf"/>
<rect x="195.2" y="362.2" width="5.9" height="4.2" fill="#ffb2b2"/>
<rect x="200.8" y="362.2" width="5.9" height="4.2" fill="#ffb5b5"/>
<rect x="206.4" y="362.2" width="5.9" height="4.2" fill="#ffb7b7"/>
<rect x="212.1" y="362.2" width="5.9" height="4.2" fill="#ffbaba"/>
<rect x="217.7" y="362.2" width="5.9" height="4.2" fill="#ffbcbc"/>
<rect x="223.3" y="362.2" width="5.9" height="4.2" fill="#ffbebe"/>
<rect x="229.0" y="362.2" width="5.9" height="4.2" fill="#ffc0c0"/>
<rect x="234.6" y="362.2" width="5.9" height="4.2" fill="#ffc2c2"/>
<rect x="240.2" y="362.2" width="5.9" height="4.2" fill="#ffc4c4"/>
<rect x="245.9" y="362.2" width="5.9" height="4.2" fill="#ffc6c6"/>
<rect x="251.5" y="362.2" width="5.9" height="4.2" fill="#ffc7c7"/>
<rect x="257.1" y="362.2" width="5.9" height="4.2" fill="#ffc9c9"/>
<rect x="262.8" y="362.2" width="5.9" height="4.2" fill="#ffcaca"/>
<rect x="268.4" y="362.2" width="5.9" height="4.2" fill="#ffcbcb"/>
<rect x="274.0" y="362.2" width="11.6" height="4.2" fill="#ffcccc"/>
<rect x="285.3" y="362.2" width="5.9" height="4.2" fill="#ffcdcd"/>
<rect x="54.4" y="366.1" width="5.9" height="4.2" fill="#fffefe"/>
<rect x="60.0" y="366.1" width="5.9" height="4.2" fill="#fffcfc"/>
<rect x="65.6" y="366.1" width="5.9" height="4.2" fill="#fff7f7"/>
<rect x="71.3" y="366.1" width="5.9" height="4.2" fill="#ffebeb"/>
<rect x="76.9" y="366.1" width="5.9" height="4.2" fill="#ffd8d8"/>
<rect x="82.5" y="366.1" width="5.9" height="4.2" fill="#ffc1c1"/>
<rect x="88.2" y="366.1" width="5.9" height="4.2" fill="#ffafaf"/>
<rect x="93.8" y="366.1" width="5.9" height="4.2" fill="#ffa4a4"/>
<rect x="99.4" y="366.1" width="5.9" height="4.2" fill="#ff9e9e"/>
<rect x="105.1" y="366.1" width="5.9" height="4.2" fill="#ff9b9b"/>
<rect x="110.7" y="366.1" width="5.9" height="4.2" fill="#ff9999"/>
<rect x="116.3" y="366.1" width="5.9" height="4.2" fill="#ff9898"/>
<rect x="122.0" y="366.1" width="11.6" height="4.2" fill="#ff9797"/>
<rect x="133.2" y="366.1" width="5.9" height="4.2" fill="#ff9898"/>
<rect x="138.9" y="366.1" width="5.9" height="4.2" fill="#ff9999"/>
<rect x="144.5" y="366.1" width="5.9" height="4.2" fill="#ff9a9a"/>
<rect x="150.1" y="366.1" width="5.9" height="4.2" fill="#ff9b9b"/>
<rect x="155.8" y="366.1" width="5.9" height="4.2" fill="#ff9c9c"/>
<rect x="161.4" y="366.1" width="5.9" height="4.2" fill="#ff9f9f"/>
<rect x="167.0" y="366.1" width="5.9" height="4.2" fill="#ffa1a1"/>
<rect x="172.7" y="366.1" width="5.9" height="4.2" fill="#ffa3a3"/>
<rect x="178.3" y="366.1" width="5.9" height="4.2" fill="#ffa5a5"/>
<rect x="183.9" y="366.1" width="5.9" height="4.2" fill="#ffa7a7"/>
<rect x="189.5" y="366.1" width="5.9" height="4.2" fill="#ffaaaa"/>
<rect x="195.2" y="366.1" width="5.9" height="4.2" fill="#ffadad"/>
<rect x="200.8" y="366.1" width="5.9" height="4.2" fill="#ffb0b0"/>
<rect x="206.4" y="366.1" width="5.9" height="4.2" fill="#ffb3b3"/>
<rect x="212.1" y="366.1" width="5.9" height="4.2" fill="#ffb5b5"/>
<rect x="217.7" y="366.1" width="5.9" height="4.2" fill="#ffb8b8"/>
<rect x="223.3" y="366.1" width="5.9" height="4.2" fill="#ffbaba"/>
<rect x="229.0" y="366.1" width="5.9" height="4.2" fill="#ffbdbd"/>
<rect x="234.6" y="366.1" width="5.9" height="4.2" fill="#ffbfbf"/>
<rect x="240.2" y="366.1" width="5.9" height="4.2" fill="#ffc0c0"/>
<rect x="245.9" y="366.1" width="5.9" height="4.2" fill="#ffc2c2"/>
<rect x="251.5" y="366.1" width="5.9" height="4.2" fill="#ffc4c4"/>
<rect x="257.1" y="366.1" width="5.9" height="4.2" fill="#ffc6c6"/>
<rect x="262.8" y="366.1" width="5.9" height="4.2" fill="#ffc7c7"/>
<rect x="268.4" y="366.1" width="5.9" height="4.2" fill="#ffc8c8"/>
<rect x="274.0" y="366.1" width="5.9" height="4.2" fill="#ffc9c9"/>
<rect x="279.7" y="366.1" width="11.6" height="4.2" fill="#ffcaca"/>
<rect x="54.4" y="370.0" width="5.9" height="4.2" fill="#fffefe"/>
<rect x="60.0" y="370.0" width="5.9" height="4.2" fill="#fffbfb"/>
<rect x="65.6" y="370.0" width="5.9" height="4.2" fill="#fff5f5"/>
<rect x="71.3" y="370.0" width="5.9" height="4.2" fill="#ffe8e8"/>
<rect x="76.9" y="370.0" width="5.9" height="4.2" fill="#ffd3d3"/>
<rect x="82.5" y="370.0" width="5.9" height="4.2" fill="#ffbaba"/>
<rect x="88.2" y="370.0" width="5.9" height="4.2" fill="#ffa8a8"/>
<rect x="93.8" y="370.0" width="5.9" height="4.2" fill="#ff9e9e"/>
<rect x="99.4" y="370.0" width="5.9" height="4.2" fill="#ff9898"/>
<rect x="105.1" y="370.0" width="5.9" height="4.2" fill="#ff9494"/>
<rect x="110.7" y="370.0" width="5.9" height="4.2" fill="#ff9292"/>
<rect x="116.3" y="370.0" width="5.9" height="4.2" fill="#ff9191"/>
<rect x="122.0" y="370.0" width="11.6" height="4.2" fill="#ff9090"/>
<rect x="133.2" y="370.0" width="5.9" height="4.2" fill="#ff9191"/>
<rect x="138.9" y="370.0" width="5.9" height="4.2" fill="#ff9292"/>
<rect x="144.5" y="370.0" width="5.9" height="4.2" fill="#ff9393"/>
<rect x="150.1" y="370.0" width="5.9" height="4.2" fill="#ff9494"/>
<rect x="155.8" y="370.0" width="5.9" height="4.2" fill="#ff9696"/>
<rect x="161.4" y="370.0" width="5.9" height="4.2" fill="#ff9898"/>
<rect x="167.0" y="370.0" width="5.9" height="4.2" fill="#ff9b9b"/>
<rect x="172.7" y="370.0" width="5.9" height="4.2" fill="#ff9d9d"/>
<rect x="178.3" y="370.0" width="5.9" height="4.2" fill="#ffa0a0"/>
<rect x="183.9" y="370.0" width="5.9" height="4.2" fill="#ffa2a2"/>
<rect x="189.5" y="370.0" width="5.9" height="4.2" fill="#ffa5a5"/>
<rect x="195.2" y="370.0" width="5.9" height="4.2" fill="#ffa8a8"/>
<rect x="200.8" y="370.0" width="5.9" height="4.2" fill="#ffabab"/>
<rect x="206.4" y="370.0" width="5.9" height="4.2" fill="#ffaeae"/>
<rect x="212.1" y="370.0" width="5.9" height="4.2" fill="#ffb1b1"/>
<rect x="217.7" y="370.0" width="5.9" height="4.2" fill="#ffb4b4"/>
<rect x="223.3" y="370.0" width="5.9" height="4.2" fill="#ffb6b6"/>
<rect x="229.0" y="370.0" width="5.9" height="4.2" fill="#ffb9b9"/>
<rect x="234.6" y="370.0" width="5.9" height="4.2" fill="#ffbbbb"/>
<rect x="240.2" y="370.0" width="5.9" height="4.2" fill="#ffbdbd"/>
<rect x="245.9" y="370.0" width="5.9" height="4.2" fill="#ffbfbf"/>
<rect x="251.5" y="370.0" width="5.9" height="4.2" fill="#ffc1c1"/>
<rect x="257.1" y="370.0" width="5.9" height="4.2" fill="#ffc3c3"/>
<rect x="262.8" y="370.0" width="5.9" height="4.2" fill="#ffc4c4"/>
<rect x="268.4" y="370.0" width="5.9" height="4.2" fill="#ffc5c5"/>
<rect x="274.0" y="370.0" width="5.9" height="4.2" fill="#ffc6c6"/>
<rect x="279.7" y="370.0" width="5.9" height="4.2" fill="#ffc7c7"/>
<rect x="285.3" y="370.0" width="5.9" height="4.2" fill="#ffc8c8"/>
<rect x="54.4" y="373.9" width="5.9" height="4.2" fill="#fffdfd"/>
<rect x="60.0" y="373.9" width="5.9" height="4.2" fill="#fffafa"/>
<rect x="65.6" y="373.9" width="5.9" height="4.2" fill="#fff3f3"/>
<rect x="71.3" y="373.9" width="5.9" height="4.2" fill="#ffe4e4"/>
<rect x="76.9" y="373.9" width="5.9" height="4.2" fill="#ffcdcd"/>
<rect x="82.5" y="373.9" width="5.9" height="4.2" fill="#ffb4b4"/>
<rect x="88.2" y="373.9" width="5.9" height="4.2" fill="#ffa2a2"/>
<rect x="93.8" y="373.9" width="5.9" height="4.2" fill="#ff9797"/>
<rect x="99.4" y="373.9" width="5.9" height="4.2" fill="#ff9191"/>
<rect x="105.1" y="373.9" width="5.9" height="4.2" fill="#ff8e8e"/>
<rect x="110.7" y="373.9" width="5.9" height="4.2" fill="#ff8c8c"/>
<rect x="116.3" y="373.9" width="5.9" height="4.2" fill="#ff8b8b"/>
<rect x="122.0" y="373.9" width="5.9" height="4.2" fill="#ff8a8a"/>
<rect x="127.6" y="373.9" width="5.9" height="4.2" fill="#ff8989"/>
<rect x="133.2" y="373.9" width="5.9" height="4.2" fill="#ff8a8a"/>
<rect x="138.9" y="373.9" width="5.9" height="4.2" fill="#ff8b8b"/>
<rect x="144.5" y="373.9" width="5.9" height="4.2" fill="#ff8d8d"/>
<rect x="150.1" y="373.9" width="5.9" height="4.2" fill="#ff8e8e"/>
<rect x="155.8" y="373.9" width="5.9" height="4.2" fill="#ff9090"/>
<rect x="161.4" y="373.9" width="5.9" height="4.2" fill="#ff9292"/>
<rect x="167.0" y="373.9" width="5.9" height="4.2" fill="#ff9595"/>
<rect x="172.7" y="373.9" width="5.9" height="4.2" fill="#ff9797"/>
<rect x="178.3" y="373.9" width="5.9" height="4.2" fill="#ff9a9a"/>
<rect x="183.9" y="373.9" width="5.9" height="4.2" fill="#ff9d9d"/>
<rect x="189.5" y="373.9" width="5.9" height="4.2" fill="#ffa0a0"/>
<rect x="195.2" y="373.9" width="5.9" height="4.2" fill="#ffa3a3"/>
<rect x="200.8" y="373.9" width="5.9" height="4.2" fill="#ffa6a6"/>
<rect x="206.4" y="373.9" width="5.9" height="4.2" fill="#ffaaaa"/>
<rect x="212.1" y="373.9" width="5.9" height="4.2" fill="#ffadad"/>
<rect x="217.7" y="373.9" width="5.9" height="4.2" fill="#ffb0b0"/>
<rect x="223.3" y="373.9" width="5.9" height="4.2" fill="#ffb3b3"/>
<rect x="229.0" y="373.9" width="5.9" height="4.2" fill="#ffb5b5"/>
<rect x="234.6" y="373.9" width="5.9" height="4.2" fill="#ffb8b8"/>
<rect x="240.2" y="373.9" width="5.9" height="4.2" fill="#ffbaba"/>
<rect x="245.9" y="373.9" width="5.9" height="4.2" fill="#ffbcbc"/>
<rect x="251.5" y="373.9" width="5.9" height="4.2" fill="#ffbebe"/>
<rect x="257.1" y="373.9" width="5.9" height="4.2" fill="#ffc0c0"/>
<rect x="262.8" y="373.9" width="5.9" height="4.2" fill="#ffc2c2"/>
<rect x="268.4" y="373.9" width="5.9" height="4.2" fill="#ffc3c3"/>
<rect x="274.0" y="373.9" width="5.9" height="4.2" fill="#ffc4c4"/>
<rect x="279.7" y="373.9" width="11.6" height="4.2" fill="#ffc5c5"/>
<rect x="54.4" y="377.8" width="5.9" height="4.2" fill="#fffdfd"/>
<rect x="60.0" y="377.8" width="5.9" height="4.2" fill="#fffafa"/>
<rect x="65.6" y="377.8" width="5.9" height="4.2" fill="#fff1f1"/>
<rect x="71.3" y="377.8" width="5.9" height="4.2" fill="#ffe0e0"/>
<rect x="76.9" y="377.8" width="5.9" height="4.2" fill="#ffc7c7"/>
<rect x="82.5" y="377.8" width="5.9" height="4.2" fill="#ffadad"/>
<rect x="88.2" y="377.8" width="5.9" height="4.2" fill="#ff9b9b"/>
<rect x="93.8" y="377.8" width="5.9" height="4.2" fill="#ff9191"/>
<rect x="99.4" y="377.8" width="5.9" height="4.2" fill="#ff8b8b"/>
<rect x="105.1" y="377.8" width="5.9" height="4.2" fill="#ff8787"/>
<rect x="110.7" y="377.8" width="5.9" height="4.2" fill="#ff8585"/>
<rect x="116.3" y="377.8" width="5.9" height="4.2" fill="#ff8484"/>
<rect x="122.0" y="377.8" width="5.9" height="4.2" fill="#ff8383"/>
<rect x="127.6" y="377.8" width="5.9" height="4.2" fill="#ff8282"/>
<rect x="133.2" y="377.8" width="5.9" height="4.2" fill="#ff8383"/>
<rect x="138.9" y="377.8" width="5.9" height="4.2" fill="#ff8585"/>
<rect x="144.5" y="377.8" width="5.9" height="4.2" fill="#ff8686"/>
<rect x="150.1" y="377.8" width="5.9" height="4.2" fill="#ff8888"/>
<rect x="155.8" y="377.8" width="5.9" height="4.2" fill="#ff8989"/>
<rect x="161.4" y="377.8" width="5.9" height="4.2" fill="#ff8c8c"/>
<rect x="167.0" y="377.8" width="5.9" height="4.2" fill="#ff8f8f"/>
<rect x="172.7" y="377.8" width="5.9" height="4.2" fill="#ff9292"/>
<rect x="178.3" y="377.8" width="5.9" height="4.2" fill="#ff9494"/>
<rect x="183.9" y="377.8" width="5.9" height="4.2" fill="#ff9797"/>
<rect x="189.5" y="377.8" width="5.9" height="4.2" fill="#ff9b9b"/>
<rect x="195.2" y="377.8" width="5.9" height="4.2" fill="#ff9e9e"/>
<rect x="200.8" y="377.8" width="5.9" height="4.2" fill="#ffa2a2"/>
<rect x="206.4" y="377.8" width="5.9" height="4.2" fill="#ffa5a5"/>
<rect x="212.1" y="377.8" width="5.9" height="4.2" fill="#ffa9a9"/>
<rect x="217.7" y="377.8" width="5.9" height="4.2" fill="#ffacac"/>
<rect x="223.3" y="377.8" width="5.9" height="4.2" fill="#ffafaf"/>
<rect x="229.0" y="377.8" width="5.9" height="4.2" fill="#ffb2b2"/>
<rect x="234.6" y="377.8" width="5.9" height="4.2" fill="#ffb4b4"/>
<rect x="240.2" y="377.8" width="5.9" height="4.2" fill="#ffb7b7"/>
<rect x="245.9" y="377.8" width="5.9" height="4.2" fill="#ffb9b9"/>
<rect x="251.5" y="377.8" width="5.9" height="4.2" fill="#ffbbbb"/>
<rect x="257.1" y="377.8" width="5.9" height="4.2" fill="#ffbebe"/>
<rect x="262.8" y="377.8" width="5.9" height="4.2" fill="#ffbfbf"/>
<rect x="268.4" y="377.8" width="5.9" height="4.2" fill="#ffc0c0"/>
<rect x="274.0" y="377.8" width="5.9" height="4.2" fill="#ffc1c1"/>
<rect x="279.7" y="377.8" width="5.9" height="4.2" fill="#ffc2c2"/>
<rect x="285.3" y="377.8" width="5.9" height="4.2" fill="#ffc3c3"/>
<rect x="54.4" y="381.7" width="5.9" height="4.2" fill="#fffdfd"/>
<rect x="60.0" y="381.7" width="5.9" height="4.2" fill="#fff9f9"/>
<rect x="65.6" y="381.7" width="5.9" height="4.2" fill="#ffefef"/>
<rect x="71.3" y="381.7" width="5.9" height="4.2" fill="#ffdcdc"/>
<rect x="76.9" y="381.7" width="5.9" height="4.2" fill="#ffc1c1"/>
<rect x="82.5" y="381.7" width="5.9" height="4.2" fill="#ffa6a6"/>
<rect x="88.2" y="381.7" width="5.9" height="4.2" fill="#ff9494"/>
<rect x="93.8" y="381.7" width="5.9" height="4.2" fill="#ff8a8a"/>
<rect x="99.4" y="381.7" width="5.9" height="4.2" fill="#ff8484"/>
<rect x="105.1" y="381.7" width="5.9" height="4.2" fill="#ff8080"/>
<rect x="110.7" y="381.7" width="5.9" height="4.2" fill="#ff7e7e"/>
<rect x="116.3" y="381.7" width="5.9" height="4.2" fill="#ff7d7d"/>
<rect x="122.0" y="381.7" width="5.9" height="4.2" fill="#ff7c7c"/>
<rect x="127.6" y="381.7" width="5.9" height="4.2" fill="#ff7b7b"/>
<rect x="133.2" y="381.7" width="5.9" height="4.2" fill="#ff7d7d"/>
<rect x="138.9" y="381.7" width="5.9" height="4.2" fill="#ff7e7e"/>
<rect x="144.5" y="381.7" width="5.9" height="4.2" fill="#ff8080"/>
<rect x="150.1" y="381.7" width="5.9" height="4.2" fill="#ff8181"/>
<rect x="155.8" y="381.7" width="5.9" height="4.2" fill="#ff8383"/>
<rect x="161.4" y="381.7" width="5.9" height="4.2" fill="#ff8686"/>
<rect x="167.0" y="381.7" width="5.9" height="4.2" fill="#ff8989"/>
<rect x="172.7" y="381.7" width="5.9" height="4.2" fill="#ff8c8c"/>
<rect x="178.3" y="381.7" width="5.9" height="4.2" fill="#ff8f8f"/>
<rect x="183.9" y="381.7" width="5.9" height="4.2" fill="#ff9292"/>
<rect x="189.5" y="381.7" width="5.9" height="4.2" fill="#ff9595"/>
<rect x="195.2" y="381.7" width="5.9" height="4.2" fill="#ff9999"/>
<rect x="200.8" y="381.7" width="5.9" height="4.2" fill="#ff9d9d"/>
<rect x="206.4" y="381.7" width="5.9" height="4.2" fill="#ffa1a1"/>
<rect x="212.1" y="381.7" width="5.9" height="4.2" fill="#ffa5a5"/>
<rect x="217.7" y="381.7" width="5.9" height="4.2" fill="#ffa8a8"/>
<rect x="223.3" y="381.7" width="5.9" height="4.2" fill="#ffabab"/>
<rect x="229.0" y="381.7" width="5.9" height="4.2" fill="#ffaeae"/>
<rect x="234.6" y="381.7" width="5.9" height="4.2" fill="#ffb1b1"/>
<rect x="240.2" y="381.7" width="5.9" height="4.2" fill="#ffb4b4"/>
<rect x="245.9" y="381.7" width="5.9" height="4.2" fill="#ffb6b6"/>
<rect x="251.5" y="381.7" width="5.9" height="4.2" fill="#ffb9b9"/>
<rect x="257.1" y="381.7" width="5.9" height="4.2" fill="#ffbbbb"/>
<rect x="262.8" y="381.7" width="5.9" height="4.2" fill="#ffbdbd"/>
<rect x="268.4" y="381.7" width="5.9" height="4.2" fill="#ffbebe"/>
<rect x="274.0" y="381.7" width="5.9" height="4.2" fill="#ffbfbf"/>
<rect x="279.7" y="381.7" width="5.9" height="4.2" fill="#ffc0c0"/>
<rect x="285.3" y="381.7" width="5.9" height="4.2" fill="#ffc1c1"/>
<rect x="54.4" y="385.6" width="5.9" height="4.2" fill="#fffcfc"/>
<rect x="60.0" y="385.6" width="5.9" height="4.2" fill="#fff7f7"/>
<rect x="65.6" y="385.6" width="5.9" height="4.2" fill="#ffecec"/>
<rect x="71.3" y="385.6" width="5.9" height="4.2" fill="#ffd7d7"/>
<rect x="76.9" y="385.6" width="5.9" height="4.2" fill="#ffbbbb"/>
<rect x="82.5" y="385.6" width="5.9" height="4.2" fill="#ffa0a0"/>
<rect x="88.2" y="385.6" width="5.9" height="4.2" fill="#ff8e8e"/>
<rect x="93.8" y="385.6" width="5.9" height="4.2" fill="#ff8484"/>
<rect x="99.4" y="385.6" width="5.9" height="4.2" fill="#ff7e7e"/>
<rect x="105.1" y="385.6" width="5.9" height="4.2" fill="#ff7a7a"/>
<rect x="110.7" y="385.6" width="5.9" height="4.2" fill="#ff7878"/>
<rect x="116.3" y="385.6" width="5.9" height="4.2" fill="#ff7676"/>
<rect x="122.0" y="385.6" width="5.9" height="4.2" fill="#ff7575"/>
<rect x="127.6" y="385.6" width="5.9" height="4.2" fill="#ff7474"/>
<rect x="133.2" y="385.6" width="5.9" height="4.2" fill="#ff7676"/>
<rect x="138.9" y="385.6" width="5.9" height="4.2" fill="#ff7777"/>
<rect x="144.5" y="385.6" width="5.9" height="4.2" fill="#ff7979"/>
<rect x="150.1" y="385.6" width="5.9" height="4.2" fill="#ff7b7b"/>
<rect x="155.8" y="385.6" width="5.9" height="4.2" fill="#ff7d7d"/>
<rect x="161.4" y="385.6" width="5.9" height="4.2" fill="#ff8080"/>
<rect x="167.0" y="385.6" width="5.9" height="4.2" fill="#ff8383"/>
<rect x="172.7" y="385.6" width="5.9" height="4.2" fill="#ff8686"/>
<rect x="178.3" y="385.6" width="5.9" height="4.2" fill="#ff8989"/>
<rect x="183.9" y="385.6" width="5.9" height="4.2" fill="#ff8d8d"/>
<rect x="189.5" y="385.6" width="5.9" height="4.2" fill="#ff9090"/>
<rect x="195.2" y="385.6" width="5.9" height="4.2" fill="#ff9595"/>
<rect x="200.8" y="385.6" width="5.9" height="4.2" fill="#ff9999"/>
<rect x="206.4" y="385.6" width="5.9" height="4.2" fill="#ff9d9d"/>
<rect x="212.1" y="385.6" width="5.9" height="4.2" fill="#ffa1a1"/>
<rect x="217.7" y="385.6" width="5.9" height="4.2" fill="#ffa5a5"/>
<rect x="223.3" y="385.6" width="5.9" height="4.2" fill="#ffa8a8"/>
<rect x="229.0" y="385.6" width="5.9" height="4.2" fill="#ffabab"/>
<rect x="234.6" y="385.6" width="5.9" height="4.2" fill="#ffaeae"/>
<rect x="240.2" y="385.6" width="5.9" height="4.2" fill="#ffb1b1"/>
<rect x="245.9" y="385.6" width="5.9" height="4.2" fill="#ffb3b3"/>
<rect x="251.5" y="385.6" width="5.9" height="4.2" fill="#ffb6b6"/>
<rect x="257.1" y="385.6" width="5.9" height="4.2" fill="#ffb9b9"/>
<rect x="262.8" y="385.6" width="5.9" height="4.2" fill="#ffbbbb"/>
<rect x="268.4" y="385.6" width="5.9" height="4.2" fill="#ffbcbc"/>
<rect x="274.0" y="385.6" width="5.9" height="4.2" fill="#ffbdbd"/>
<rect x="279.7" y="385.6" width="5.9" height="4.2" fill="#ffbebe"/>
<rect x="285.3" y="385.6" width="5.9" height="4.2" fill="#ffbfbf"/>
<rect x="54.4" y="389.5" width="5.9" height="4.2" fill="#fffcfc"/>
<rect x="60.0" y="389.5" width="5.9" height="4.2" fill="#fff6f6"/>
<rect x="65.6" y="389.5" width="5.9" height="4.2" fill="#ffeaea"/>
<rect x="71.3" y="389.5" width="5.9" height="4.2" fill="#ffd2d2"/>
<rect x="76.9" y="389.5" width="5.9" height="4.2" fill="#ffb4b4"/>
<rect x="82.5" y="389.5" width="5.9" height="4.2" fill="#ff9999"/>
<rect x="88.2" y="389.5" width="5.9" height="4.2" fill="#ff8787"/>
<rect x="93.8" y="389.5" width="5.9" height="4.2" fill="#ff7d7d"/>
<rect x="99.4" y="389.5" width="5.9" height="4.2" fill="#ff7878"/>
<rect x="105.1" y="389.5" width="5.9" height="4.2" fill="#ff7373"/>
<rect x="110.7" y="389.5" width="5.9" height="4.2" fill="#ff7171"/>
<rect x="116.3" y="389.5" width="5.9" height="4.2" fill="#ff7070"/>
<rect x="122.0" y="389.5" width="5.9" height="4.2" fill="#ff6f6f"/>
<rect x="127.6" y="389.5" width="5.9" height="4.2" fill="#ff6d6d"/>
<rect x="133.2" y="389.5" width="5.9" height="4.2" fill="#ff6f6f"/>
<rect x="138.9" y="389.5" width="5.9" height="4.2" fill="#ff7171"/>
<rect x="144.5" y="389.5" width="5.9" height="4.2" fill="#ff7373"/>
<rect x="150.1" y="389.5" width="5.9" height="4.2" fill="#ff7474"/>
<rect x="155.8" y="389.5" width="5.9" height="4.2" fill="#ff7676"/>
<rect x="161.4" y="389.5" width="5.9" height="4.2" fill="#ff7a7a"/>
<rect x="167.0" y="389.5" width="5.9" height="4.2" fill="#ff7d7d"/>
<rect x="172.7" y="389.5" width="5.9" height="4.2" fill="#ff8181"/>
<rect x="178.3" y="389.5" width="5.9" height="4.2" fill="#ff8484"/>
<rect x="183.9" y="389.5" width="5.9" height="4.2" fill="#ff8787"/>
<rect x="189.5" y="389.5" width="5.9" height="4.2" fill="#ff8c8c"/>
<rect x="195.2" y="389.5" width="5.9" height="4.2" fill="#ff9090"/>
<rect x="200.8" y="389.5" width="5.9" height="4.2" fill="#ff9494"/>
<rect x="206.4" y="389.5" width="5.9" height="4.2" fill="#ff9999"/>
<rect x="212.1" y="389.5" width="5.9" height="4.2" fill="#ff9d9d"/>
<rect x="217.7" y="389.5" width="5.9" height="4.2" fill="#ffa1a1"/>
<rect x="223.3" y="389.5" width="5.9" height="4.2" fill="#ffa5a5"/>
<rect x="229.0" y="389.5" width="5.9" height="4.2" fill="#ffa8a8"/>
<rect x="234.6" y="389.5" width="5.9" height="4.2" fill="#ffabab"/>
<rect x="240.2" y="389.5" width="5.9" height="4.2" fill="#ffaeae"/>
<rect x="245.9" y="389.5" width="5.9" height="4.2" fill="#ffb1b1"/>
<rect x="251.5" y="389.5" width="5.9" height="4.2" fill="#ffb4b4"/>
<rect x="257.1" y="389.5" width="5.9" height="4.2" fill="#ffb7b7"/>
<rect x="262.8" y="389.5" width="5.9" height="4.2" fill="#ffb8b8"/>
<rect x="268.4" y="389.5" width="5.9" height="4.2" fill="#ffbaba"/>
<rect x="274.0" y="389.5" width="5.9" height="4.2" fill="#ffbbbb"/>
<rect x="279.7" y="389.5" width="5.9" height="4.2" fill="#ffbcbc"/>
<rect x="285.3" y="389.5" width="5.9" height="4.2" fill="#ffbdbd"/>
<rect x="54.4" y="393.4" width="5.9" height="4.2" fill="#fffbfb"/>
<rect x="60.0" y="393.4" width="5.9" height="4.2" fill="#fff5f5"/>
<rect x="65.6" y="393.4" width="5.9" height="4.2" fill="#ffe7e7"/>
<rect x="71.3" y="393.4" width="5.9" height="4.2" fill="#ffcdcd"/>
<rect x="76.9" y="393.4" width="5.9" height="4.2" fill="#ffaeae"/>
<rect x="82.5" y="393.4" width="5.9" height="4.2" fill="#ff9393"/>
<rect x="88.2" y="393.4" width="5.9" height="4.2" fill="#ff8282"/>
<rect x="93.8" y="393.4" width="5.9" height="4.2" fill="#ff7878"/>
<rect x="99.4" y="393.4" width="5.9" height="4.2" fill="#ff7272"/>
<rect x="105.1" y="393.4" width="5.9" height="4.2" fill="#ff6e6e"/>
<rect x="110.7" y="393.4" width="5.9" height="4.2" fill="#ff6b6b"/>
<rect x="116.3" y="393.4" width="5.9" height="4.2" fill="#ff6a6a"/>
<rect x="122.0" y="393.4" width="5.9" height="4.2" fill="#ff6969"/>
<rect x="127.6" y="393.4" width="5.9" height="4.2" fill="#ff6868"/>
<rect x="133.2" y="393.4" width="5.9" height="4.2" fill="#ff6969"/>
<rect x="138.9" y="393.4" width="5.9" height="4.2" fill="#ff6b6b"/>
<rect x="144.5" y="393.4" width="5.9" height="4.2" fill="#ff6d6d"/>
<rect x="150.1" y="393.4" width="5.9" height="4.2" fill="#ff6f6f"/>
<rect x="155.8" y="393.4" width="5.9" height="4.2" fill="#ff7171"/>
<rect x="161.4" y="393.4" width="5.9" height="4.2" fill="#ff7575"/>
<rect x="167.0" y="393.4" width="5.9" height="4.2" fill="#ff7878"/>
<rect x="172.7" y="393.4" width="5.9" height="4.2" fill="#ff7c7c"/>
<rect x="178.3" y="393.4" width="5.9" height="4.2" fill="#ff8080"/>
<rect x="183.9" y="393.4" width="5.9" height="4.2" fill="#ff8383"/>
<rect x="189.5" y="393.4" width="5.9" height="4.2" fill="#ff8787"/>
<rect x="195.2" y="393.4" width="5.9" height="4.2" fill="#ff8c8c"/>
<rect x="200.8" y="393.4" width="5.9" height="4.2" fill="#ff9191"/>
<rect x="206.4" y="393.4" width="5.9" height="4.2" fill="#ff9595"/>
<rect x="212.1" y="393.4" width="5.9" height="4.2" fill="#ff9a9a"/>
<rect x="217.7" y="393.4" width="5.9" height="4.2" fill="#ff9e9e"/>
<rect x="223.3" y="393.4" width="5.9" height="4.2" fill="#ffa2a2"/>
<rect x="229.0" y="393.4" width="5.9" height="4.2" fill="#ffa5a5"/>
<rect x="234.6" y="393.4" width="5.9" height="4.2" fill="#ffa9a9"/>
<rect x="240.2" y="393.4" width="5.9" height="4.2" fill="#ffacac"/>
<rect x="245.9" y="393.4" width="5.9" height="4.2" fill="#ffafaf"/>
<rect x="251.5" y="393.4" width="5.9" height="4.2" fill="#ffb2b2"/>
<rect x="257.1" y="393.4" width="5.9" height="4.2" fill="#ffb5b5"/>
<rect x="262.8" y="393.4" width="5.9" height="4.2" fill="#ffb7b7"/>
<rect x="268.4" y="393.4" width="5.9" height="4.2" fill="#ffb8b8"/>
<rect x="274.0" y="393.4" width="5.9" height="4.2" fill="#ffb9b9"/>
<rect x="279.7" y="393.4" width="5.9" height="4.2" fill="#ffbbbb"/>
<rect x="285.3" y="393.4" width="5.9" height="4.2" fill="#ffbcbc"/>
<rect x="54.4" y="397.4" width="5.9" height="4.2" fill="#fffbfb"/>
<rect x="60.0" y="397.4" width="5.9" height="4.2" fill="#fff4f4"/>
<rect x="65.6" y="397.4" width="5.9" height="4.2" fill="#ffe4e4"/>
<rect x="71.3" y="397.4" width="5.9" height="4.2" fill="#ffc9c9"/>
<rect x="76.9" y="397.4" width="5.9" height="4.2" fill="#ffa9a9"/>
<rect x="82.5" y="397.4" width="5.9" height="4.2" fill="#ff8e8e"/>
<rect x="88.2" y="397.4" width="5.9" height="4.2" fill="#ff7d7d"/>
<rect x="93.8" y="397.4" width="5.9" height="4.2" fill="#ff7474"/>
<rect x="99.4" y="397.4" width="5.9" height="4.2" fill="#ff6e6e"/>
<rect x="105.1" y="397.4" width="5.9" height="4.2" fill="#ff6969"/>
<rect x="110.7" y="397.4" width="5.9" height="4.2" fill="#ff6767"/>
<rect x="116.3" y="397.4" width="5.9" height="4.2" fill="#ff6565"/>
<rect x="122.0" y="397.4" width="5.9" height="4.2" fill="#ff6464"/>
<rect x="127.6" y="397.4" width="5.9" height="4.2" fill="#ff6363"/>
<rect x="133.2" y="397.4" width="5.9" height="4.2" fill="#ff6565"/>
<rect x="138.9" y="397.4" width="5.9" height="4.2" fill="#ff6767"/>
<rect x="144.5" y="397.4" width="5.9" height="4.2" fill="#ff6969"/>
<rect x="150.1" y="397.4" width="5.9" height="4.2" fill="#ff6a6a"/>
<rect x="155.8" y="397.4" width="5.9" height="4.2" fill="#ff6d6d"/>
<rect x="161.4" y="397.4" width="5.9" height="4.2" fill="#ff7171"/>
<rect x="167.0" y="397.4" width="5.9" height="4.2" fill="#ff7474"/>
<rect x="172.7" y="397.4" width="5.9" height="4.2" fill="#ff7878"/>
<rect x="178.3" y="397.4" width="5.9" height="4.2" fill="#ff7c7c"/>
<rect x="183.9" y="397.4" width="5.9" height="4.2" fill="#ff8080"/>
<rect x="189.5" y="397.4" width="5.9" height="4.2" fill="#ff8484"/>
<rect x="195.2" y="397.4" width="5.9" height="4.2" fill="#ff8989"/>
<rect x="200.8" y="397.4" width="5.9" height="4.2" fill="#ff8e8e"/>
<rect x="206.4" y="397.4" width="5.9" height="4.2" fill="#ff9393"/>
<rect x="212.1" y="397.4" width="5.9" height="4.2" fill="#ff9797"/>
<rect x="217.7" y="397.4" width="5.9" height="4.2" fill="#ff9c9c"/>
<rect x="223.3" y="397.4" width="5.9" height="4.2" fill="#ffa0a0"/>
<rect x="229.0" y="397.4" width="5.9" height="4.2" fill="#ffa4a4"/>
<rect x="234.6" y="397.4" width="5.9" height="4.2" fill="#ffa7a7"/>
<rect x="240.2" y="397.4" width="5.9" height="4.2" fill="#ffaaaa"/>
<rect x="245.9" y="397.4" width="5.9" height="4.2" fill="#ffadad"/>
<rect x="251.5" y="397.4" width="5.9" height="4.2" fill="#ffb1b1"/>
<rect x="257.1" y="397.4" width="5.9" height="4.2" fill="#ffb4b4"/>
<rect x="262.8" y="397.4" width="5.9" height="4.2" fill="#ffb6b6"/>
<rect x="268.4" y="397.4" width="5.9" height="4.2" fill="#ffb7b7"/>
<rect x="274.0" y="397.4" width="5.9" height="4.2" fill="#ffb9b9"/>
<rect x="279.7" y="397.4" width="5.9" height="4.2" fill="#ffbaba"/>
<rect x="285.3" y="397.4" width="5.9" height="4.2" fill="#ffbbbb"/>
<rect x="54.4" y="401.3" width="5.9" height="4.2" fill="#fffafa"/>
<rect x="60.0" y="401.3" width="5.9" height="4.2" fill="#fff2f2"/>
<rect x="65.6" y="401.3" width="5.9" height="4.2" fill="#ffe2e2"/>
<rect x="71.3" y="401.3" width="5.9" height="4.2" fill="#ffc5c5"/>
<rect x="76.9" y="401.3" width="5.9" height="4.2" fill="#ffa4a4"/>
<rect x="82.5" y="401.3" width="5.9" height="4.2" fill="#ff8a8a"/>
<rect x="88.2" y="401.3" width="5.9" height="4.2" fill="#ff7979"/>
<rect x="93.8" y="401.3" width="5.9" height="4.2" fill="#ff6f6f"/>
<rect x="99.4" y="401.3" width="5.9" height="4.2" fill="#ff6969"/>
<rect x="105.1" y="401.3" width="5.9" height="4.2" fill="#ff6565"/>
<rect x="110.7" y="401.3" width="5.9" height="4.2" fill="#ff6262"/>
<rect x="116.3" y="401.3" width="5.9" height="4.2" fill="#ff6161"/>
<rect x="122.0" y="401.3" width="5.9" height="4.2" fill="#ff5f5f"/>
<rect x="127.6" y="401.3" width="5.9" height="4.2" fill="#ff5e5e"/>
<rect x="133.2" y="401.3" width="5.9" height="4.2" fill="#ff6060"/>
<rect x="138.9" y="401.3" width="5.9" height="4.2" fill="#ff6262"/>
<rect x="144.5" y="401.3" width="5.9" height="4.2" fill="#ff6464"/>
<rect x="150.1" y="401.3" width="5.9" height="4.2" fill="#ff6666"/>
<rect x="155.8" y="401.3" width="5.9" height="4.2" fill="#ff6969"/>
<rect x="161.4" y="401.3" width="5.9" height="4.2" fill="#ff6d6d"/>
<rect x="167.0" y="401.3" width="5.9" height="4.2" fill="#ff7171"/>
<rect x="172.7" y="401.3" width="5.9" height="4.2" fill="#ff7474"/>
<rect x="178.3" y="401.3" width="5.9" height="4.2" fill="#ff7878"/>
<rect x="183.9" y="401.3" width="5.9" height="4.2" fill="#ff7c7c"/>
<rect x="189.5" y="401.3" width="5.9" height="4.2" fill="#ff8181"/>
<rect x="195.2" y="401.3" width="5.9" height="4.2" fill="#ff8686"/>
<rect x="200.8" y="401.3" width="5.9" height="4.2" fill="#ff8b8b"/>
<rect x="206.4" y="401.3" width="5.9" height="4.2" fill="#ff9090"/>
<rect x="212.1" y="401.3" width="5.9" height="4.2" fill="#ff9595"/>
<rect x="217.7" y="401.3" width="5.9" height="4.2" fill="#ff9a9a"/>
<rect x="223.3" y="401.3" width="5.9" height="4.2" fill="#ff9e9e"/>
<rect x="229.0" y="401.3" width="5.9" height="4.2" fill="#ffa2a2"/>
<rect x="234.6" y="401.3" width="5.9" height="4.2" fill="#ffa5a5"/>
<rect x="240.2" y="401.3" width="5.9" height="4.2" fill="#ffa9a9"/>
<rect x="245.9" y="401.3" width="5.9" height="4.2" fill="#ffacac"/>
<rect x="251.5" y="401.3" width="5.9" height="4.2" fill="#ffafaf"/>
<rect x="257.1" y="401.3" width="5.9" height="4.2" fill="#ffb3b3"/>
<rect x="262.8" y="401.3" width="5.9" height="4.2" fill="#ffb5b5"/>
<rect x="268.4" y="401.3" width="5.9" height="4.2" fill="#ffb6b6"/>
<rect x="274.0" y="401.3" width="5.9" height="4.2" fill="#ffb8b8"/>
<rect x="279.7" y="401.3" width="5.9" height="4.2" fill="#ffb9b9"/>
<rect x="285.3" y="401.3" width="5.9" height="4.2" fill="#ffbaba"/>
<rect x="54.4" y="405.2" width="5.9" height="4.2" fill="#fffafa"/>
<rect x="60.0" y="405.2" width="5.9" height="4.2" fill="#fff1f1"/>
<rect x="65.6" y="405.2" width="5.9" height="4.2" fill="#ffdfdf"/>
<rect x="71.3" y="405.2" width="5.9" height="4.2" fill="#ffc0c0"/>
<rect x="76.9" y="405.2" width="5.9" height="4.2" fill="#ff9f9f"/>
<rect x="82.5" y="405.2" width="5.9" height="4.2" fill="#ff8585"/>
<rect x="88.2" y="405.2" width="5.9" height="4.2" fill="#ff7575"/>
<rect x="93.8" y="405.2" width="5.9" height="4.2" fill="#ff6b6b"/>
<rect x="99.4" y="405.2" width="5.9" height="4.2" fill="#ff6565"/>
<rect x="105.1" y="405.2" width="5.9" height="4.2" fill="#ff6060"/>
<rect x="110.7" y="405.2" width="5.9" height="4.2" fill="#ff5e5e"/>
<rect x="116.3" y="405.2" width="5.9" height="4.2" fill="#ff5c5c"/>
<rect x="122.0" y="405.2" width="5.9" height="4.2" fill="#ff5b5b"/>
<rect x="127.6" y="405.2" width="5.9" height="4.2" fill="#ff5959"/>
<rect x="133.2" y="405.2" width="5.9" height="4.2" fill="#ff5c5c"/>
<rect x="138.9" y="405.2" width="5.9" height="4.2" fill="#ff5e5e"/>
<rect x="144.5" y="405.2" width="5.9" height="4.2" fill="#ff6060"/>
<rect x="150.1" y="405.2" width="5.9" height="4.2" fill="#ff6262"/>
<rect x="155.8" y="405.2" width="5.9" height="4.2" fill="#ff6565"/>
<rect x="161.4" y="405.2" width="5.9" height="4.2" fill="#ff6969"/>
<rect x="167.0" y="405.2" width="5.9" height="4.2" fill="#ff6d6d"/>
<rect x="172.7" y="405.2" width="5.9" height="4.2" fill="#ff7171"/>
<rect x="178.3" y="405.2" width="5.9" height="4.2" fill="#ff7575"/>
<rect x="183.9" y="405.2" width="5.9" height="4.2" fill="#ff7979"/>
<rect x="189.5" y="405.2" width="5.9" height="4.2" fill="#ff7e7e"/>
<rect x="195.2" y="405.2" width="5.9" height="4.2" fill="#ff8383"/>
<rect x="200.8" y="405.2" width="5.9" height="4.2" fill="#ff8888"/>
<rect x="206.4" y="405.2" width="5.9" height="4.2" fill="#ff8e8e"/>
<rect x="212.1" y="405.2" width="5.9" height="4.2" fill="#ff9393"/>
<rect x="217.7" y="405.2" width="5.9" height="4.2" fill="#ff9898"/>
<rect x="223.3" y="405.2" width="5.9" height="4.2" fill="#ff9c9c"/>
<rect x="229.0" y="405.2" width="5.9" height="4.2" fill="#ffa0a0"/>
<rect x="234.6" y="405.2" width="5.9" height="4.2" fill="#ffa4a4"/>
<rect x="240.2" y="405.2" width="5.9" height="4.2" fill="#ffa7a7"/>
<rect x="245.9" y="405.2" width="5.9" height="4.2" fill="#ffabab"/>
<rect x="251.5" y="405.2" width="5.9" height="4.2" fill="#ffaeae"/>
<rect x="257.1" y="405.2" width="5.9" height="4.2" fill="#ffb2b2"/>
<rect x="262.8" y="405.2" width="5.9" height="4.2" fill="#ffb4b4"/>
<rect x="268.4" y="405.2" width="5.9" height="4.2" fill="#ffb5b5"/>
<rect x="274.0" y="405.2" width="5.9" height="4.2" fill="#ffb7b7"/>
<rect x="279.7" y="405.2" width="11.6" height="4.2" fill="#ffb9b9"/>
<rect x="54.4" y="409.1" width="5.9" height="4.2" fill="#fff9f9"/>
<rect x="60.0" y="409.1" width="5.9" height="4.2" fill="#fff0f0"/>
<rect x="65.6" y="409.1" width="5.9" height="4.2" fill="#ffdbdb"/>
<rect x="71.3" y="409.1" width="5.9" height="4.2" fill="#ffbcbc"/>
<rect x="76.9" y="409.1" width="5.9" height="4.2" fill="#ff9a9a"/>
<rect x="82.5" y="409.1" width="5.9" height="4.2" fill="#ff8080"/>
<rect x="88.2" y="409.1" width="5.9" height="4.2" fill="#ff7070"/>
<rect x="93.8" y="409.1" width="5.9" height="4.2" fill="#ff6767"/>
<rect x="99.4" y="409.1" width="5.9" height="4.2" fill="#ff6161"/>
<rect x="105.1" y="409.1" width="5.9" height="4.2" fill="#ff5c5c"/>
<rect x="110.7" y="409.1" width="5.9" height="4.2" fill="#ff5959"/>
<rect x="116.3" y="409.1" width="5.9" height="4.2" fill="#ff5858"/>
<rect x="122.0" y="409.1" width="5.9" height="4.2" fill="#ff5656"/>
<rect x="127.6" y="409.1" width="5.9" height="4.2" fill="#ff5555"/>
<rect x="133.2" y="409.1" width="5.9" height="4.2" fill="#ff5757"/>
<rect x="138.9" y="409.1" width="5.9" height="4.2" fill="#ff5959"/>
<rect x="144.5" y="409.1" width="5.9" height="4.2" fill="#ff5c5c"/>
<rect x="150.1" y="409.1" width="5.9" height="4.2" fill="#ff5e5e"/>
<rect x="155.8" y="409.1" width="5.9" height="4.2" fill="#ff6161"/>
<rect x="161.4" y="409.1" width="5.9" height="4.2" fill="#ff6565"/>
<rect x="167.0" y="409.1" width="5.9" height="4.2" fill="#ff6969"/>
<rect x="172.7" y="409.1" width="5.9" height="4.2" fill="#ff6d6d"/>
<rect x="178.3" y="409.1" width="5.9" height="4.2" fill="#ff7272"/>
<rect x="183.9" y="409.1" width="5.9" height="4.2" fill="#ff7676"/>
<rect x="189.5" y="409.1" width="5.9" height="4.2" fill="#ff7b7b"/>
<rect x="195.2" y="409.1" width="5.9" height="4.2" fill="#ff8080"/>
<rect x="200.8" y="409.1" width="5.9" height="4.2" fill="#ff8686"/>
<rect x="206.4" y="409.1" width="5.9" height="4.2" fill="#ff8b8b"/>
<rect x="212.1" y="409.1" width="5.9" height="4.2" fill="#ff9191"/>
<rect x="217.7" y="409.1" width="5.9" height="4.2" fill="#ff9696"/>
<rect x="223.3" y="409.1" width="5.9" height="4.2" fill="#ff9a9a"/>
<rect x="229.0" y="409.1" width="5.9" height="4.2" fill="#ff9e9e"/>
<rect x="234.6" y="409.1" width="5.9" height="4.2" fill="#ffa2a2"/>
<rect x="240.2" y="409.1" width="5.9" height="4.2" fill="#ffa6a6"/>
<rect x="245.9" y="409.1" width="5.9" height="4.2" fill="#ffaaaa"/>
<rect x="251.5" y="409.1" width="5.9" height="4.2" fill="#ffadad"/>
<rect x="257.1" y="409.1" width="5.9" height="4.2" fill="#ffb1b1"/>
<rect x="262.8" y="409.1" width="5.9" height="4.2" fill="#ffb3b3"/>
<rect x="268.4" y="409.1" width="5.9" height="4.2" fill="#ffb5b5"/>
<rect x="274.0" y="409.1" width="5.9" height="4.2" fill="#ffb6b6"/>
<rect x="279.7" y="409.1" width="5.9" height="4.2" fill="#ffb8b8"/>
<rect x="285.3" y="409.1" width="5.9" height="4.2" fill="#ffb9b9"/>
<rect x="54.4" y="413.0" width="5.9" height="4.2" fill="#fff8f8"/>
<rect x="60.0" y="413.0" width="5.9" height="4.2" fill="#ffeeee"/>
<rect x="65.6" y="413.0" width="5.9" height="4.2" fill="#ffd8d8"/>
<rect x="71.3" y="413.0" width="5.9" height="4.2" fill="#ffb7b7"/>
<rect x="76.9" y="413.0" width="5.9" height="4.2" fill="#ff9595"/>
<rect x="82.5" y="413.0" width="5.9" height="4.2" fill="#ff7c7c"/>
<rect x="88.2" y="413.0" width="5.9" height="4.2" fill="#ff6c6c"/>
<rect x="93.8" y="413.0" width="5.9" height="4.2" fill="#ff6262"/>
<rect x="99.4" y="413.0" width="5.9" height="4.2" fill="#ff5c5c"/>
<rect x="105.1" y="413.0" width="5.9" height="4.2" fill="#ff5757"/>
<rect x="110.7" y="413.0" width="5.9" height="4.2" fill="#ff5555"/>
<rect x="116.3" y="413.0" width="5.9" height="4.2" fill="#ff5353"/>
<rect x="122.0" y="413.0" width="5.9" height="4.2" fill="#ff5252"/>
<rect x="127.6" y="413.0" width="5.9" height="4.2" fill="#ff5151"/>
<rect x="133.2" y="413.0" width="5.9" height="4.2" fill="#ff5353"/>
<rect x="138.9" y="413.0" width="5.9" height="4.2" fill="#ff5555"/>
<rect x="144.5" y="413.0" width="5.9" height="4.2" fill="#ff5858"/>
<rect x="150.1" y="413.0" width="5.9" height="4.2" fill="#ff5a5a"/>
<rect x="155.8" y="413.0" width="5.9" height="4.2" fill="#ff5d5d"/>
<rect x="161.4" y="413.0" width="5.9" height="4.2" fill="#ff6161"/>
<rect x="167.0" y="413.0" width="5.9" height="4.2" fill="#ff6565"/>
<rect x="172.7" y="413.0" width="5.9" height="4.2" fill="#ff6a6a"/>
<rect x="178.3" y="413.0" width="5.9" height="4.2" fill="#ff6e6e"/>
<rect x="183.9" y="413.0" width="5.9" height="4.2" fill="#ff7272"/>
<rect x="189.5" y="413.0" width="5.9" height="4.2" fill="#ff7878"/>
<rect x="195.2" y="413.0" width="5.9" height="4.2" fill="#ff7d7d"/>
<rect x="200.8" y="413.0" width="5.9" height="4.2" fill="#ff8383"/>
<rect x="206.4" y="413.0" width="5.9" height="4.2" fill="#ff8888"/>
<rect x="212.1" y="413.0" width="5.9" height="4.2" fill="#ff8e8e"/>
<rect x="217.7" y="413.0" width="5.9" height="4.2" fill="#ff9393"/>
<rect x="223.3" y="413.0" width="5.9" height="4.2" fill="#ff9898"/>
<rect x="229.0" y="413.0" width="5.9" height="4.2" fill="#ff9c9c"/>
<rect x="234.6" y="413.0" width="5.9" height="4.2" fill="#ffa0a0"/>
<rect x="240.2" y="413.0" width="5.9" height="4.2" fill="#ffa4a4"/>
<rect x="245.9" y="413.0" width="5.9" height="4.2" fill="#ffa7a7"/>
<rect x="251.5" y="413.0" width="5.9" height="4.2" fill="#ffabab"/>
<rect x="257.1" y="413.0" width="5.9" height="4.2" fill="#ffafaf"/>
<rect x="262.8" y="413.0" width="5.9" height="4.2" fill="#ffb1b1"/>
<rect x="268.4" y="413.0" width="5.9" height="4.2" fill="#ffb3b3"/>
<rect x="274.0" y="413.0" width="5.9" height="4.2" fill="#ffb4b4"/>
<rect x="279.7" y="413.0" width="5.9" height="4.2" fill="#ffb6b6"/>
<rect x="285.3" y="413.0" width="5.9" height="4.2" fill="#ffb7b7"/>
<rect x="54.4" y="416.9" width="5.9" height="4.2" fill="#fff7f7"/>
<rect x="60.0" y="416.9" width="5.9" height="4.2" fill="#ffecec"/>
<rect x="65.6" y="416.9" width="5.9" height="4.2" fill="#ffd4d4"/>
<rect x="71.3" y="416.9" width="5.9" height="4.2" fill="#ffb2b2"/>
<rect x="76.9" y="416.9" width="5.9" height="4.2" fill="#ff9090"/>
<rect x="82.5" y="416.9" width="5.9" height="4.2" fill="#ff7777"/>
<rect x="88.2" y="416.9" width="5.9" height="4.2" fill="#ff6868"/>
<rect x="93.8" y="416.9" width="5.9" height="4.2" fill="#ff5e5e"/>
<rect x="99.4" y="416.9" width="5.9" height="4.2" fill="#ff5858"/>
<rect x="105.1" y="416.9" width="5.9" height="4.2" fill="#ff5353"/>
<rect x="110.7" y="416.9" width="5.9" height="4.2" fill="#ff5151"/>
<rect x="116.3" y="416.9" width="5.9" height="4.2" fill="#ff4f4f"/>
<rect x="122.0" y="416.9" width="5.9" height="4.2" fill="#ff4e4e"/>
<rect x="127.6" y="416.9" width="5.9" height="4.2" fill="#ff4d4d"/>
<rect x="133.2" y="416.9" width="5.9" height="4.2" fill="#ff4f4f"/>
<rect x="138.9" y="416.9" width="5.9" height="4.2" fill="#ff5151"/>
<rect x="144.5" y="416.9" width="5.9" height="4.2" fill="#ff5454"/>
<rect x="150.1" y="416.9" width="5.9" height="4.2" fill="#ff5656"/>
<rect x="155.8" y="416.9" width="5.9" height="4.2" fill="#ff5959"/>
<rect x="161.4" y="416.9" width="5.9" height="4.2" fill="#ff5d5d"/>
<rect x="167.0" y="416.9" width="5.9" height="4.2" fill="#ff6262"/>
<rect x="172.7" y="416.9" width="5.9" height="4.2" fill="#ff6666"/>
<rect x="178.3" y="416.9" width="5.9" height="4.2" fill="#ff6b6b"/>
<rect x="183.9" y="416.9" width="5.9" height="4.2" fill="#ff6f6f"/>
<rect x="189.5" y="416.9" width="5.9" height="4.2" fill="#ff7474"/>
<rect x="195.2" y="416.9" width="5.9" height="4.2" fill="#ff7a7a"/>
<rect x="200.8" y="416.9" width="5.9" height="4.2" fill="#ff8080"/>
<rect x="206.4" y="416.9" width="5.9" height="4.2" fill="#ff8585"/>
<rect x="212.1" y="416.9" width="5.9" height="4.2" fill="#ff8b8b"/>
<rect x="217.7" y="416.9" width="5.9" height="4.2" fill="#ff9191"/>
<rect x="223.3" y="416.9" width="5.9" height="4.2" fill="#ff9595"/>
<rect x="229.0" y="416.9" width="5.9" height="4.2" fill="#ff9999"/>
<rect x="234.6" y="416.9" width="5.9" height="4.2" fill="#ff9d9d"/>
<rect x="240.2" y="416.9" width="5.9" height="4.2" fill="#ffa1a1"/>
<rect x="245.9" y="416.9" width="5.9" height="4.2" fill="#ffa5a5"/>
<rect x="251.5" y="416.9" width="5.9" height="4.2" fill="#ffa9a9"/>
<rect x="257.1" y="416.9" width="5.9" height="4.2" fill="#ffacac"/>
<rect x="262.8" y="416.9" width="5.9" height="4.2" fill="#ffafaf"/>
<rect x="268.4" y="416.9" width="5.9" height="4.2" fill="#ffb1b1"/>
<rect x="274.0" y="416.9" width="5.9" height="4.2" fill="#ffb2b2"/>
<rect x="279.7" y="416.9" width="5.9" height="4.2" fill="#ffb4b4"/>
<rect x="285.3" y="416.9" width="5.9" height="4.2" fill="#ffb5b5"/>
<rect x="54.4" y="420.8" width="5.9" height="4.2" fill="#fff7f7"/>
<rect x="60.0" y="420.8" width="5.9" height="4.2" fill="#ffeaea"/>
<rect x="65.6" y="420.8" width="5.9" height="4.2" fill="#ffd1d1"/>
<rect x="71.3" y="420.8" width="5.9" height="4.2" fill="#ffadad"/>
<rect x="76.9" y="420.8" width="5.9" height="4.2" fill="#ff8c8c"/>
<rect x="82.5" y="420.8" width="5.9" height="4.2" fill="#ff7474"/>
<rect x="88.2" y="420.8" width="5.9" height="4.2" fill="#ff6565"/>
<rect x="93.8" y="420.8" width="5.9" height="4.2" fill="#ff5c5c"/>
<rect x="99.4" y="420.8" width="5.9" height="4.2" fill="#ff5757"/>
<rect x="105.1" y="420.8" width="5.9" height="4.2" fill="#ff5252"/>
<rect x="110.7" y="420.8" width="5.9" height="4.2" fill="#ff4f4f"/>
<rect x="116.3" y="420.8" width="5.9" height="4.2" fill="#ff4e4e"/>
<rect x="122.0" y="420.8" width="5.9" height="4.2" fill="#ff4d4d"/>
<rect x="127.6" y="420.8" width="5.9" height="4.2" fill="#ff4b4b"/>
<rect x="133.2" y="420.8" width="5.9" height="4.2" fill="#ff4e4e"/>
<rect x="138.9" y="420.8" width="5.9" height="4.2" fill="#ff5050"/>
<rect x="144.5" y="420.8" width="5.9" height="4.2" fill="#ff5353"/>
<rect x="150.1" y="420.8" width="5.9" height="4.2" fill="#ff5555"/>
<rect x="155.8" y="420.8" width="5.9" height="4.2" fill="#ff5858"/>
<rect x="161.4" y="420.8" width="5.9" height="4.2" fill="#ff5c5c"/>
<rect x="167.0" y="420.8" width="5.9" height="4.2" fill="#ff6161"/>
<rect x="172.7" y="420.8" width="5.9" height="4.2" fill="#ff6565"/>
<rect x="178.3" y="420.8" width="5.9" height="4.2" fill="#ff6a6a"/>
<rect x="183.9" y="420.8" width="5.9" height="4.2" fill="#ff6e6e"/>
<rect x="189.5" y="420.8" width="5.9" height="4.2" fill="#ff7373"/>
<rect x="195.2" y="420.8" width="5.9" height="4.2" fill="#ff7979"/>
<rect x="200.8" y="420.8" width="5.9" height="4.2" fill="#ff7f7f"/>
<rect x="206.4" y="420.8" width="5.9" height="4.2" fill="#ff8484"/>
<rect x="212.1" y="420.8" width="5.9" height="4.2" fill="#ff8a8a"/>
<rect x="217.7" y="420.8" width="5.9" height="4.2" fill="#ff8f8f"/>
<rect x="223.3" y="420.8" width="5.9" height="4.2" fill="#ff9494"/>
<rect x="229.0" y="420.8" width="5.9" height="4.2" fill="#ff9898"/>
<rect x="234.6" y="420.8" width="5.9" height="4.2" fill="#ff9c9c"/>
<rect x="240.2" y="420.8" width="5.9" height="4.2" fill="#ffa0a0"/>
<rect x="245.9" y="420.8" width="5.9" height="4.2" fill="#ffa4a4"/>
<rect x="251.5" y="420.8" width="5.9" height="4.2" fill="#ffa8a8"/>
<rect x="257.1" y="420.8" width="5.9" height="4.2" fill="#ffabab"/>
<rect x="262.8" y="420.8" width="5.9" height="4.2" fill="#ffaeae"/>
<rect x="268.4" y="420.8" width="5.9" height="4.2" fill="#ffb0b0"/>
<rect x="274.0" y="420.8" width="5.9" height="4.2" fill="#ffb1b1"/>
<rect x="279.7" y="420.8" width="5.9" height="4.2" fill="#ffb3b3"/>
<rect x="285.3" y="420.8" width="5.9" height="4.2" fill="#ffb4b4"/>
<rect x="54.4" y="424.7" width="5.9" height="4.2" fill="#fff6f6"/>
<rect x="60.0" y="424.7" width="5.9" height="4.2" fill="#ffe8e8"/>
<rect x="65.6" y="424.7" width="5.9" height="4.2" fill="#ffcece"/>
<rect x="71.3" y="424.7" width="5.9" height="4.2" fill="#ffaaaa"/>
<rect x="76.9" y="424.7" width="5.9" height="4.2" fill="#ff8a8a"/>
<rect x="82.5" y="424.7" width="5.9" height="4.2" fill="#ff7272"/>
<rect x="88.2" y="424.7" width="5.9" height="4.2" fill="#ff6464"/>
<rect x="93.8" y="424.7" width="5.9" height="4.2" fill="#ff5c5c"/>
<rect x="99.4" y="424.7" width="5.9" height="4.2" fill="#ff5656"/>
<rect x="105.1" y="424.7" width="5.9" height="4.2" fill="#ff5151"/>
<rect x="110.7" y="424.7" width="5.9" height="4.2" fill="#ff4f4f"/>
<rect x="116.3" y="424.7" width="5.9" height="4.2" fill="#ff4e4e"/>
<rect x="122.0" y="424.7" width="5.9" height="4.2" fill="#ff4c4c"/>
<rect x="127.6" y="424.7" width="5.9" height="4.2" fill="#ff4b4b"/>
<rect x="133.2" y="424.7" width="5.9" height="4.2" fill="#ff4e4e"/>
<rect x="138.9" y="424.7" width="5.9" height="4.2" fill="#ff5050"/>
<rect x="144.5" y="424.7" width="5.9" height="4.2" fill="#ff5353"/>
<rect x="150.1" y="424.7" width="5.9" height="4.2" fill="#ff5555"/>
<rect x="155.8" y="424.7" width="5.9" height="4.2" fill="#ff5858"/>
<rect x="161.4" y="424.7" width="5.9" height="4.2" fill="#ff5d5d"/>
<rect x="167.0" y="424.7" width="5.9" height="4.2" fill="#ff6161"/>
<rect x="172.7" y="424.7" width="5.9" height="4.2" fill="#ff6666"/>
<rect x="178.3" y="424.7" width="5.9" height="4.2" fill="#ff6a6a"/>
<rect x="183.9" y="424.7" width="5.9" height="4.2" fill="#ff6e6e"/>
<rect x="189.5" y="424.7" width="5.9" height="4.2" fill="#ff7373"/>
<rect x="195.2" y="424.7" width="5.9" height="4.2" fill="#ff7979"/>
<rect x="200.8" y="424.7" width="5.9" height="4.2" fill="#ff7f7f"/>
<rect x="206.4" y="424.7" width="5.9" height="4.2" fill="#ff8484"/>
<rect x="212.1" y="424.7" width="5.9" height="4.2" fill="#ff8a8a"/>
<rect x="217.7" y="424.7" width="5.9" height="4.2" fill="#ff8f8f"/>
<rect x="223.3" y="424.7" width="5.9" height="4.2" fill="#ff9393"/>
<rect x="229.0" y="424.7" width="5.9" height="4.2" fill="#ff9898"/>
<rect x="234.6" y="424.7" width="5.9" height="4.2" fill="#ff9c9c"/>
<rect x="240.2" y="424.7" width="5.9" height="4.2" fill="#ffa0a0"/>
<rect x="245.9" y="424.7" width="5.9" height="4.2" fill="#ffa3a3"/>
<rect x="251.5" y="424.7" width="5.9" height="4.2" fill="#ffa7a7"/>
<rect x="257.1" y="424.7" width="5.9" height="4.2" fill="#ffabab"/>
<rect x="262.8" y="424.7" width="5.9" height="4.2" fill="#ffadad"/>
<rect x="268.4" y="424.7" width="5.9" height="4.2" fill="#ffafaf"/>
<rect x="274.0" y="424.7" width="5.9" height="4.2" fill="#ffb1b1"/>
<rect x="279.7" y="424.7" width="5.9" height="4.2" fill="#ffb2b2"/>
<rect x="285.3" y="424.7" width="5.9" height="4.2" fill="#ffb3b3"/>
<rect x="54.4" y="428.6" width="5.9" height="4.2" fill="#fff5f5"/>
<rect x="60.0" y="428.6" width="5.9" height="4.2" fill="#ffe7e7"/>
<rect x="65.6" y="428.6" width="5.9" height="4.2" fill="#ffcccc"/>
<rect x="71.3" y="428.6" width="5.9" height="4.2" fill="#ffa7a7"/>
<rect x="76.9" y="428.6" width="5.9" height="4.2" fill="#ff8888"/>
<rect x="82.5" y="428.6" width="5.9" height="4.2" fill="#ff7171"/>
<rect x="88.2" y="428.6" width="5.9" height="4.2" fill="#ff6464"/>
<rect x="93.8" y="428.6" width="5.9" height="4.2" fill="#ff5b5b"/>
<rect x="99.4" y="428.6" width="5.9" height="4.2" fill="#ff5656"/>
<rect x="105.1" y="428.6" width="5.9" height="4.2" fill="#ff5151"/>
<rect x="110.7" y="428.6" width="5.9" height="4.2" fill="#ff4f4f"/>
<rect x="116.3" y="428.6" width="5.9" height="4.2" fill="#ff4e4e"/>
<rect x="122.0" y="428.6" width="5.9" height="4.2" fill="#ff4d4d"/>
<rect x="127.6" y="428.6" width="5.9" height="4.2" fill="#ff4c4c"/>
<rect x="133.2" y="428.6" width="5.9" height="4.2" fill="#ff4f4f"/>
<rect x="138.9" y="428.6" width="5.9" height="4.2" fill="#ff5151"/>
<rect x="144.5" y="428.6" width="5.9" height="4.2" fill="#ff5454"/>
<rect x="150.1" y="428.6" width="5.9" height="4.2" fill="#ff5656"/>
<rect x="155.8" y="428.6" width="5.9" height="4.2" fill="#ff5959"/>
<rect x="161.4" y="428.6" width="5.9" height="4.2" fill="#ff5e5e"/>
<rect x="167.0" y="428.6" width="5.9" height="4.2" fill="#ff6262"/>
<rect x="172.7" y="428.6" width="5.9" height="4.2" fill="#ff6767"/>
<rect x="178.3" y="428.6" width="5.9" height="4.2" fill="#ff6b6b"/>
<rect x="183.9" y="428.6" width="5.9" height="4.2" fill="#ff6f6f"/>
<rect x="189.5" y="428.6" width="5.9" height="4.2" fill="#ff7474"/>
<rect x="195.2" y="428.6" width="5.9" height="4.2" fill="#ff7979"/>
<rect x="200.8" y="428.6" width="5.9" height="4.2" fill="#ff7f7f"/>
<rect x="206.4" y="428.6" width="5.9" height="4.2" fill="#ff8484"/>
<rect x="212.1" y="428.6" width="5.9" height="4.2" fill="#ff8a8a"/>
<rect x="217.7" y="428.6" width="5.9" height="4.2" fill="#ff8f8f"/>
<rect x="223.3" y="428.6" width="5.9" height="4.2" fill="#ff9393"/>
<rect x="229.0" y="428.6" width="5.9" height="4.2" fill="#ff9797"/>
<rect x="234.6" y="428.6" width="5.9" height="4.2" fill="#ff9b9b"/>
<rect x="240.2" y="428.6" width="5.9" height="4.2" fill="#ff9f9f"/>
<rect x="245.9" y="428.6" width="5.9" height="4.2" fill="#ffa3a3"/>
<rect x="251.5" y="428.6" width="5.9" height="4.2" fill="#ffa7a7"/>
<rect x="257.1" y="428.6" width="5.9" height="4.2" fill="#ffaaaa"/>
<rect x="262.8" y="428.6" width="5.9" height="4.2" fill="#ffadad"/>
<rect x="268.4" y="428.6" width="5.9" height="4.2" fill="#ffaeae"/>
<rect x="274.0" y="428.6" width="5.9" height="4.2" fill="#ffb0b0"/>
<rect x="279.7" y="428.6" width="5.9" height="4.2" fill="#ffb2b2"/>
<rect x="285.3" y="428.6" width="5.9" height="4.2" fill="#ffb3b3"/>
<rect x="54.4" y="432.5" width="5.9" height="4.2" fill="#fff5f5"/>
<rect x="60.0" y="432.5" width="5.9" height="4.2" fill="#ffe7e7"/>
<rect x="65.6" y="432.5" width="5.9" height="4.2" fill="#ffcbcb"/>
<rect x="71.3" y="432.5" width="5.9" height="4.2" fill="#ffa7a7"/>
<rect x="76.9" y="432.5" width="5.9" height="4.2" fill="#ff8787"/>
<rect x="82.5" y="432.5" width="5.9" height="4.2" fill="#ff7171"/>
<rect x="88.2" y="432.5" width="5.9" height="4.2" fill="#ff6464"/>
<rect x="93.8" y="432.5" width="5.9" height="4.2" fill="#ff5b5b"/>
<rect x="99.4" y="432.5" width="5.9" height="4.2" fill="#ff5656"/>
<rect x="105.1" y="432.5" width="5.9" height="4.2" fill="#ff5252"/>
<rect x="110.7" y="432.5" width="5.9" height="4.2" fill="#ff5050"/>
<rect x="116.3" y="432.5" width="5.9" height="4.2" fill="#ff4f4f"/>
<rect x="122.0" y="432.5" width="5.9" height="4.2" fill="#ff4e4e"/>
<rect x="127.6" y="432.5" width="5.9" height="4.2" fill="#ff4d4d"/>
<rect x="133.2" y="432.5" width="5.9" height="4.2" fill="#ff5050"/>
<rect x="138.9" y="432.5" width="5.9" height="4.2" fill="#ff5353"/>
<rect x="144.5" y="432.5" width="5.9" height="4.2" fill="#ff5656"/>
<rect x="150.1" y="432.5" width="5.9" height="4.2" fill="#ff5858"/>
<rect x="155.8" y="432.5" width="5.9" height="4.2" fill="#ff5b5b"/>
<rect x="161.4" y="432.5" width="5.9" height="4.2" fill="#ff6060"/>
<rect x="167.0" y="432.5" width="5.9" height="4.2" fill="#ff6464"/>
<rect x="172.7" y="432.5" width="5.9" height="4.2" fill="#ff6868"/>
<rect x="178.3" y="432.5" width="5.9" height="4.2" fill="#ff6c6c"/>
<rect x="183.9" y="432.5" width="5.9" height="4.2" fill="#ff7070"/>
<rect x="189.5" y="432.5" width="5.9" height="4.2" fill="#ff7575"/>
<rect x="195.2" y="432.5" width="5.9" height="4.2" fill="#ff7a7a"/>
<rect x="200.8" y="432.5" width="5.9" height="4.2" fill="#ff8080"/>
<rect x="206.4" y="432.5" width="5.9" height="4.2" fill="#ff8585"/>
<rect x="212.1" y="432.5" width="5.9" height="4.2" fill="#ff8a8a"/>
<rect x="217.7" y="432.5" width="5.9" height="4.2" fill="#ff8f8f"/>
<rect x="223.3" y="432.5" width="5.9" height="4.2" fill="#ff9393"/>
<rect x="229.0" y="432.5" width="5.9" height="4.2" fill="#ff9797"/>
<rect x="234.6" y="432.5" width="5.9" height="4.2" fill="#ff9b9b"/>
<rect x="240.2" y="432.5" width="5.9" height="4.2" fill="#ff9f9f"/>
<rect x="245.9" y="432.5" width="5.9" height="4.2" fill="#ffa2a2"/>
<rect x="251.5" y="432.5" width="5.9" height="4.2" fill="#ffa6a6"/>
<rect x="257.1" y="432.5" width="5.9" height="4.2" fill="#ffaaaa"/>
<rect x="262.8" y="432.5" width="5.9" height="4.2" fill="#ffacac"/>
<rect x="268.4" y="432.5" width="5.9" height="4.2" fill="#ffaeae"/>
<rect x="274.0" y="432.5" width="5.9" height="4.2" fill="#ffafaf"/>
<rect x="279.7" y="432.5" width="5.9" height="4.2" fill="#ffb1b1"/>
<rect x="285.3" y="432.5" width="5.9" height="4.2" fill="#ffb2b2"/>
<rect x="54.4" y="436.4" width="5.9" height="4.2" fill="#fff5f5"/>
<rect x="60.0" y="436.4" width="5.9" height="4.2" fill="#ffe6e6"/>
<rect x="65.6" y="436.4" width="5.9" height="4.2" fill="#ffcbcb"/>
<rect x="71.3" y="436.4" width="5.9" height="4.2" fill="#ffa6a6"/>
<rect x="76.9" y="436.4" width="5.9" height="4.2" fill="#ff8787"/>
<rect x="82.5" y="436.4" width="5.9" height="4.2" fill="#ff7171"/>
<rect x="88.2" y="436.4" width="5.9" height="4.2" fill="#ff6464"/>
<rect x="93.8" y="436.4" width="5.9" height="4.2" fill="#ff5c5c"/>
<rect x="99.4" y="436.4" width="5.9" height="4.2" fill="#ff5757"/>
<rect x="105.1" y="436.4" width="5.9" height="4.2" fill="#ff5353"/>
<rect x="110.7" y="436.4" width="11.6" height="4.2" fill="#ff5151"/>
<rect x="122.0" y="436.4" width="11.6" height="4.2" fill="#ff5050"/>
<rect x="133.2" y="436.4" width="5.9" height="4.2" fill="#ff5353"/>
<rect x="138.9" y="436.4" width="5.9" height="4.2" fill="#ff5656"/>
<rect x="144.5" y="436.4" width="5.9" height="4.2" fill="#ff5959"/>
<rect x="150.1" y="436.4" width="5.9" height="4.2" fill="#ff5c5c"/>
<rect x="155.8" y="436.4" width="5.9" height="4.2" fill="#ff5f5f"/>
<rect x="161.4" y="436.4" width="5.9" height="4.2" fill="#ff6464"/>
<rect x="167.0" y="436.4" width="5.9" height="4.2" fill="#ff6868"/>
<rect x="172.7" y="436.4" width="5.9" height="4.2" fill="#ff6d6d"/>
<rect x="178.3" y="436.4" width="5.9" height="4.2" fill="#ff7171"/>
<rect x="183.9" y="436.4" width="5.9" height="4.2" fill="#ff7474"/>
<rect x="189.5" y="436.4" width="5.9" height="4.2" fill="#ff7979"/>
<rect x="195.2" y="436.4" width="5.9" height="4.2" fill="#ff7e7e"/>
<rect x="200.8" y="436.4" width="5.9" height="4.2" fill="#ff8383"/>
<rect x="206.4" y="436.4" width="5.9" height="4.2" fill="#ff8888"/>
<rect x="212.1" y="436.4" width="5.9" height="4.2" fill="#ff8c8c"/>
<rect x="217.7" y="436.4" width="5.9" height="4.2" fill="#ff9191"/>
<rect x="223.3" y="436.4" width="5.9" height="4.2" fill="#ff9595"/>
<rect x="229.0" y="436.4" width="5.9" height="4.2" fill="#ff9898"/>
<rect x="234.6" y="436.4" width="5.9" height="4.2" fill="#ff9c9c"/>
<rect x="240.2" y="436.4" width="5.9" height="4.2" fill="#ff9f9f"/>
<rect x="245.9" y="436.4" width="5.9" height="4.2" fill="#ffa2a2"/>
<rect x="251.5" y="436.4" width="5.9" height="4.2" fill="#ffa6a6"/>
<rect x="257.1" y="436.4" width="5.9" height="4.2" fill="#ffa9a9"/>
<rect x="262.8" y="436.4" width="5.9" height="4.2" fill="#ffacac"/>
<rect x="268.4" y="436.4" width="5.9" height="4.2" fill="#ffadad"/>
<rect x="274.0" y="436.4" width="5.9" height="4.2" fill="#ffafaf"/>
<rect x="279.7" y="436.4" width="11.6" height="4.2" fill="#ffb1b1"/>
<rect x="54.4" y="440.3" width="5.9" height="4.2" fill="#fff5f5"/>
<rect x="60.0" y="440.3" width="5.9" height="4.2" fill="#ffe7e7"/>
<rect x="65.6" y="440.3" width="5.9" height="4.2" fill="#ffcbcb"/>
<rect x="71.3" y="440.3" width="5.9" height="4.2" fill="#ffa8a8"/>
<rect x="76.9" y="440.3" width="5.9" height="4.2" fill="#ff8a8a"/>
<rect x="82.5" y="440.3" width="5.9" height="4.2" fill="#ff7575"/>
<rect x="88.2" y="440.3" width="5.9" height="4.2" fill="#ff6868"/>
<rect x="93.8" y="440.3" width="5.9" height="4.2" fill="#ff6161"/>
<rect x="99.4" y="440.3" width="5.9" height="4.2" fill="#ff5d5d"/>
<rect x="105.1" y="440.3" width="5.9" height="4.2" fill="#ff5959"/>
<rect x="110.7" y="440.3" width="22.8" height="4.2" fill="#ff5858"/>
<rect x="133.2" y="440.3" width="5.9" height="4.2" fill="#ff5c5c"/>
<rect x="138.9" y="440.3" width="5.9" height="4.2" fill="#ff6060"/>
<rect x="144.5" y="440.3" width="5.9" height="4.2" fill="#ff6464"/>
<rect x="150.1" y="440.3" width="5.9" height="4.2" fill="#ff6868"/>
<rect x="155.8" y="440.3" width="5.9" height="4.2" fill="#ff6b6b"/>
<rect x="161.4" y="440.3" width="5.9" height="4.2" fill="#ff7070"/>
<rect x="167.0" y="440.3" width="5.9" height="4.2" fill="#ff7575"/>
<rect x="172.7" y="440.3" width="5.9" height="4.2" fill="#ff7979"/>
<rect x="178.3" y="440.3" width="5.9" height="4.2" fill="#ff7d7d"/>
<rect x="183.9" y="440.3" width="5.9" height="4.2" fill="#ff8181"/>
<rect x="189.5" y="440.3" width="5.9" height="4.2" fill="#ff8686"/>
<rect x="195.2" y="440.3" width="5.9" height="4.2" fill="#ff8b8b"/>
<rect x="200.8" y="440.3" width="5.9" height="4.2" fill="#ff9090"/>
<rect x="206.4" y="440.3" width="5.9" height="4.2" fill="#ff9393"/>
<rect x="212.1" y="440.3" width="5.9" height="4.2" fill="#ff9797"/>
<rect x="217.7" y="440.3" width="5.9" height="4.2" fill="#ff9b9b"/>
<rect x="223.3" y="440.3" width="5.9" height="4.2" fill="#ff9d9d"/>
<rect x="229.0" y="440.3" width="5.9" height="4.2" fill="#ff9f9f"/>
<rect x="234.6" y="440.3" width="5.9" height="4.2" fill="#ffa2a2"/>
<rect x="240.2" y="440.3" width="5.9" height="4.2" fill="#ffa4a4"/>
<rect x="245.9" y="440.3" width="5.9" height="4.2" fill="#ffa6a6"/>
<rect x="251.5" y="440.3" width="5.9" height="4.2" fill="#ffa9a9"/>
<rect x="257.1" y="440.3" width="5.9" height="4.2" fill="#ffabab"/>
<rect x="262.8" y="440.3" width="5.9" height="4.2" fill="#ffadad"/>
<rect x="268.4" y="440.3" width="5.9" height="4.2" fill="#ffaeae"/>
<rect x="274.0" y="440.3" width="5.9" height="4.2" fill="#ffb0b0"/>
<rect x="279.7" y="440.3" width="11.6" height="4.2" fill="#ffb2b2"/>
<rect x="54.4" y="444.2" width="5.9" height="4.2" fill="#fff5f5"/>
<rect x="60.0" y="444.2" width="5.9" height="4.2" fill="#ffe7e7"/>
<rect x="65.6" y="444.2" width="5.9" height="4.2" fill="#ffcdcd"/>
<rect x="71.3" y="444.2" width="5.9" height="4.2" fill="#ffabab"/>
<rect x="76.9" y="444.2" width="5.9" height="4.2" fill="#ff8e8e"/>
<rect x="82.5" y="444.2" width="5.9" height="4.2" fill="#ff7a7a"/>
<rect x="88.2" y="444.2" width="5.9" height="4.2" fill="#ff6f6f"/>
<rect x="93.8" y="444.2" width="5.9" height="4.2" fill="#ff6868"/>
<rect x="99.4" y="444.2" width="5.9" height="4.2" fill="#ff6464"/>
<rect x="105.1" y="444.2" width="17.2" height="4.2" fill="#ff6161"/>
<rect x="122.0" y="444.2" width="5.9" height="4.2" fill="#ff6262"/>
<rect x="127.6" y="444.2" width="5.9" height="4.2" fill="#ff6363"/>
<rect x="133.2" y="444.2" width="5.9" height="4.2" fill="#ff6868"/>
<rect x="138.9" y="444.2" width="5.9" height="4.2" fill="#ff6c6c"/>
<rect x="144.5" y="444.2" width="5.9" height="4.2" fill="#ff7171"/>
<rect x="150.1" y="444.2" width="5.9" height="4.2" fill="#ff7676"/>
<rect x="155.8" y="444.2" width="5.9" height="4.2" fill="#ff7a7a"/>
<rect x="161.4" y="444.2" width="5.9" height="4.2" fill="#ff7f7f"/>
<rect x="167.0" y="444.2" width="5.9" height="4.2" fill="#ff8484"/>
<rect x="172.7" y="444.2" width="5.9" height="4.2" fill="#ff8888"/>
<rect x="178.3" y="444.2" width="5.9" height="4.2" fill="#ff8c8c"/>
<rect x="183.9" y="444.2" width="5.9" height="4.2" fill="#ff9090"/>
<rect x="189.5" y="444.2" width="5.9" height="4.2" fill="#ff9494"/>
<rect x="195.2" y="444.2" width="5.9" height="4.2" fill="#ff9999"/>
<rect x="200.8" y="444.2" width="5.9" height="4.2" fill="#ff9d9d"/>
<rect x="206.4" y="444.2" width="5.9" height="4.2" fill="#ffa0a0"/>
<rect x="212.1" y="444.2" width="5.9" height="4.2" fill="#ffa2a2"/>
<rect x="217.7" y="444.2" width="5.9" height="4.2" fill="#ffa5a5"/>
<rect x="223.3" y="444.2" width="5.9" height="4.2" fill="#ffa6a6"/>
<rect x="229.0" y="444.2" width="5.9" height="4.2" fill="#ffa7a7"/>
<rect x="234.6" y="444.2" width="5.9" height="4.2" fill="#ffa8a8"/>
<rect x="240.2" y="444.2" width="5.9" height="4.2" fill="#ffa9a9"/>
<rect x="245.9" y="444.2" width="5.9" height="4.2" fill="#ffabab"/>
<rect x="251.5" y="444.2" width="5.9" height="4.2" fill="#ffacac"/>
<rect x="257.1" y="444.2" width="5.9" height="4.2" fill="#ffadad"/>
<rect x="262.8" y="444.2" width="5.9" height="4.2" fill="#ffafaf"/>
<rect x="268.4" y="444.2" width="5.9" height="4.2" fill="#ffb0b0"/>
<rect x="274.0" y="444.2" width="5.9" height="4.2" fill="#ffb2b2"/>
<rect x="279.7" y="444.2" width="5.9" height="4.2" fill="#ffb3b3"/>
<rect x="285.3" y="444.2" width="5.9" height="4.2" fill="#ffb4b4"/>
<rect x="54.4" y="448.1" width="5.9" height="4.2" fill="#fff5f5"/>
<rect x="60.0" y="448.1" width="5.9" height="4.2" fill="#ffe8e8"/>
<rect x="65.6" y="448.1" width="5.9" height="4.2" fill="#ffcece"/>
<rect x="71.3" y="448.1" width="5.9" height="4.2" fill="#ffaeae"/>
<rect x="76.9" y="448.1" width="5.9" height="4.2" fill="#ff9393"/>
<rect x="82.5" y="448.1" width="5.9" height="4.2" fill="#ff8181"/>
<rect x="88.2" y="448.1" width="5.9" height="4.2" fill="#ff7676"/>
<rect x="93.8" y="448.1" width="5.9" height="4.2" fill="#ff7070"/>
<rect x="99.4" y="448.1" width="5.9" height="4.2" fill="#ff6d6d"/>
<rect x="105.1" y="448.1" width="11.6" height="4.2" fill="#ff6b6b"/>
<rect x="116.3" y="448.1" width="5.9" height="4.2" fill="#ff6d6d"/>
<rect x="122.0" y="448.1" width="5.9" height="4.2" fill="#ff6e6e"/>
<rect x="127.6" y="448.1" width="5.9" height="4.2" fill="#ff7070"/>
<rect x="133.2" y="448.1" width="5.9" height="4.2" fill="#ff7676"/>
<rect x="138.9" y="448.1" width="5.9" height="4.2" fill="#ff7b7b"/>
<rect x="144.5" y="448.1" width="5.9" height="4.2" fill="#ff8181"/>
<rect x="150.1" y="448.1" width="5.9" height="4.2" fill="#ff8686"/>
<rect x="155.8" y="448.1" width="5.9" height="4.2" fill="#ff8b8b"/>
<rect x="161.4" y="448.1" width="5.9" height="4.2" fill="#ff9090"/>
<rect x="167.0" y="448.1" width="5.9" height="4.2" fill="#ff9494"/>
<rect x="172.7" y="448.1" width="5.9" height="4.2" fill="#ff9999"/>
<rect x="178.3" y="448.1" width="5.9" height="4.2" fill="#ff9c9c"/>
<rect x="183.9" y="448.1" width="5.9" height="4.2" fill="#ff9f9f"/>
<rect x="189.5" y="448.1" width="5.9" height="4.2" fill="#ffa3a3"/>
<rect x="195.2" y="448.1" width="5.9" height="4.2" fill="#ffa7a7"/>
<rect x="200.8" y="448.1" width="5.9" height="4.2" fill="#ffabab"/>
<rect x="206.4" y="448.1" width="5.9" height="4.2" fill="#ffacac"/>
<rect x="212.1" y="448.1" width="5.9" height="4.2" fill="#ffaeae"/>
<rect x="217.7" y="448.1" width="39.7" height="4.2" fill="#ffafaf"/>
<rect x="257.1" y="448.1" width="5.9" height="4.2" fill="#ffb0b0"/>
<rect x="262.8" y="448.1" width="5.9" height="4.2" fill="#ffb1b1"/>
<rect x="268.4" y="448.1" width="5.9" height="4.2" fill="#ffb2b2"/>
<rect x="274.0" y="448.1" width="5.9" height="4.2" fill="#ffb3b3"/>
<rect x="279.7" y="448.1" width="5.9" height="4.2" fill="#ffb5b5"/>
<rect x="285.3" y="448.1" width="5.9" height="4.2" fill="#ffb6b6"/>
<rect x="54.4" y="452.0" width="5.9" height="4.2" fill="#fff6f6"/>
<rect x="60.0" y="452.0" width="5.9" height="4.2" fill="#ffe9e9"/>
<rect x="65.6" y="452.0" width="5.9" height="4.2" fill="#ffd0d0"/>
<rect x="71.3" y="452.0" width="5.9" height="4.2" fill="#ffb2b2"/>
<rect x="76.9" y="452.0" width="5.9" height="4.2" fill="#ff9999"/>
<rect x="82.5" y="452.0" width="5.9" height="4.2" fill="#ff8888"/>
<rect x="88.2" y="452.0" width="5.9" height="4.2" fill="#ff7f7f"/>
<rect x="93.8" y="452.0" width="5.9" height="4.2" fill="#ff7a7a"/>
<rect x="99.4" y="452.0" width="5.9" height="4.2" fill="#ff7878"/>
<rect x="105.1" y="452.0" width="5.9" height="4.2" fill="#ff7777"/>
<rect x="110.7" y="452.0" width="5.9" height="4.2" fill="#ff7979"/>
<rect x="116.3" y="452.0" width="5.9" height="4.2" fill="#ff7b7b"/>
<rect x="122.0" y="452.0" width="5.9" height="4.2" fill="#ff7d7d"/>
<rect x="127.6" y="452.0" width="5.9" height="4.2" fill="#ff8080"/>
<rect x="133.2" y="452.0" width="5.9" height="4.2" fill="#ff8888"/>
<rect x="138.9" y="452.0" width="5.9" height="4.2" fill="#ff8e8e"/>
<rect x="144.5" y="452.0" width="5.9" height="4.2" fill="#ff9494"/>
<rect x="150.1" y="452.0" width="5.9" height="4.2" fill="#ff9a9a"/>
<rect x="155.8" y="452.0" width="5.9" height="4.2" fill="#ff9f9f"/>
<rect x="161.4" y="452.0" width="5.9" height="4.2" fill="#ffa3a3"/>
<rect x="167.0" y="452.0" width="5.9" height="4.2" fill="#ffa8a8"/>
<rect x="172.7" y="452.0" width="5.9" height="4.2" fill="#ffacac"/>
<rect x="178.3" y="452.0" width="5.9" height="4.2" fill="#ffaeae"/>
<rect x="183.9" y="452.0" width="5.9" height="4.2" fill="#ffb0b0"/>
<rect x="189.5" y="452.0" width="5.9" height="4.2" fill="#ffb3b3"/>
<rect x="195.2" y="452.0" width="5.9" height="4.2" fill="#ffb6b6"/>
<rect x="200.8" y="452.0" width="22.8" height="4.2" fill="#ffb9b9"/>
<rect x="223.3" y="452.0" width="5.9" height="4.2" fill="#ffb8b8"/>
<rect x="229.0" y="452.0" width="5.9" height="4.2" fill="#ffb6b6"/>
<rect x="234.6" y="452.0" width="5.9" height="4.2" fill="#ffb5b5"/>
<rect x="240.2" y="452.0" width="5.9" height="4.2" fill="#ffb4b4"/>
<rect x="245.9" y="452.0" width="11.6" height="4.2" fill="#ffb3b3"/>
<rect x="257.1" y="452.0" width="5.9" height="4.2" fill="#ffb2b2"/>
<rect x="262.8" y="452.0" width="5.9" height="4.2" fill="#ffb3b3"/>
<rect x="268.4" y="452.0" width="5.9" height="4.2" fill="#ffb4b4"/>
<rect x="274.0" y="452.0" width="5.9" height="4.2" fill="#ffb5b5"/>
<rect x="279.7" y="452.0" width="11.6" height="4.2" fill="#ffb7b7"/>
<rect x="54.4" y="455.9" width="5.9" height="4.2" fill="#fff6f6"/>
<rect x="60.0" y="455.9" width="5.9" height="4.2" fill="#ffeaea"/>
<rect x="65.6" y="455.9" width="5.9" height="4.2" fill="#ffd3d3"/>
<rect x="71.3" y="455.9" width="5.9" height="4.2" fill="#ffb7b7"/>
<rect x="76.9" y="455.9" width="5.9" height="4.2" fill="#ffa1a1"/>
<rect x="82.5" y="455.9" width="5.9" height="4.2" fill="#ff9292"/>
<rect x="88.2" y="455.9" width="5.9" height="4.2" fill="#ff8b8b"/>
<rect x="93.8" y="455.9" width="5.9" height="4.2" fill="#ff8787"/>
<rect x="99.4" y="455.9" width="5.9" height="4.2" fill="#ff8686"/>
<rect x="105.1" y="455.9" width="5.9" height="4.2" fill="#ff8787"/>
<rect x="110.7" y="455.9" width="5.9" height="4.2" fill="#ff8a8a"/>
<rect x="116.3" y="455.9" width="5.9" height="4.2" fill="#ff8e8e"/>
<rect x="122.0" y="455.9" width="5.9" height="4.2" fill="#ff9191"/>
<rect x="127.6" y="455.9" width="5.9" height="4.2" fill="#ff9696"/>
<rect x="133.2" y="455.9" width="5.9" height="4.2" fill="#ff9e9e"/>
<rect x="138.9" y="455.9" width="5.9" height="4.2" fill="#ffa5a5"/>
<rect x="144.5" y="455.9" width="5.9" height="4.2" fill="#ffabab"/>
<rect x="150.1" y="455.9" width="5.9" height="4.2" fill="#ffb2b2"/>
<rect x="155.8" y="455.9" width="5.9" height="4.2" fill="#ffb6b6"/>
<rect x="161.4" y="455.9" width="5.9" height="4.2" fill="#ffb9b9"/>
<rect x="167.0" y="455.9" width="5.9" height="4.2" fill="#ffbdbd"/>
<rect x="172.7" y="455.9" width="5.9" height="4.2" fill="#ffbfbf"/>
<rect x="178.3" y="455.9" width="11.6" height="4.2" fill="#ffc0c0"/>
<rect x="189.5" y="455.9" width="5.9" height="4.2" fill="#ffc1c1"/>
<rect x="195.2" y="455.9" width="11.6" height="4.2" fill="#ffc3c3"/>
<rect x="206.4" y="455.9" width="5.9" height="4.2" fill="#ffc2c2"/>
<rect x="212.1" y="455.9" width="11.6" height="4.2" fill="#ffc1c1"/>
<rect x="223.3" y="455.9" width="5.9" height="4.2" fill="#ffbebe"/>
<rect x="229.0" y="455.9" width="5.9" height="4.2" fill="#ffbcbc"/>
<rect x="234.6" y="455.9" width="5.9" height="4.2" fill="#ffbaba"/>
<rect x="240.2" y="455.9" width="5.9" height="4.2" fill="#ffb8b8"/>
<rect x="245.9" y="455.9" width="5.9" height="4.2" fill="#ffb7b7"/>
<rect x="251.5" y="455.9" width="5.9" height="4.2" fill="#ffb6b6"/>
<rect x="257.1" y="455.9" width="11.6" height="4.2" fill="#ffb5b5"/>
<rect x="268.4" y="455.9" width="5.9" height="4.2" fill="#ffb7b7"/>
<rect x="274.0" y="455.9" width="5.9" height="4.2" fill="#ffb8b8"/>
<rect x="279.7" y="455.9" width="5.9" height="4.2" fill="#ffb9b9"/>
<rect x="285.3" y="455.9" width="5.9" height="4.2" fill="#ffbaba"/>
<rect x="54.4" y="459.8" width="5.9" height="4.2" fill="#fff7f7"/>
<rect x="60.0" y="459.8" width="5.9" height="4.2" fill="#ffecec"/>
<rect x="65.6" y="459.8" width="5.9" height="4.2" fill="#ffd7d7"/>
<rect x="71.3" y="459.8" width="5.9" height="4.2" fill="#ffbebe"/>
<rect x="76.9" y="459.8" width="5.9" height="4.2" fill="#ffabab"/>
<rect x="82.5" y="459.8" width="5.9" height="4.2" fill="#ff9e9e"/>
<rect x="88.2" y="459.8" width="5.9" height="4.2" fill="#ff9999"/>
<rect x="93.8" y="459.8" width="11.6" height="4.2" fill="#ff9797"/>
<rect x="105.1" y="459.8" width="5.9" height="4.2" fill="#ff9a9a"/>
<rect x="110.7" y="459.8" width="5.9" height="4.2" fill="#ff9f9f"/>
<rect x="116.3" y="459.8" width="5.9" height="4.2" fill="#ffa5a5"/>
<rect x="122.0" y="459.8" width="5.9" height="4.2" fill="#ffaaaa"/>
<rect x="127.6" y="459.8" width="5.9" height="4.2" fill="#ffb0b0"/>
<rect x="133.2" y="459.8" width="5.9" height="4.2" fill="#ffbaba"/>
<rect x="138.9" y="459.8" width="5.9" height="4.2" fill="#ffc2c2"/>
<rect x="144.5" y="459.8" width="5.9" height="4.2" fill="#ffc8c8"/>
<rect x="150.1" y="459.8" width="5.9" height="4.2" fill="#ffcfcf"/>
<rect x="155.8" y="459.8" width="5.9" height="4.2" fill="#ffd3d3"/>
<rect x="161.4" y="459.8" width="5.9" height="4.2" fill="#ffd5d5"/>
<rect x="167.0" y="459.8" width="5.9" height="4.2" fill="#ffd6d6"/>
<rect x="172.7" y="459.8" width="5.9" height="4.2" fill="#ffd7d7"/>
<rect x="178.3" y="459.8" width="5.9" height="4.2" fill="#ffd4d4"/>
<rect x="183.9" y="459.8" width="5.9" height="4.2" fill="#ffd2d2"/>
<rect x="189.5" y="459.8" width="5.9" height="4.2" fill="#ffd1d1"/>
<rect x="195.2" y="459.8" width="5.9" height="4.2" fill="#ffd0d0"/>
<rect x="200.8" y="459.8" width="5.9" height="4.2" fill="#ffcdcd"/>
<rect x="206.4" y="459.8" width="5.9" height="4.2" fill="#ffcbcb"/>
<rect x="212.1" y="459.8" width="5.9" height="4.2" fill="#ffc8c8"/>
<rect x="217.7" y="459.8" width="5.9" height="4.2" fill="#ffc7c7"/>
<rect x="223.3" y="459.8" width="5.9" height="4.2" fill="#ffc3c3"/>
<rect x="229.0" y="459.8" width="5.9" height="4.2" fill="#ffc0c0"/>
<rect x="234.6" y="459.8" width="5.9" height="4.2" fill="#ffbebe"/>
<rect x="240.2" y="459.8" width="5.9" height="4.2" fill="#ffbcbc"/>
<rect x="245.9" y="459.8" width="5.9" height="4.2" fill="#ffbaba"/>
<rect x="251.5" y="459.8" width="5.9" height="4.2" fill="#ffb9b9"/>
<rect x="257.1" y="459.8" width="11.6" height="4.2" fill="#ffb8b8"/>
<rect x="268.4" y="459.8" width="5.9" height="4.2" fill="#ffb9b9"/>
<rect x="274.0" y="459.8" width="5.9" height="4.2" fill="#ffbaba"/>
<rect x="279.7" y="459.8" width="5.9" height="4.2" fill="#ffbbbb"/>
<rect x="285.3" y="459.8" width="5.9" height="4.2" fill="#ffbcbc"/>
<rect x="54.4" y="463.7" width="5.9" height="4.2" fill="#fff8f8"/>
<rect x="60.0" y="463.7" width="5.9" height="4.2" fill="#ffeded"/>
<rect x="65.6" y="463.7" width="5.9" height="4.2" fill="#ffdbdb"/>
<rect x="71.3" y="463.7" width="5.9" height="4.2" fill="#ffc6c6"/>
<rect x="76.9" y="463.7" width="5.9" height="4.2" fill="#ffb6b6"/>
<rect x="82.5" y="463.7" width="5.9" height="4.2" fill="#ffacac"/>
<rect x="88.2" y="463.7" width="11.6" height="4.2" fill="#ffa9a9"/>
<rect x="99.4" y="463.7" width="5.9" height="4.2" fill="#ffacac"/>
<rect x="105.1" y="463.7" width="5.9" height="4.2" fill="#ffb1b1"/>
<rect x="110.7" y="463.7" width="5.9" height="4.2" fill="#ffb8b8"/>
<rect x="116.3" y="463.7" width="5.9" height="4.2" fill="#ffc0c0"/>
<rect x="122.0" y="463.7" width="5.9" height="4.2" fill="#ffc9c9"/>
<rect x="127.6" y="463.7" width="5.9" height="4.2" fill="#ffd2d2"/>
<rect x="133.2" y="463.7" width="5.9" height="4.2" fill="#ffdddd"/>
<rect x="138.9" y="463.7" width="5.9" height="4.2" fill="#ffe6e6"/>
<rect x="144.5" y="463.7" width="5.9" height="4.2" fill="#ffeded"/>
<rect x="150.1" y="463.7" width="5.9" height="4.2" fill="#fff4f4"/>
<rect x="155.8" y="463.7" width="11.6" height="4.2" fill="#fff8f8"/>
<rect x="167.0" y="463.7" width="5.9" height="4.2" fill="#fff7f7"/>
<rect x="172.7" y="463.7" width="5.9" height="4.2" fill="#fff5f5"/>
<rect x="178.3" y="463.7" width="5.9" height="4.2" fill="#ffeeee"/>
<rect x="183.9" y="463.7" width="5.9" height="4.2" fill="#ffe9e9"/>
<rect x="189.5" y="463.7" width="5.9" height="4.2" fill="#ffe5e5"/>
<rect x="195.2" y="463.7" width="5.9" height="4.2" fill="#ffdede"/>
<rect x="200.8" y="463.7" width="5.9" height="4.2" fill="#ffd9d9"/>
<rect x="206.4" y="463.7" width="5.9" height="4.2" fill="#ffd4d4"/>
<rect x="212.1" y="463.7" width="5.9" height="4.2" fill="#ffd0d0"/>
<rect x="217.7" y="463.7" width="5.9" height="4.2" fill="#ffcdcd"/>
<rect x="223.3" y="463.7" width="5.9" height="4.2" fill="#ffc8c8"/>
<rect x="229.0" y="463.7" width="5.9" height="4.2" fill="#ffc4c4"/>
<rect x="234.6" y="463.7" width="5.9" height="4.2" fill="#ffc1c1"/>
<rect x="240.2" y="463.7" width="5.9" height="4.2" fill="#ffbfbf"/>
<rect x="245.9" y="463.7" width="5.9" height="4.2" fill="#ffbdbd"/>
<rect x="251.5" y="463.7" width="5.9" height="4.2" fill="#ffbbbb"/>
<rect x="257.1" y="463.7" width="11.6" height="4.2" fill="#ffbaba"/>
<rect x="268.4" y="463.7" width="5.9" height="4.2" fill="#ffbbbb"/>
<rect x="274.0" y="463.7" width="5.9" height="4.2" fill="#ffbcbc"/>
<rect x="279.7" y="463.7" width="11.6" height="4.2" fill="#ffbdbd"/>
<rect x="54.4" y="467.6" width="5.9" height="4.2" fill="#fff8f8"/>
<rect x="60.0" y="467.6" width="5.9" height="4.2" fill="#fff0f0"/>
<rect x="65.6" y="467.6" width="5.9" height="4.2" fill="#ffe1e1"/>
<rect x="71.3" y="467.6" width="5.9" height="4.2" fill="#ffcfcf"/>
<rect x="76.9" y="467.6" width="5.9" height="4.2" fill="#ffc3c3"/>
<rect x="82.5" y="467.6" width="5.9" height="4.2" fill="#ffbebe"/>
<rect x="88.2" y="467.6" width="5.9" height="4.2" fill="#ffbdbd"/>
<rect x="93.8" y="467.6" width="5.9" height="4.2" fill="#ffc0c0"/>
<rect x="99.4" y="467.6" width="5.9" height="4.2" fill="#ffc6c6"/>
<rect x="105.1" y="467.6" width="5.9" height="4.2" fill="#ffcdcd"/>
<rect x="110.7" y="467.6" width="5.9" height="4.2" fill="#ffd8d8"/>
<rect x="116.3" y="467.6" width="5.9" height="4.2" fill="#ffe4e4"/>
<rect x="122.0" y="467.6" width="5.9" height="4.2" fill="#fff1f1"/>
<rect x="127.6" y="467.6" width="5.9" height="4.2" fill="#fffdfd"/>
<rect x="189.5" y="467.6" width="5.9" height="4.2" fill="#fffdfd"/>
<rect x="195.2" y="467.6" width="5.9" height="4.2" fill="#fff0f0"/>
<rect x="200.8" y="467.6" width="5.9" height="4.2" fill="#ffe7e7"/>
<rect x="206.4" y="467.6" width="5.9" height="4.2" fill="#ffe0e0"/>
<rect x="212.1" y="467.6" width="5.9" height="4.2" fill="#ffd8d8"/>
<rect x="217.7" y="467.6" width="5.9" height="4.2" fill="#ffd2d2"/>
<rect x="223.3" y="467.6" width="5.9" height="4.2" fill="#ffcdcd"/>
<rect x="229.0" y="467.6" width="5.9" height="4.2" fill="#ffc8c8"/>
<rect x="234.6" y="467.6" width="5.9" height="4.2" fill="#ffc4c4"/>
<rect x="240.2" y="467.6" width="5.9" height="4.2" fill="#ffc2c2"/>
<rect x="245.9" y="467.6" width="5.9" height="4.2" fill="#ffbfbf"/>
<rect x="251.5" y="467.6" width="5.9" height="4.2" fill="#ffbdbd"/>
<rect x="257.1" y="467.6" width="5.9" height="4.2" fill="#ffbcbc"/>
<rect x="262.8" y="467.6" width="5.9" height="4.2" fill="#ffbbbb"/>
<rect x="268.4" y="467.6" width="5.9" height="4.2" fill="#ffbcbc"/>
<rect x="274.0" y="467.6" width="5.9" height="4.2" fill="#ffbdbd"/>
<rect x="279.7" y="467.6" width="11.6" height="4.2" fill="#ffbebe"/>
<rect x="54.4" y="471.5" width="5.9" height="4.2" fill="#fff9f9"/>
<rect x="60.0" y="471.5" width="5.9" height="4.2" fill="#fff3f3"/>
<rect x="65.6" y="471.5" width="5.9" height="4.2" fill="#ffe8e8"/>
<rect x="71.3" y="471.5" width="5.9" height="4.2" fill="#ffdcdc"/>
<rect x="76.9" y="471.5" width="5.9" height="4.2" fill="#ffd5d5"/>
<rect x="82.5" y="471.5" width="5.9" height="4.2" fill="#ffd4d4"/>
<rect x="88.2" y="471.5" width="5.9" height="4.2" fill="#ffd8d8"/>
<rect x="93.8" y="471.5" width="5.9" height="4.2" fill="#ffdfdf"/>
<rect x="99.4" y="471.5" width="5.9" height="4.2" fill="#ffe8e8"/>
<rect x="105.1" y="471.5" width="5.9" height="4.2" fill="#fff3f3"/>
<rect x="127.6" y="471.5" width="5.9" height="4.2" fill="#fefeff"/>
<rect x="133.2" y="471.5" width="5.9" height="4.2" fill="#f3f3ff"/>
<rect x="138.9" y="471.5" width="5.9" height="4.2" fill="#e9e9ff"/>
<rect x="144.5" y="471.5" width="5.9" height="4.2" fill="#e5e5ff"/>
<rect x="150.1" y="471.5" width="5.9" height="4.2" fill="#e1e1ff"/>
<rect x="155.8" y="471.5" width="5.9" height="4.2" fill="#e0e0ff"/>
<rect x="161.4" y="471.5" width="5.9" height="4.2" fill="#e2e2ff"/>
<rect x="167.0" y="471.5" width="5.9" height="4.2" fill="#e4e4ff"/>
<rect x="172.7" y="471.5" width="5.9" height="4.2" fill="#e9e9ff"/>
<rect x="178.3" y="471.5" width="5.9" height="4.2" fill="#f1f1ff"/>
<rect x="183.9" y="471.5" width="5.9" height="4.2" fill="#f7f7ff"/>
<rect x="200.8" y="471.5" width="5.9" height="4.2" fill="#fff9f9"/>
<rect x="206.4" y="471.5" width="5.9" height="4.2" fill="#ffecec"/>
<rect x="212.1" y="471.5" width="5.9" height="4.2" fill="#ffe1e1"/>
<rect x="217.7" y="471.5" width="5.9" height="4.2" fill="#ffd9d9"/>
<rect x="223.3" y="471.5" width="5.9" height="4.2" fill="#ffd2d2"/>
<rect x="229.0" y="471.5" width="5.9" height="4.2" fill="#ffcdcd"/>
<rect x="234.6" y="471.5" width="5.9" height="4.2" fill="#ffc8c8"/>
<rect x="240.2" y="471.5" width="5.9" height="4.2" fill="#ffc4c4"/>
<rect x="245.9" y="471.5" width="5.9" height="4.2" fill="#ffc1c1"/>
<rect x="251.5" y="471.5" width="5.9" height="4.2" fill="#ffbfbf"/>
<rect x="257.1" y="471.5" width="17.2" height="4.2" fill="#ffbdbd"/>
<rect x="274.0" y="471.5" width="5.9" height="4.2" fill="#ffbebe"/>
<rect x="279.7" y="471.5" width="11.6" height="4.2" fill="#ffbfbf"/>
<rect x="54.4" y="475.4" width="5.9" height="4.2" fill="#fffbfb"/>
<rect x="60.0" y="475.4" width="5.9" height="4.2" fill="#fff7f7"/>
<rect x="65.6" y="475.4" width="5.9" height="4.2" fill="#fff1f1"/>
<rect x="71.3" y="475.4" width="5.9" height="4.2" fill="#ffeded"/>
<rect x="76.9" y="475.4" width="5.9" height="4.2" fill="#ffeeee"/>
<rect x="82.5" y="475.4" width="5.9" height="4.2" fill="#fff3f3"/>
<rect x="88.2" y="475.4" width="5.9" height="4.2" fill="#fffcfc"/>
<rect x="110.7" y="475.4" width="5.9" height="4.2" fill="#fafaff"/>
<rect x="116.3" y="475.4" width="5.9" height="4.2" fill="#ebebff"/>
<rect x="122.0" y="475.4" width="5.9" height="4.2" fill="#dedeff"/>
<rect x="127.6" y="475.4" width="5.9" height="4.2" fill="#d3d3ff"/>
<rect x="133.2" y="475.4" width="5.9" height="4.2" fill="#cacaff"/>
<rect x="138.9" y="475.4" width="5.9" height="4.2" fill="#c2c2ff"/>
<rect x="144.5" y="475.4" width="5.9" height="4.2" fill="#c0c0ff"/>
<rect x="150.1" y="475.4" width="11.6" height="4.2" fill="#bebeff"/>
<rect x="161.4" y="475.4" width="5.9" height="4.2" fill="#c3c3ff"/>
<rect x="167.0" y="475.4" width="5.9" height="4.2" fill="#c7c7ff"/>
<rect x="172.7" y="475.4" width="5.9" height="4.2" fill="#ceceff"/>
<rect x="178.3" y="475.4" width="5.9" height="4.2" fill="#d7d7ff"/>
<rect x="183.9" y="475.4" width="5.9" height="4.2" fill="#dfdfff"/>
<rect x="189.5" y="475.4" width="5.9" height="4.2" fill="#ebebff"/>
<rect x="195.2" y="475.4" width="5.9" height="4.2" fill="#f9f9ff"/>
<rect x="206.4" y="475.4" width="5.9" height="4.2" fill="#fff9f9"/>
<rect x="212.1" y="475.4" width="5.9" height="4.2" fill="#ffebeb"/>
<rect x="217.7" y="475.4" width="5.9" height="4.2" fill="#ffe1e1"/>
<rect x="223.3" y="475.4" width="5.9" height="4.2" fill="#ffd9d9"/>
<rect x="229.0" y="475.4" width="5.9" height="4.2" fill="#ffd1d1"/>
<rect x="234.6" y="475.4" width="5.9" height="4.2" fill="#ffcccc"/>
<rect x="240.2" y="475.4" width="5.9" height="4.2" fill="#ffc7c7"/>
<rect x="245.9" y="475.4" width="5.9" height="4.2" fill="#ffc3c3"/>
<rect x="251.5" y="475.4" width="5.9" height="4.2" fill="#ffc1c1"/>
<rect x="257.1" y="475.4" width="5.9" height="4.2" fill="#ffbfbf"/>
<rect x="262.8" y="475.4" width="11.6" height="4.2" fill="#ffbebe"/>
<rect x="274.0" y="475.4" width="5.9" height="4.2" fill="#ffbfbf"/>
<rect x="279.7" y="475.4" width="11.6" height="4.2" fill="#ffc0c0"/>
<rect x="54.4" y="479.3" width="11.6" height="4.2" fill="#fffdfd"/>
<rect x="65.6" y="479.3" width="5.9" height="4.2" fill="#fffefe"/>
<rect x="93.8" y="479.3" width="5.9" height="4.2" fill="#f6f6ff"/>
<rect x="99.4" y="479.3" width="5.9" height="4.2" fill="#eaeaff"/>
<rect x="105.1" y="479.3" width="5.9" height="4.2" fill="#ddddff"/>
<rect x="110.7" y="479.3" width="5.9" height="4.2" fill="#cfcfff"/>
<rect x="116.3" y="479.3" width="5.9" height="4.2" fill="#bfbfff"/>
<rect x="122.0" y="479.3" width="5.9" height="4.2" fill="#b2b2ff"/>
<rect x="127.6" y="479.3" width="5.9" height="4.2" fill="#a9a9ff"/>
<rect x="133.2" y="479.3" width="5.9" height="4.2" fill="#a1a1ff"/>
<rect x="138.9" y="479.3" width="11.6" height="4.2" fill="#9a9aff"/>
<rect x="150.1" y="479.3" width="5.9" height="4.2" fill="#9b9bff"/>
<rect x="155.8" y="479.3" width="5.9" height="4.2" fill="#9d9dff"/>
<rect x="161.4" y="479.3" width="5.9" height="4.2" fill="#a4a4ff"/>
<rect x="167.0" y="479.3" width="5.9" height="4.2" fill="#a9a9ff"/>
<rect x="172.7" y="479.3" width="5.9" height="4.2" fill="#b2b2ff"/>
<rect x="178.3" y="479.3" width="5.9" height="4.2" fill="#bdbdff"/>
<rect x="183.9" y="479.3" width="5.9" height="4.2" fill="#c7c7ff"/>
<rect x="189.5" y="479.3" width="5.9" height="4.2" fill="#d4d4ff"/>
<rect x="195.2" y="479.3" width="5.9" height="4.2" fill="#e2e2ff"/>
<rect x="200.8" y="479.3" width="5.9" height="4.2" fill="#f8f8ff"/>
<rect x="212.1" y="479.3" width="5.9" height="4.2" fill="#fff8f8"/>
<rect x="217.7" y="479.3" width="5.9" height="4.2" fill="#ffeaea"/>
<rect x="223.3" y="479.3" width="5.9" height="4.2" fill="#ffdfdf"/>
<rect x="229.0" y="479.3" width="5.9" height="4.2" fill="#ffd6d6"/>
<rect x="234.6" y="479.3" width="5.9" height="4.2" fill="#ffcfcf"/>
<rect x="240.2" y="479.3" width="5.9" height="4.2" fill="#ffc9c9"/>
<rect x="245.9" y="479.3" width="5.9" height="4.2" fill="#ffc5c5"/>
<rect x="251.5" y="479.3" width="5.9" height="4.2" fill="#ffc2c2"/>
<rect x="257.1" y="479.3" width="5.9" height="4.2" fill="#ffc0c0"/>
<rect x="262.8" y="479.3" width="11.6" height="4.2" fill="#ffbfbf"/>
<rect x="274.0" y="479.3" width="5.9" height="4.2" fill="#ffc0c0"/>
<rect x="279.7" y="479.3" width="11.6" height="4.2" fill="#ffc1c1"/>
<rect x="65.6" y="483.2" width="5.9" height="4.2" fill="#fefeff"/>
<rect x="71.3" y="483.2" width="5.9" height="4.2" fill="#f9f9ff"/>
<rect x="76.9" y="483.2" width="5.9" height="4.2" fill="#f2f2ff"/>
<rect x="82.5" y="483.2" width="5.9" height="4.2" fill="#e9e9ff"/>
<rect x="88.2" y="483.2" width="5.9" height="4.2" fill="#dfdfff"/>
<rect x="93.8" y="483.2" width="5.9" height="4.2" fill="#d2d2ff"/>
<rect x="99.4" y="483.2" width="5.9" height="4.2" fill="#c3c3ff"/>
<rect x="105.1" y="483.2" width="5.9" height="4.2" fill="#b4b4ff"/>
<rect x="110.7" y="483.2" width="5.9" height="4.2" fill="#a3a3ff"/>
<rect x="116.3" y="483.2" width="5.9" height="4.2" fill="#9292ff"/>
<rect x="122.0" y="483.2" width="5.9" height="4.2" fill="#8787ff"/>
<rect x="127.6" y="483.2" width="5.9" height="4.2" fill="#7f7fff"/>
<rect x="133.2" y="483.2" width="5.9" height="4.2" fill="#7878ff"/>
<rect x="138.9" y="483.2" width="5.9" height="4.2" fill="#7373ff"/>
<rect x="144.5" y="483.2" width="5.9" height="4.2" fill="#7575ff"/>
<rect x="150.1" y="483.2" width="5.9" height="4.2" fill="#7777ff"/>
<rect x="155.8" y="483.2" width="5.9" height="4.2" fill="#7c7cff"/>
<rect x="161.4" y="483.2" width="5.9" height="4.2" fill="#8484ff"/>
<rect x="167.0" y="483.2" width="5.9" height="4.2" fill="#8c8cff"/>
<rect x="172.7" y="483.2" width="5.9" height="4.2" fill="#9696ff"/>
<rect x="178.3" y="483.2" width="5.9" height="4.2" fill="#a3a3ff"/>
<rect x="183.9" y="483.2" width="5.9" height="4.2" fill="#afafff"/>
<rect x="189.5" y="483.2" width="5.9" height="4.2" fill="#bcbcff"/>
<rect x="195.2" y="483.2" width="5.9" height="4.2" fill="#cbcbff"/>
<rect x="200.8" y="483.2" width="5.9" height="4.2" fill="#e1e1ff"/>
<rect x="206.4" y="483.2" width="5.9" height="4.2" fill="#fafaff"/>
<rect x="217.7" y="483.2" width="5.9" height="4.2" fill="#fff1f1"/>
<rect x="223.3" y="483.2" width="5.9" height="4.2" fill="#ffe4e4"/>
<rect x="229.0" y="483.2" width="5.9" height="4.2" fill="#ffd9d9"/>
<rect x="234.6" y="483.2" width="5.9" height="4.2" fill="#ffd1d1"/>
<rect x="240.2" y="483.2" width="5.9" height="4.2" fill="#ffcccc"/>
<rect x="245.9" y="483.2" width="5.9" height="4.2" fill="#ffc7c7"/>
<rect x="251.5" y="483.2" width="5.9" height="4.2" fill="#ffc4c4"/>
<rect x="257.1" y="483.2" width="5.9" height="4.2" fill="#ffc1c1"/>
<rect x="262.8" y="483.2" width="17.2" height="4.2" fill="#ffc0c0"/>
<rect x="279.7" y="483.2" width="11.6" height="4.2" fill="#ffc1c1"/>
<rect x="54.4" y="487.1" width="5.9" height="4.2" fill="#fefeff"/>
<rect x="60.0" y="487.1" width="5.9" height="4.2" fill="#fbfbff"/>
<rect x="65.6" y="487.1" width="5.9" height="4.2" fill="#f1f1ff"/>
<rect x="71.3" y="487.1" width="5.9" height="4.2" fill="#e4e4ff"/>
<rect x="76.9" y="487.1" width="5.9" height="4.2" fill="#d8d8ff"/>
<rect x="82.5" y="487.1" width="5.9" height="4.2" fill="#ccccff"/>
<rect x="88.2" y="487.1" width="5.9" height="4.2" fill="#bebeff"/>
<rect x="93.8" y="487.1" width="5.9" height="4.2" fill="#aeaeff"/>
<rect x="99.4" y="487.1" width="5.9" height="4.2" fill="#9b9bff"/>
<rect x="105.1" y="487.1" width="5.9" height="4.2" fill="#8a8aff"/>
<rect x="110.7" y="487.1" width="5.9" height="4.2" fill="#7777ff"/>
<rect x="116.3" y="487.1" width="5.9" height="4.2" fill="#6565ff"/>
<rect x="122.0" y="487.1" width="5.9" height="4.2" fill="#5b5bff"/>
<rect x="127.6" y="487.1" width="5.9" height="4.2" fill="#5555ff"/>
<rect x="133.2" y="487.1" width="5.9" height="4.2" fill="#5050ff"/>
<rect x="138.9" y="487.1" width="5.9" height="4.2" fill="#4b4bff"/>
<rect x="144.5" y="487.1" width="5.9" height="4.2" fill="#4f4fff"/>
<rect x="150.1" y="487.1" width="5.9" height="4.2" fill="#5454ff"/>
<rect x="155.8" y="487.1" width="5.9" height="4.2" fill="#5b5bff"/>
<rect x="161.4" y="487.1" width="5.9" height="4.2" fill="#6565ff"/>
<rect x="167.0" y="487.1" width="5.9" height="4.2" fill="#6f6fff"/>
<rect x="172.7" y="487.1" width="5.9" height="4.2" fill="#7b7bff"/>
<rect x="178.3" y="487.1" width="5.9" height="4.2" fill="#8989ff"/>
<rect x="183.9" y="487.1" width="5.9" height="4.2" fill="#9696ff"/>
<rect x="189.5" y="487.1" width="5.9" height="4.2" fill="#a5a5ff"/>
<rect x="195.2" y="487.1" width="5.9" height="4.2" fill="#b4b4ff"/>
<rect x="200.8" y="487.1" width="5.9" height="4.2" fill="#cacaff"/>
<rect x="206.4" y="487.1" width="5.9" height="4.2" fill="#e4e4ff"/>
<rect x="217.7" y="487.1" width="5.9" height="4.2" fill="#fff9f9"/>
<rect x="223.3" y="487.1" width="5.9" height="4.2" fill="#ffe9e9"/>
<rect x="229.0" y="487.1" width="5.9" height="4.2" fill="#ffdede"/>
<rect x="234.6" y="487.1" width="5.9" height="4.2" fill="#ffd5d5"/>
<rect x="240.2" y="487.1" width="5.9" height="4.2" fill="#ffcece"/>
<rect x="245.9" y="487.1" width="5.9" height="4.2" fill="#ffc9c9"/>
<rect x="251.5" y="487.1" width="5.9" height="4.2" fill="#ffc5c5"/>
<rect x="257.1" y="487.1" width="5.9" height="4.2" fill="#ffc2c2"/>
<rect x="262.8" y="487.1" width="5.9" height="4.2" fill="#ffc1c1"/>
<rect x="268.4" y="487.1" width="5.9" height="4.2" fill="#ffc0c0"/>
<rect x="274.0" y="487.1" width="17.2" height="4.2" fill="#ffc1c1"/>
<rect x="54.4" y="491.0" width="5.9" height="4.2" fill="#fcfcff"/>
<rect x="60.0" y="491.0" width="5.9" height="4.2" fill="#f5f5ff"/>
<rect x="65.6" y="491.0" width="5.9" height="4.2" fill="#e3e3ff"/>
<rect x="71.3" y="491.0" width="5.9" height="4.2" fill="#ceceff"/>
<rect x="76.9" y="491.0" width="5.9" height="4.2" fill="#bebeff"/>
<rect x="82.5" y="491.0" width="5.9" height="4.2" fill="#afafff"/>
<rect x="88.2" y="491.0" width="5.9" height="4.2" fill="#9e9eff"/>
<rect x="93.8" y="491.0" width="5.9" height="4.2" fill="#8a8aff"/>
<rect x="99.4" y="491.0" width="5.9" height="4.2" fill="#7373ff"/>
<rect x="105.1" y="491.0" width="5.9" height="4.2" fill="#6161ff"/>
<rect x="110.7" y="491.0" width="5.9" height="4.2" fill="#4c4cff"/>
<rect x="116.3" y="491.0" width="5.9" height="4.2" fill="#3838ff"/>
<rect x="122.0" y="491.0" width="5.9" height="4.2" fill="#3030ff"/>
<rect x="127.6" y="491.0" width="5.9" height="4.2" fill="#2b2bff"/>
<rect x="133.2" y="491.0" width="5.9" height="4.2" fill="#2727ff"/>
<rect x="138.9" y="491.0" width="5.9" height="4.2" fill="#2424ff"/>
<rect x="144.5" y="491.0" width="5.9" height="4.2" fill="#2a2aff"/>
<rect x="150.1" y="491.0" width="5.9" height="4.2" fill="#3131ff"/>
<rect x="155.8" y="491.0" width="5.9" height="4.2" fill="#3939ff"/>
<rect x="161.4" y="491.0" width="5.9" height="4.2" fill="#4646ff"/>
<rect x="167.0" y="491.0" width="5.9" height="4.2" fill="#5151ff"/>
<rect x="172.7" y="491.0" width="5.9" height="4.2" fill="#5f5fff"/>
<rect x="178.3" y="491.0" width="5.9" height="4.2" fill="#6f6fff"/>
<rect x="183.9" y="491.0" width="5.9" height="4.2" fill="#7e7eff"/>
<rect x="189.5" y="491.0" width="5.9" height="4.2" fill="#8e8eff"/>
<rect x="195.2" y="491.0" width="5.9" height="4.2" fill="#9d9dff"/>
<rect x="200.8" y="491.0" width="5.9" height="4.2" fill="#b4b4ff"/>
<rect x="206.4" y="491.0" width="5.9" height="4.2" fill="#ceceff"/>
<rect x="212.1" y="491.0" width="5.9" height="4.2" fill="#fcfcff"/>
<rect x="223.3" y="491.0" width="5.9" height="4.2" fill="#fff0f0"/>
<rect x="229.0" y="491.0" width="5.9" height="4.2" fill="#ffe2e2"/>
<rect x="234.6" y="491.0" width="5.9" height="4.2" fill="#ffd8d8"/>
<rect x="240.2" y="491.0" width="5.9" height="4.2" fill="#ffd0d0"/>
<rect x="245.9" y="491.0" width="5.9" height="4.2" fill="#ffcbcb"/>
<rect x="251.5" y="491.0" width="5.9" height="4.2" fill="#ffc6c6"/>
<rect x="257.1" y="491.0" width="5.9" height="4.2" fill="#ffc3c3"/>
<rect x="262.8" y="491.0" width="28.5" height="4.2" fill="#ffc1c1"/>
<rect x="54.4" y="494.9" width="5.9" height="4.2" fill="#fafaff"/>
<rect x="60.0" y="494.9" width="5.9" height="4.2" fill="#eeeeff"/>
<rect x="65.6" y="494.9" width="5.9" height="4.2" fill="#d5d5ff"/>
<rect x="71.3" y="494.9" width="5.9" height="4.2" fill="#b9b9ff"/>
<rect x="76.9" y="494.9" width="5.9" height="4.2" fill="#a4a4ff"/>
<rect x="82.5" y="494.9" width="5.9" height="4.2" fill="#9292ff"/>
<rect x="88.2" y="494.9" width="5.9" height="4.2" fill="#7d7dff"/>
<rect x="93.8" y="494.9" width="5.9" height="4.2" fill="#6666ff"/>
<rect x="99.4" y="494.9" width="5.9" height="4.2" fill="#4c4cff"/>
<rect x="105.1" y="494.9" width="5.9" height="4.2" fill="#3737ff"/>
<rect x="110.7" y="494.9" width="5.9" height="4.2" fill="#2020ff"/>
<rect x="116.3" y="494.9" width="5.9" height="4.2" fill="#0b0bff"/>
<rect x="122.0" y="494.9" width="5.9" height="4.2" fill="#0404ff"/>
<rect x="127.6" y="494.9" width="17.2" height="4.2" fill="#0000ff"/>
<rect x="144.5" y="494.9" width="5.9" height="4.2" fill="#0505ff"/>
<rect x="150.1" y="494.9" width="5.9" height="4.2" fill="#0d0dff"/>
<rect x="155.8" y="494.9" width="5.9" height="4.2" fill="#1818ff"/>
<rect x="161.4" y="494.9" width="5.9" height="4.2" fill="#2727ff"/>
<rect x="167.0" y="494.9" width="5.9" height="4.2" fill="#3434ff"/>
<rect x="172.7" y="494.9" width="5.9" height="4.2" fill="#4343ff"/>
<rect x="178.3" y="494.9" width="5.9" height="4.2" fill="#5555ff"/>
<rect x="183.9" y="494.9" width="5.9" height="4.2" fill="#6666ff"/>
<rect x="189.5" y="494.9" width="5.9" height="4.2" fill="#7676ff"/>
<rect x="195.2" y="494.9" width="5.9" height="4.2" fill="#8686ff"/>
<rect x="200.8" y="494.9" width="5.9" height="4.2" fill="#9d9dff"/>
<rect x="206.4" y="494.9" width="5.9" height="4.2" fill="#b8b8ff"/>
<rect x="212.1" y="494.9" width="5.9" height="4.2" fill="#e7e7ff"/>
<rect x="223.3" y="494.9" width="5.9" height="4.2" fill="#fff6f6"/>
<rect x="229.0" y="494.9" width="5.9" height="4.2" fill="#ffe6e6"/>
<rect x="234.6" y="494.9" width="5.9" height="4.2" fill="#ffdbdb"/>
<rect x="240.2" y="494.9" width="5.9" height="4.2" fill="#ffd2d2"/>
<rect x="245.9" y="494.9" width="5.9" height="4.2" fill="#ffcccc"/>
<rect x="251.5" y="494.9" width="5.9" height="4.2" fill="#ffc7c7"/>
<rect x="257.1" y="494.9" width="5.9" height="4.2" fill="#ffc4c4"/>
<rect x="262.8" y="494.9" width="5.9" height="4.2" fill="#ffc2c2"/>
<rect x="268.4" y="494.9" width="11.6" height="4.2" fill="#ffc1c1"/>
<rect x="279.7" y="494.9" width="11.6" height="4.2" fill="#ffc2c2"/>
<rect x="54.4" y="498.8" width="5.9" height="4.2" fill="#f7f7ff"/>
<rect x="60.0" y="498.8" width="5.9" height="4.2" fill="#e8e8ff"/>
<rect x="65.6" y="498.8" width="5.9" height="4.2" fill="#c7c7ff"/>
<rect x="71.3" y="498.8" width="5.9" height="4.2" fill="#a4a4ff"/>
<rect x="76.9" y="498.8" width="5.9" height="4.2" fill="#8b8bff"/>
<rect x="82.5" y="498.8" width="5.9" height="4.2" fill="#7575ff"/>
<rect x="88.2" y="498.8" width="5.9" height="4.2" fill="#5d5dff"/>
<rect x="93.8" y="498.8" width="5.9" height="4.2" fill="#4141ff"/>
<rect x="99.4" y="498.8" width="5.9" height="4.2" fill="#2424ff"/>
<rect x="105.1" y="498.8" width="5.9" height="4.2" fill="#0e0eff"/>
<rect x="110.7" y="498.8" width="51.0" height="4.2" fill="#0000ff"/>
<rect x="161.4" y="498.8" width="5.9" height="4.2" fill="#0808ff"/>
<rect x="167.0" y="498.8" width="5.9" height="4.2" fill="#1616ff"/>
<rect x="172.7" y="498.8" width="5.9" height="4.2" fill="#2828ff"/>
<rect x="178.3" y="498.8" width="5.9" height="4.2" fill="#3b3bff"/>
<rect x="183.9" y="498.8" width="5.9" height="4.2" fill="#4e4eff"/>
<rect x="189.5" y="498.8" width="5.9" height="4.2" fill="#5f5fff"/>
<rect x="195.2" y="498.8" width="5.9" height="4.2" fill="#6f6fff"/>
<rect x="200.8" y="498.8" width="5.9" height="4.2" fill="#8686ff"/>
<rect x="206.4" y="498.8" width="5.9" height="4.2" fill="#a2a2ff"/>
<rect x="212.1" y="498.8" width="5.9" height="4.2" fill="#d1d1ff"/>
<rect x="223.3" y="498.8" width="5.9" height="4.2" fill="#fffafa"/>
<rect x="229.0" y="498.8" width="5.9" height="4.2" fill="#ffeaea"/>
<rect x="234.6" y="498.8" width="5.9" height="4.2" fill="#ffdede"/>
<rect x="240.2" y="498.8" width="5.9" height="4.2" fill="#ffd5d5"/>
<rect x="245.9" y="498.8" width="5.9" height="4.2" fill="#ffcece"/>
<rect x="251.5" y="498.8" width="5.9" height="4.2" fill="#ffc8c8"/>
<rect x="257.1" y="498.8" width="5.9" height="4.2" fill="#ffc5c5"/>
<rect x="262.8" y="498.8" width="28.5" height="4.2" fill="#ffc2c2"/>
<rect x="54.4" y="502.7" width="5.9" height="4.2" fill="#f5f5ff"/>
<rect x="60.0" y="502.7" width="5.9" height="4.2" fill="#e2e2ff"/>
<rect x="65.6" y="502.7" width="5.9" height="4.2" fill="#babaff"/>
<rect x="71.3" y="502.7" width="5.9" height="4.2" fill="#8e8eff"/>
<rect x="76.9" y="502.7" width="5.9" height="4.2" fill="#7171ff"/>
<rect x="82.5" y="502.7" width="5.9" height="4.2" fill="#5858ff"/>
<rect x="88.2" y="502.7" width="5.9" height="4.2" fill="#3c3cff"/>
<rect x="93.8" y="502.7" width="5.9" height="4.2" fill="#1d1dff"/>
<rect x="99.4" y="502.7" width="73.5" height="4.2" fill="#0000ff"/>
<rect x="172.7" y="502.7" width="5.9" height="4.2" fill="#0c0cff"/>
<rect x="178.3" y="502.7" width="5.9" height="4.2" fill="#2121ff"/>
<rect x="183.9" y="502.7" width="5.9" height="4.2" fill="#3636ff"/>
<rect x="189.5" y="502.7" width="5.9" height="4.2" fill="#4848ff"/>
<rect x="195.2" y="502.7" width="5.9" height="4.2" fill="#5858ff"/>
<rect x="200.8" y="502.7" width="5.9" height="4.2" fill="#7070ff"/>
<rect x="206.4" y="502.7" width="5.9" height="4.2" fill="#8b8bff"/>
<rect x="212.1" y="502.7" width="5.9" height="4.2" fill="#bbbbff"/>
<rect x="217.7" y="502.7" width="5.9" height="4.2" fill="#fafaff"/>
<rect x="229.0" y="502.7" width="5.9" height="4.2" fill="#ffeeee"/>
<rect x="234.6" y="502.7" width="5.9" height="4.2" fill="#ffe1e1"/>
<rect x="240.2" y="502.7" width="5.9" height="4.2" fill="#ffd7d7"/>
<rect x="245.9" y="502.7" width="5.9" height="4.2" fill="#ffcfcf"/>
<rect x="251.5" y="502.7" width="5.9" height="4.2" fill="#ffcaca"/>
<rect x="257.1" y="502.7" width="5.9" height="4.2" fill="#ffc5c5"/>
<rect x="262.8" y="502.7" width="5.9" height="4.2" fill="#ffc3c3"/>
<rect x="268.4" y="502.7" width="22.8" height="4.2" fill="#ffc2c2"/>
</g></g>
<rect x="59.4" y="283.65" width="226.65" height="220.00" fill="none" stroke="#000" stroke-width="1.4"/>
<line x1="48.20" y1="499.90" x2="59.40" y2="499.90" stroke="#000" stroke-width="1.45"/>
<text x="42.60" y="504.90" font-size="14.5" text-anchor="end">2</text>
<line x1="48.20" y1="464.55" x2="59.40" y2="464.55" stroke="#000" stroke-width="1.45"/>
<text x="42.60" y="469.55" font-size="14.5" text-anchor="end">4</text>
<line x1="48.20" y1="429.20" x2="59.40" y2="429.20" stroke="#000" stroke-width="1.45"/>
<text x="42.60" y="434.20" font-size="14.5" text-anchor="end">6</text>
<line x1="48.20" y1="393.85" x2="59.40" y2="393.85" stroke="#000" stroke-width="1.45"/>
<text x="42.60" y="398.85" font-size="14.5" text-anchor="end">8</text>
<line x1="48.20" y1="358.50" x2="59.40" y2="358.50" stroke="#000" stroke-width="1.45"/>
<text x="42.60" y="363.50" font-size="14.5" text-anchor="end">10</text>
<line x1="48.20" y1="323.15" x2="59.40" y2="323.15" stroke="#000" stroke-width="1.45"/>
<text x="42.60" y="328.15" font-size="14.5" text-anchor="end">12</text>
<line x1="48.20" y1="287.80" x2="59.40" y2="287.80" stroke="#000" stroke-width="1.45"/>
<text x="42.60" y="292.80" font-size="14.5" text-anchor="end">14</text>
<line x1="62.90" y1="503.65" x2="62.90" y2="514.60" stroke="#000" stroke-width="1.45"/>
<text x="62.90" y="535.20" font-size="14.5" text-anchor="middle">0</text>
<line x1="94.34" y1="503.65" x2="94.34" y2="509.60" stroke="#000" stroke-width="1.45"/>
<line x1="125.78" y1="503.65" x2="125.78" y2="514.60" stroke="#000" stroke-width="1.45"/>
<text x="125.78" y="535.20" font-size="14.5" text-anchor="middle">4</text>
<line x1="157.22" y1="503.65" x2="157.22" y2="509.60" stroke="#000" stroke-width="1.45"/>
<line x1="188.66" y1="503.65" x2="188.66" y2="514.60" stroke="#000" stroke-width="1.45"/>
<text x="188.66" y="535.20" font-size="14.5" text-anchor="middle">8</text>
<line x1="220.10" y1="503.65" x2="220.10" y2="509.60" stroke="#000" stroke-width="1.45"/>
<line x1="251.54" y1="503.65" x2="251.54" y2="514.60" stroke="#000" stroke-width="1.45"/>
<text x="251.54" y="535.20" font-size="14.5" text-anchor="middle">12</text>
<line x1="282.98" y1="503.65" x2="282.98" y2="509.60" stroke="#000" stroke-width="1.45"/>
<text x="173.10" y="552.60" font-size="18.5" text-anchor="middle">B (T)</text>
<text transform="translate(15.1,393.80) rotate(-90)" x="0" y="0" font-size="18.5" text-anchor="middle">T (K)</text>
<text x="-0.50" y="302.20" font-size="26" text-anchor="start" font-weight="bold">b</text>
<text x="79.02" y="329.70" font-size="18.5">V</text>
<text x="91.32" y="320.50" font-size="12.5">Y</text>
<text x="91.27" y="333.50" font-size="12.5">2ω</text>
<rect x="295.0" y="370.00" width="21.2" height="135.60" fill="url(#cbb)" stroke="#000" stroke-width="1.4"/>
<line x1="316.20" y1="374.85" x2="327.40" y2="374.85" stroke="#000" stroke-width="1.45"/>
<text x="338.00" y="379.85" font-size="14.5" text-anchor="start">300</text>
<line x1="316.20" y1="395.60" x2="327.40" y2="395.60" stroke="#000" stroke-width="1.45"/>
<text x="338.00" y="400.60" font-size="14.5" text-anchor="start">200</text>
<line x1="316.20" y1="416.35" x2="327.40" y2="416.35" stroke="#000" stroke-width="1.45"/>
<text x="338.00" y="421.35" font-size="14.5" text-anchor="start">100</text>
<line x1="316.20" y1="437.10" x2="327.40" y2="437.10" stroke="#000" stroke-width="1.45"/>
<text x="338.00" y="442.10" font-size="14.5" text-anchor="start">0</text>
<line x1="316.20" y1="457.85" x2="327.40" y2="457.85" stroke="#000" stroke-width="1.45"/>
<text x="333.20" y="462.85" font-size="14.5" text-anchor="start">-100</text>
<line x1="316.20" y1="478.60" x2="327.40" y2="478.60" stroke="#000" stroke-width="1.45"/>
<text x="333.20" y="483.60" font-size="14.5" text-anchor="start">-200</text>
<line x1="316.20" y1="499.35" x2="327.40" y2="499.35" stroke="#000" stroke-width="1.45"/>
<text x="333.20" y="504.35" font-size="14.5" text-anchor="start">-300</text>
<text x="298.42" y="351.70" font-size="18.5">V</text>
<text x="310.32" y="342.50" font-size="12.5">Y</text>
<text x="310.17" y="355.80" font-size="12.5">2ω</text>
<text x="329.00" y="351.70" font-size="18.5" text-anchor="start">(nV)</text>
<polyline points="451.27,28.72 461.08,76.79 470.88,94.88 480.68,101.17 490.48,106.68 500.28,110.57 510.09,114.60 519.89,116.51 529.69,110.57 539.49,110.71 549.29,110.36 559.10,109.86 568.90,110.36 578.70,108.10 588.50,109.86 598.30,108.52 608.11,110.78 617.91,108.52 627.71,109.86 637.51,109.65 647.31,109.23 657.12,109.23 666.92,109.23 676.72,111.91" fill="none" stroke="#8000ff" stroke-width="3.1" stroke-linejoin="round" stroke-linecap="butt"/>
<polyline points="451.27,207.90 461.08,96.79 470.88,58.34 480.68,61.31 490.48,73.18 500.28,84.98 510.09,95.52 519.89,100.82 529.69,105.06 539.49,110.85 549.29,107.60 559.10,111.07 568.90,111.07 578.70,111.07 588.50,115.31 598.30,111.49 608.11,114.39 617.91,113.26 627.71,113.75 637.51,111.91 647.31,107.60 657.12,113.75 666.92,110.36 676.72,116.72" fill="none" stroke="#ff0000" stroke-width="3.1" stroke-linejoin="round" stroke-linecap="butt"/>
<line x1="450.8" y1="112.30" x2="676.5" y2="112.30" stroke="#000" stroke-width="1.4" stroke-dasharray="4.6 7.65"/>
<rect x="447.85" y="2.70" width="232.60" height="219.40" fill="none" stroke="#000" stroke-width="1.4"/>
<line x1="436.00" y1="218.50" x2="447.85" y2="218.50" stroke="#000" stroke-width="1.45"/>
<text x="430.30" y="223.50" font-size="14.5" text-anchor="end">-150</text>
<line x1="436.00" y1="183.16" x2="447.85" y2="183.16" stroke="#000" stroke-width="1.45"/>
<text x="430.30" y="188.16" font-size="14.5" text-anchor="end">-100</text>
<line x1="436.00" y1="147.82" x2="447.85" y2="147.82" stroke="#000" stroke-width="1.45"/>
<text x="430.30" y="152.82" font-size="14.5" text-anchor="end">-50</text>
<line x1="436.00" y1="112.48" x2="447.85" y2="112.48" stroke="#000" stroke-width="1.45"/>
<text x="430.30" y="117.48" font-size="14.5" text-anchor="end">0</text>
<line x1="436.00" y1="77.14" x2="447.85" y2="77.14" stroke="#000" stroke-width="1.45"/>
<text x="430.30" y="82.14" font-size="14.5" text-anchor="end">50</text>
<line x1="436.00" y1="41.80" x2="447.85" y2="41.80" stroke="#000" stroke-width="1.45"/>
<text x="430.30" y="46.80" font-size="14.5" text-anchor="end">100</text>
<line x1="436.00" y1="6.46" x2="447.85" y2="6.46" stroke="#000" stroke-width="1.45"/>
<text x="430.30" y="11.46" font-size="14.5" text-anchor="end">150</text>
<line x1="480.68" y1="222.10" x2="480.68" y2="233.60" stroke="#000" stroke-width="1.45"/>
<text x="480.68" y="253.50" font-size="14.5" text-anchor="middle">5</text>
<line x1="529.69" y1="222.10" x2="529.69" y2="233.60" stroke="#000" stroke-width="1.45"/>
<text x="529.69" y="253.50" font-size="14.5" text-anchor="middle">10</text>
<line x1="578.70" y1="222.10" x2="578.70" y2="233.60" stroke="#000" stroke-width="1.45"/>
<text x="578.70" y="253.50" font-size="14.5" text-anchor="middle">15</text>
<line x1="627.71" y1="222.10" x2="627.71" y2="233.60" stroke="#000" stroke-width="1.45"/>
<text x="627.71" y="253.50" font-size="14.5" text-anchor="middle">20</text>
<line x1="676.72" y1="222.10" x2="676.72" y2="233.60" stroke="#000" stroke-width="1.45"/>
<text x="676.72" y="253.50" font-size="14.5" text-anchor="middle">25</text>
<text x="564.30" y="272.00" font-size="18.5" text-anchor="middle">T (K)</text>
<text x="381.00" y="18.60" font-size="26" text-anchor="start" font-weight="bold">c</text>
<g transform="translate(396.2,146.20) rotate(-90)">
<text x="0" y="0" font-size="18.5">V</text>
<text x="12.6" y="-9.3" font-size="12.5">X,Y</text>
<text x="12.0" y="4.5" font-size="12.5">2ω</text>
<text x="33.4" y="0" font-size="18.5">(nV)</text>
</g>
<text x="585.0" y="26.6" font-size="18.5">GGG</text>
<line x1="587.40" y1="169.60" x2="615.60" y2="169.60" stroke="#8000ff" stroke-width="3.1"/>
<line x1="587.40" y1="193.50" x2="615.60" y2="193.50" stroke="#ff0000" stroke-width="3.1"/>
<text x="621.92" y="175.20" font-size="18.5">V</text>
<text x="637.62" y="165.00" font-size="12.5">X</text>
<text x="633.97" y="179.90" font-size="12.5">2ω</text>
<text x="621.92" y="199.20" font-size="18.5">V</text>
<text x="637.02" y="190.30" font-size="12.5">Y</text>
<text x="633.97" y="203.90" font-size="12.5">2ω</text>
<polyline points="451.27,397.23 455.19,396.10 461.08,397.51 466.96,397.79 470.88,398.71 475.68,396.38 479.99,397.79 488.82,395.32 496.07,394.89 510.67,394.61 525.28,394.61 544.39,394.33 549.29,393.83 559.10,394.26 568.90,393.13 578.70,392.49 588.50,393.34 598.30,393.83 608.11,394.26 617.91,394.26 627.71,393.83 637.51,393.83 647.31,393.48 657.12,393.48 666.92,393.27 676.72,393.13" fill="none" stroke="#8000ff" stroke-width="3.1" stroke-linejoin="round" stroke-linecap="butt"/>
<polyline points="451.27,294.10 455.19,294.10 459.02,295.80 462.74,298.76 467.64,303.29 471.86,307.03 476.17,311.28 480.48,314.17 484.80,319.40 490.19,326.40 495.68,332.20 502.24,340.11 510.09,348.67 519.40,356.58 529.40,364.71 538.02,368.74 548.80,375.17 559.49,378.78 568.90,381.18 578.70,383.44 588.50,385.92 598.30,387.05 608.11,388.18 617.91,389.31 627.71,390.65 637.51,391.08 647.31,391.57 657.12,391.78 666.92,392.07 676.72,392.49" fill="none" stroke="#ff0000" stroke-width="3.1" stroke-linejoin="round" stroke-linecap="butt"/>
<line x1="450.8" y1="393.30" x2="676.5" y2="393.30" stroke="#000" stroke-width="1.4" stroke-dasharray="4.6 7.65"/>
<rect x="447.85" y="283.70" width="232.60" height="219.40" fill="none" stroke="#000" stroke-width="1.4"/>
<line x1="436.00" y1="499.50" x2="447.85" y2="499.50" stroke="#000" stroke-width="1.45"/>
<text x="430.30" y="504.50" font-size="14.5" text-anchor="end">-150</text>
<line x1="436.00" y1="464.16" x2="447.85" y2="464.16" stroke="#000" stroke-width="1.45"/>
<text x="430.30" y="469.16" font-size="14.5" text-anchor="end">-100</text>
<line x1="436.00" y1="428.82" x2="447.85" y2="428.82" stroke="#000" stroke-width="1.45"/>
<text x="430.30" y="433.82" font-size="14.5" text-anchor="end">-50</text>
<line x1="436.00" y1="393.48" x2="447.85" y2="393.48" stroke="#000" stroke-width="1.45"/>
<text x="430.30" y="398.48" font-size="14.5" text-anchor="end">0</text>
<line x1="436.00" y1="358.14" x2="447.85" y2="358.14" stroke="#000" stroke-width="1.45"/>
<text x="430.30" y="363.14" font-size="14.5" text-anchor="end">50</text>
<line x1="436.00" y1="322.80" x2="447.85" y2="322.80" stroke="#000" stroke-width="1.45"/>
<text x="430.30" y="327.80" font-size="14.5" text-anchor="end">100</text>
<line x1="436.00" y1="287.46" x2="447.85" y2="287.46" stroke="#000" stroke-width="1.45"/>
<text x="430.30" y="292.46" font-size="14.5" text-anchor="end">150</text>
<line x1="480.68" y1="503.10" x2="480.68" y2="514.60" stroke="#000" stroke-width="1.45"/>
<text x="480.68" y="534.50" font-size="14.5" text-anchor="middle">5</text>
<line x1="529.69" y1="503.10" x2="529.69" y2="514.60" stroke="#000" stroke-width="1.45"/>
<text x="529.69" y="534.50" font-size="14.5" text-anchor="middle">10</text>
<line x1="578.70" y1="503.10" x2="578.70" y2="514.60" stroke="#000" stroke-width="1.45"/>
<text x="578.70" y="534.50" font-size="14.5" text-anchor="middle">15</text>
<line x1="627.71" y1="503.10" x2="627.71" y2="514.60" stroke="#000" stroke-width="1.45"/>
<text x="627.71" y="534.50" font-size="14.5" text-anchor="middle">20</text>
<line x1="676.72" y1="503.10" x2="676.72" y2="514.60" stroke="#000" stroke-width="1.45"/>
<text x="676.72" y="534.50" font-size="14.5" text-anchor="middle">25</text>
<text x="564.30" y="553.00" font-size="18.5" text-anchor="middle">T (K)</text>
<text x="381.50" y="302.40" font-size="26" text-anchor="start" font-weight="bold">d</text>
<g transform="translate(396.2,427.20) rotate(-90)">
<text x="0" y="0" font-size="18.5">V</text>
<text x="12.6" y="-9.3" font-size="12.5">X,Y</text>
<text x="12.0" y="4.5" font-size="12.5">2ω</text>
<text x="33.4" y="0" font-size="18.5">(nV)</text>
</g>
<text x="578.0" y="310.7" font-size="18.5">MnPS<tspan font-size="13" dx="0.4" dy="3.5">3</tspan></text>
<line x1="584.30" y1="446.10" x2="612.50" y2="446.10" stroke="#8000ff" stroke-width="3.1"/>
<line x1="584.30" y1="470.20" x2="612.50" y2="470.20" stroke="#ff0000" stroke-width="3.1"/>
<text x="618.92" y="452.00" font-size="18.5">V</text>
<text x="634.92" y="441.80" font-size="12.5">X</text>
<text x="630.97" y="456.70" font-size="12.5">2ω</text>
<text x="618.92" y="476.50" font-size="18.5">V</text>
<text x="634.02" y="467.60" font-size="12.5">Y</text>
<text x="630.97" y="481.20" font-size="12.5">2ω</text>
<rect x="26.61" y="80" width="7.72" height="3" fill="#fff"/>
<rect x="30.00" y="80" width="1.52" height="2" fill="#000"/>
<rect x="26.61" y="44" width="7.72" height="3" fill="#fff"/>
<rect x="30.00" y="44" width="1.52" height="2" fill="#000"/>
<rect x="26.61" y="9" width="7.72" height="3" fill="#fff"/>
<rect x="30.00" y="9" width="1.52" height="2" fill="#000"/>
<rect x="243.62" y="251" width="7.72" height="3" fill="#fff"/>
<rect x="247.00" y="251" width="1.52" height="2" fill="#000"/>
<rect x="338.14" y="129" width="7.72" height="3" fill="#fff"/>
<rect x="341.53" y="129" width="1.52" height="2" fill="#000"/>
<rect x="338.17" y="189" width="7.72" height="3" fill="#fff"/>
<rect x="341.55" y="189" width="1.52" height="2" fill="#000"/>
<rect x="26.61" y="362" width="7.72" height="3" fill="#fff"/>
<rect x="30.00" y="362" width="1.52" height="2" fill="#000"/>
<rect x="26.61" y="326" width="7.72" height="3" fill="#fff"/>
<rect x="30.00" y="326" width="1.52" height="2" fill="#000"/>
<rect x="26.61" y="291" width="7.72" height="3" fill="#fff"/>
<rect x="30.00" y="291" width="1.52" height="2" fill="#000"/>
<rect x="243.62" y="533" width="7.72" height="3" fill="#fff"/>
<rect x="247.00" y="533" width="1.52" height="2" fill="#000"/>
<rect x="338.14" y="419" width="7.72" height="3" fill="#fff"/>
<rect x="341.53" y="419" width="1.52" height="2" fill="#000"/>
<rect x="338.17" y="461" width="7.72" height="3" fill="#fff"/>
<rect x="341.55" y="461" width="1.52" height="2" fill="#000"/>
<rect x="406.25" y="222" width="7.72" height="3" fill="#fff"/>
<rect x="409.63" y="222" width="1.52" height="2" fill="#000"/>
<rect x="406.25" y="186" width="7.72" height="3" fill="#fff"/>
<rect x="409.63" y="186" width="1.52" height="2" fill="#000"/>
<rect x="406.25" y="45" width="7.72" height="3" fill="#fff"/>
<rect x="409.63" y="45" width="1.52" height="2" fill="#000"/>
<rect x="406.25" y="9" width="7.72" height="3" fill="#fff"/>
<rect x="409.63" y="9" width="1.52" height="2" fill="#000"/>
<rect x="521.77" y="252" width="7.72" height="3" fill="#fff"/>
<rect x="525.15" y="252" width="1.52" height="2" fill="#000"/>
<rect x="570.78" y="252" width="7.72" height="3" fill="#fff"/>
<rect x="574.16" y="252" width="1.52" height="2" fill="#000"/>
<rect x="406.25" y="503" width="7.72" height="3" fill="#fff"/>
<rect x="409.63" y="503" width="1.52" height="2" fill="#000"/>
<rect x="406.25" y="467" width="7.72" height="3" fill="#fff"/>
<rect x="409.63" y="467" width="1.52" height="2" fill="#000"/>
<rect x="406.25" y="326" width="7.72" height="3" fill="#fff"/>
<rect x="409.63" y="326" width="1.52" height="2" fill="#000"/>
<rect x="406.25" y="290" width="7.72" height="3" fill="#fff"/>
<rect x="409.63" y="290" width="1.52" height="2" fill="#000"/>
<rect x="521.77" y="532" width="7.72" height="3" fill="#fff"/>
<rect x="525.15" y="532" width="1.52" height="2" fill="#000"/>
<rect x="570.78" y="532" width="7.72" height="3" fill="#fff"/>
<rect x="574.16" y="532" width="1.52" height="2" fill="#000"/>
</svg></body></html>
